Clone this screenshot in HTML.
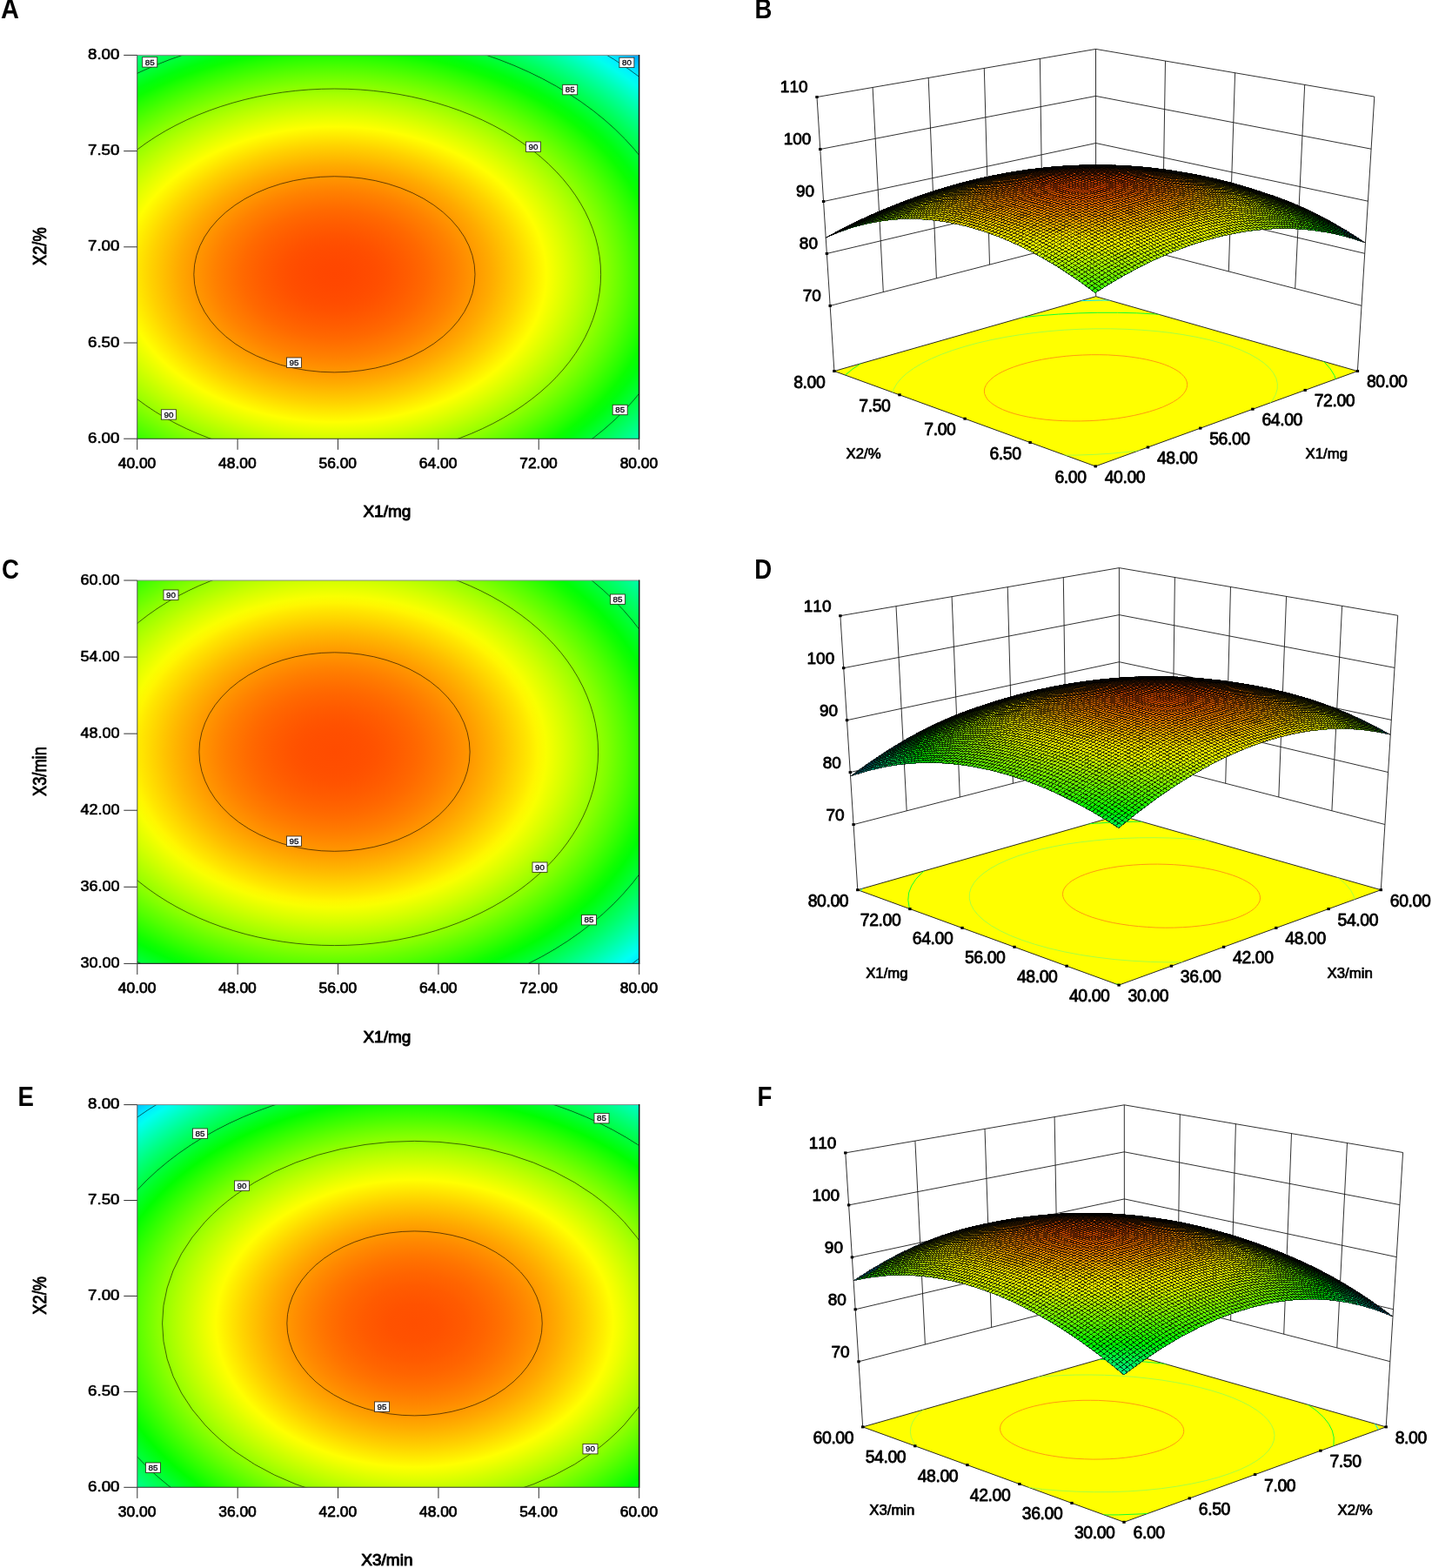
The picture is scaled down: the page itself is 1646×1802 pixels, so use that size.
<!DOCTYPE html>
<html><head><meta charset="utf-8"><title>Response surface and contour plots</title>
<style>html,body{margin:0;padding:0;background:#fff;overflow:hidden}svg{display:block}text{font-kerning:none}</style></head>
<body><svg width="1646" height="1802" viewBox="0 0 1646 1802">
<rect width="1646" height="1802" fill="#fff"/>
<defs><radialGradient id="gA" gradientUnits="userSpaceOnUse" cx="0" cy="0" r="1" fx="0" fy="0" gradientTransform="translate(384.42 315.32) scale(508.42 354.15)"><stop offset="0.0000" stop-color="#ff4600"/><stop offset="0.0208" stop-color="#ff4700"/><stop offset="0.0417" stop-color="#ff4800"/><stop offset="0.0625" stop-color="#ff4a00"/><stop offset="0.0833" stop-color="#ff4c00"/><stop offset="0.1042" stop-color="#ff4f00"/><stop offset="0.1250" stop-color="#ff5300"/><stop offset="0.1458" stop-color="#ff5800"/><stop offset="0.1667" stop-color="#ff5d00"/><stop offset="0.1875" stop-color="#ff6300"/><stop offset="0.2083" stop-color="#ff6900"/><stop offset="0.2292" stop-color="#ff7100"/><stop offset="0.2500" stop-color="#ff7900"/><stop offset="0.2708" stop-color="#ff8100"/><stop offset="0.2917" stop-color="#ff8b00"/><stop offset="0.3125" stop-color="#ff9500"/><stop offset="0.3333" stop-color="#ffa000"/><stop offset="0.3542" stop-color="#ffab00"/><stop offset="0.3750" stop-color="#ffb800"/><stop offset="0.3958" stop-color="#ffc500"/><stop offset="0.4167" stop-color="#ffd200"/><stop offset="0.4375" stop-color="#ffe100"/><stop offset="0.4583" stop-color="#fff000"/><stop offset="0.4792" stop-color="#ffff00"/><stop offset="0.5000" stop-color="#eeff00"/><stop offset="0.5208" stop-color="#ddff00"/><stop offset="0.5417" stop-color="#cbff00"/><stop offset="0.5625" stop-color="#b9ff00"/><stop offset="0.5833" stop-color="#a6ff00"/><stop offset="0.6042" stop-color="#92ff00"/><stop offset="0.6250" stop-color="#7dff00"/><stop offset="0.6458" stop-color="#68ff00"/><stop offset="0.6667" stop-color="#52ff00"/><stop offset="0.6875" stop-color="#3bff00"/><stop offset="0.7083" stop-color="#24ff00"/><stop offset="0.7292" stop-color="#0bff00"/><stop offset="0.7500" stop-color="#00ff0d"/><stop offset="0.7708" stop-color="#00ff27"/><stop offset="0.7917" stop-color="#00ff41"/><stop offset="0.8125" stop-color="#00ff5c"/><stop offset="0.8333" stop-color="#00ff78"/><stop offset="0.8542" stop-color="#00ff94"/><stop offset="0.8750" stop-color="#00ffb1"/><stop offset="0.8958" stop-color="#00ffcf"/><stop offset="0.9167" stop-color="#00ffed"/><stop offset="0.9375" stop-color="#00f2ff"/><stop offset="0.9583" stop-color="#00d2ff"/><stop offset="0.9792" stop-color="#00b2ff"/><stop offset="1.0000" stop-color="#0090ff"/></radialGradient>
<clipPath id="cA"><rect x="157.70" y="63.40" width="576.90" height="440.80"/></clipPath>
<radialGradient id="gC" gradientUnits="userSpaceOnUse" cx="0" cy="0" r="1" fx="0" fy="0" gradientTransform="translate(384.52 864.08) scale(486.96 357.49)"><stop offset="0.0000" stop-color="#ff4c00"/><stop offset="0.0208" stop-color="#ff4d00"/><stop offset="0.0417" stop-color="#ff4e00"/><stop offset="0.0625" stop-color="#ff4f00"/><stop offset="0.0833" stop-color="#ff5100"/><stop offset="0.1042" stop-color="#ff5400"/><stop offset="0.1250" stop-color="#ff5800"/><stop offset="0.1458" stop-color="#ff5c00"/><stop offset="0.1667" stop-color="#ff6100"/><stop offset="0.1875" stop-color="#ff6600"/><stop offset="0.2083" stop-color="#ff6c00"/><stop offset="0.2292" stop-color="#ff7300"/><stop offset="0.2500" stop-color="#ff7a00"/><stop offset="0.2708" stop-color="#ff8200"/><stop offset="0.2917" stop-color="#ff8b00"/><stop offset="0.3125" stop-color="#ff9400"/><stop offset="0.3333" stop-color="#ff9e00"/><stop offset="0.3542" stop-color="#ffa900"/><stop offset="0.3750" stop-color="#ffb400"/><stop offset="0.3958" stop-color="#ffc000"/><stop offset="0.4167" stop-color="#ffcd00"/><stop offset="0.4375" stop-color="#ffda00"/><stop offset="0.4583" stop-color="#ffe700"/><stop offset="0.4792" stop-color="#fff600"/><stop offset="0.5000" stop-color="#f9ff00"/><stop offset="0.5208" stop-color="#e9ff00"/><stop offset="0.5417" stop-color="#d9ff00"/><stop offset="0.5625" stop-color="#c8ff00"/><stop offset="0.5833" stop-color="#b6ff00"/><stop offset="0.6042" stop-color="#a4ff00"/><stop offset="0.6250" stop-color="#91ff00"/><stop offset="0.6458" stop-color="#7eff00"/><stop offset="0.6667" stop-color="#69ff00"/><stop offset="0.6875" stop-color="#55ff00"/><stop offset="0.7083" stop-color="#3fff00"/><stop offset="0.7292" stop-color="#29ff00"/><stop offset="0.7500" stop-color="#12ff00"/><stop offset="0.7708" stop-color="#00ff05"/><stop offset="0.7917" stop-color="#00ff1d"/><stop offset="0.8125" stop-color="#00ff36"/><stop offset="0.8333" stop-color="#00ff4f"/><stop offset="0.8542" stop-color="#00ff69"/><stop offset="0.8750" stop-color="#00ff84"/><stop offset="0.8958" stop-color="#00ff9f"/><stop offset="0.9167" stop-color="#00ffbb"/><stop offset="0.9375" stop-color="#00ffd8"/><stop offset="0.9583" stop-color="#00fff5"/><stop offset="0.9792" stop-color="#00ebff"/><stop offset="1.0000" stop-color="#00cdff"/></radialGradient>
<clipPath id="cC"><rect x="157.80" y="667.00" width="576.90" height="440.40"/></clipPath>
<radialGradient id="gE" gradientUnits="userSpaceOnUse" cx="0" cy="0" r="1" fx="0" fy="0" gradientTransform="translate(476.54 1520.89) scale(476.45 344.25)"><stop offset="0.0000" stop-color="#ff4f00"/><stop offset="0.0208" stop-color="#ff5000"/><stop offset="0.0417" stop-color="#ff5100"/><stop offset="0.0625" stop-color="#ff5200"/><stop offset="0.0833" stop-color="#ff5500"/><stop offset="0.1042" stop-color="#ff5800"/><stop offset="0.1250" stop-color="#ff5b00"/><stop offset="0.1458" stop-color="#ff6000"/><stop offset="0.1667" stop-color="#ff6400"/><stop offset="0.1875" stop-color="#ff6a00"/><stop offset="0.2083" stop-color="#ff7000"/><stop offset="0.2292" stop-color="#ff7700"/><stop offset="0.2500" stop-color="#ff7f00"/><stop offset="0.2708" stop-color="#ff8700"/><stop offset="0.2917" stop-color="#ff9000"/><stop offset="0.3125" stop-color="#ff9a00"/><stop offset="0.3333" stop-color="#ffa400"/><stop offset="0.3542" stop-color="#ffaf00"/><stop offset="0.3750" stop-color="#ffbb00"/><stop offset="0.3958" stop-color="#ffc700"/><stop offset="0.4167" stop-color="#ffd400"/><stop offset="0.4375" stop-color="#ffe200"/><stop offset="0.4583" stop-color="#fff000"/><stop offset="0.4792" stop-color="#ffff00"/><stop offset="0.5000" stop-color="#f0ff00"/><stop offset="0.5208" stop-color="#dfff00"/><stop offset="0.5417" stop-color="#ceff00"/><stop offset="0.5625" stop-color="#bdff00"/><stop offset="0.5833" stop-color="#abff00"/><stop offset="0.6042" stop-color="#98ff00"/><stop offset="0.6250" stop-color="#84ff00"/><stop offset="0.6458" stop-color="#70ff00"/><stop offset="0.6667" stop-color="#5bff00"/><stop offset="0.6875" stop-color="#45ff00"/><stop offset="0.7083" stop-color="#2fff00"/><stop offset="0.7292" stop-color="#18ff00"/><stop offset="0.7500" stop-color="#01ff00"/><stop offset="0.7708" stop-color="#00ff18"/><stop offset="0.7917" stop-color="#00ff31"/><stop offset="0.8125" stop-color="#00ff4a"/><stop offset="0.8333" stop-color="#00ff64"/><stop offset="0.8542" stop-color="#00ff7f"/><stop offset="0.8750" stop-color="#00ff9b"/><stop offset="0.8958" stop-color="#00ffb7"/><stop offset="0.9167" stop-color="#00ffd4"/><stop offset="0.9375" stop-color="#00fff1"/><stop offset="0.9583" stop-color="#00eeff"/><stop offset="0.9792" stop-color="#00d0ff"/><stop offset="1.0000" stop-color="#00b0ff"/></radialGradient>
<clipPath id="cE"><rect x="157.80" y="1269.60" width="576.90" height="439.70"/></clipPath>
<clipPath id="fB"><path d="M958.9 426.5L1259.2 535.9L1560.4 426.5L1259.7 340.7Z"/></clipPath>
<clipPath id="sB"><path d="M949.2 273.2L952.5 271.7L955.7 270.3L959 268.9L962.3 267.6L965.6 266.3L968.9 265.1L972.3 263.9L975.7 262.8L979 261.7L982.4 260.7L985.9 259.7L989.3 258.8L992.7 258L996.2 257.2L999.7 256.4L1003.2 255.7L1006.7 255L1010.2 254.5L1013.8 253.9L1017.3 253.4L1020.9 253L1024.5 252.6L1028.1 252.3L1031.8 252L1035.4 251.8L1039.1 251.7L1042.8 251.6L1046.5 251.6L1050.2 251.6L1053.9 251.7L1057.7 251.8L1060.7 252L1063.7 252.2L1066.7 252.4L1069.8 252.7L1072.8 253L1075.9 253.4L1078.9 253.8L1082 254.2L1085.1 254.7L1088.2 255.2L1091.3 255.7L1094.4 256.3L1097.6 256.9L1100.7 257.6L1103.9 258.3L1107 259L1110.2 259.8L1113.4 260.6L1116.6 261.5L1119.8 262.4L1123 263.4L1126.2 264.4L1129.4 265.4L1132.7 266.5L1135.9 267.6L1139.2 268.7L1142.4 269.9L1145.7 271.2L1149 272.5L1152.3 273.8L1155.6 275.2L1158.9 276.6L1162.3 278L1165.6 279.5L1168.9 281.1L1172.3 282.6L1175.7 284.3L1179 285.9L1182.4 287.6L1185.8 289.4L1189.2 291.2L1192.6 293L1196 294.9L1199.4 296.8L1202.9 298.8L1206.3 300.8L1208.9 302.4L1211.5 303.9L1214.1 305.5L1216.7 307.2L1219.3 308.8L1221.9 310.5L1224.5 312.2L1227.2 313.9L1229.8 315.6L1232.4 317.4L1235.1 319.2L1237.7 321L1240.3 322.9L1243 324.7L1245.6 326.6L1248.3 328.5L1251 330.5L1253.6 332.5L1256.3 334.5L1259 336.5L1261.7 334.8L1264.3 333.1L1267 331.4L1269.7 329.7L1272.3 328.1L1275 326.5L1277.6 324.9L1280.3 323.3L1282.9 321.7L1285.6 320.2L1288.2 318.7L1290.8 317.2L1293.4 315.7L1296.9 313.8L1300.4 311.9L1303.9 310.1L1307.4 308.3L1310.8 306.5L1314.3 304.8L1317.7 303.1L1321.1 301.4L1324.5 299.8L1327.9 298.2L1331.3 296.6L1334.7 295.1L1338.1 293.6L1341.5 292.2L1344.9 290.8L1348.2 289.4L1351.6 288.1L1354.9 286.8L1358.2 285.5L1361.5 284.3L1364.8 283.1L1368.1 281.9L1371.4 280.8L1374.7 279.7L1378 278.7L1381.2 277.7L1384.5 276.7L1387.7 275.7L1391 274.8L1394.2 273.9L1397.4 273.1L1400.6 272.3L1403.8 271.5L1407 270.8L1410.2 270L1413.3 269.4L1416.5 268.7L1419.6 268.1L1422.8 267.5L1425.9 267L1429 266.5L1432.1 266L1435.2 265.6L1438.3 265.2L1441.4 264.8L1444.4 264.4L1447.5 264.1L1450.6 263.8L1453.6 263.6L1456.6 263.4L1459.6 263.2L1462.6 263L1465.6 262.9L1469.4 262.8L1473.1 262.7L1476.8 262.7L1480.5 262.7L1484.1 262.8L1487.8 263L1491.4 263.1L1495.1 263.3L1498.7 263.6L1502.3 263.9L1505.8 264.3L1509.4 264.7L1512.9 265.2L1516.5 265.7L1520 266.2L1523.5 266.8L1527 267.4L1530.4 268.1L1533.9 268.8L1537.3 269.6L1540.7 270.4L1544.1 271.3L1547.5 272.1L1550.9 273.1L1554.2 274.1L1557.6 275.1L1560.9 276.2L1564.2 277.3L1567.5 278.4L1565.2 276.3L1562.7 274.6L1560.1 272.9L1557.6 271.3L1555 269.7L1551.7 267.5L1548.3 265.5L1544.9 263.4L1541.5 261.4L1538.2 259.4L1534.8 257.5L1531.5 255.6L1528.1 253.8L1524.8 252L1521.4 250.2L1518.1 248.5L1514.8 246.8L1511.5 245.1L1508.1 243.5L1504.8 241.9L1501.5 240.4L1498.2 238.9L1494.9 237.4L1491.6 236L1488.4 234.6L1485.1 233.2L1481.8 231.9L1478.5 230.6L1475.3 229.4L1470.9 227.7L1467.5 226.5L1464 225.3L1460.6 224.1L1457.1 222.9L1453.7 221.7L1450.2 220.6L1446.8 219.4L1443.3 218.3L1439.9 217.2L1436.4 216.2L1433 215.1L1429.5 214.1L1426 213.1L1422.6 212.1L1419.1 211.2L1415.6 210.2L1412.2 209.3L1408.7 208.4L1405.2 207.5L1401.7 206.7L1398.2 205.8L1394.8 205L1391.3 204.2L1387.8 203.4L1384.3 202.7L1380.8 202L1377.3 201.2L1373.8 200.6L1370.3 199.9L1366.8 199.2L1363.3 198.6L1359.8 198L1356.3 197.4L1352.8 196.9L1349.3 196.3L1345.8 195.8L1342.3 195.3L1338.8 194.8L1335.3 194.3L1331.7 193.9L1328.2 193.5L1324.7 193.1L1321.2 192.7L1317.7 192.4L1314.1 192L1310.6 191.7L1307.1 191.4L1303.6 191.2L1300 190.9L1296.5 190.7L1293 190.5L1289.4 190.3L1285.9 190.2L1282.4 190L1278.8 189.9L1275.3 189.8L1271.8 189.7L1268.2 189.7L1264.7 189.6L1261.1 189.6L1257.6 189.6L1254.1 189.7L1250.5 189.7L1247 189.8L1243.4 189.9L1239.9 190L1236.3 190.1L1232.8 190.3L1229.2 190.5L1225.7 190.7L1222.1 190.9L1218.6 191.2L1215 191.4L1211.5 191.7L1207.9 192L1204.4 192.3L1200.8 192.7L1197.3 193.1L1193.7 193.5L1190.2 193.9L1186.6 194.3L1183.1 194.8L1179.5 195.3L1175.9 195.8L1172.4 196.3L1168.8 196.8L1165.3 197.4L1161.7 198L1158.2 198.6L1154.6 199.2L1151 199.9L1147.5 200.6L1143.9 201.3L1140.4 202L1136.8 202.7L1133.2 203.5L1129.7 204.3L1126.1 205.1L1122.6 205.9L1119 206.8L1115.5 207.6L1111.9 208.5L1108.3 209.4L1104.8 210.4L1101.2 211.3L1097.7 212.3L1094.1 213.3L1090.6 214.3L1087 215.4L1083.4 216.4L1079.9 217.5L1076.3 218.6L1072.8 219.8L1069.2 220.9L1065.7 222.1L1062.1 223.3L1058.6 224.5L1055 225.7L1051.5 227L1047.9 228.2L1044.4 229.5L1040.8 230.9L1037.3 232.2L1033.7 233.6L1030.2 235L1026.6 236.4L1023.1 237.8L1019.5 239.2L1016 240.7L1012.5 242.2L1008.9 243.7L1005.4 245.3L1001.8 246.8L998.3 248.4L994.8 250L991.2 251.6L988.2 253L984.9 254.6L981.5 256.2L978.1 257.8L974.8 259.5L971.4 261.3L968 263L964.6 264.8L961.2 266.6L957.8 268.5L954.3 270.3L950.9 272.3Z"/></clipPath>
<path id="bB" d="M1470.9 227.7L1467.5 226.5L1464 225.3L1460.6 224.1L1457.1 222.9L1453.7 221.7L1450.2 220.6L1446.8 219.4L1443.3 218.3L1439.9 217.2L1436.4 216.2L1433 215.1L1429.5 214.1L1426 213.1L1422.6 212.1L1419.1 211.2L1415.6 210.2L1412.2 209.3L1408.7 208.4L1405.2 207.5L1401.7 206.7L1398.2 205.8L1394.8 205L1391.3 204.2L1387.8 203.4L1384.3 202.7L1380.8 202L1377.3 201.2L1373.8 200.6L1370.3 199.9L1366.8 199.2L1363.3 198.6L1359.8 198L1356.3 197.4L1352.8 196.9L1349.3 196.3L1345.8 195.8L1342.3 195.3L1338.8 194.8L1335.3 194.3L1331.7 193.9L1328.2 193.5L1324.7 193.1L1321.2 192.7L1317.7 192.4L1314.1 192L1310.6 191.7L1307.1 191.4L1303.6 191.2L1300 190.9L1296.5 190.7L1293 190.5L1289.4 190.3L1285.9 190.2L1282.4 190L1278.8 189.9L1275.3 189.8L1271.8 189.7L1268.2 189.7L1264.7 189.6L1261.1 189.6L1257.6 189.6L1254.1 189.7L1250.5 189.7L1247 189.8L1243.4 189.9L1239.9 190L1236.3 190.1L1232.8 190.3L1229.2 190.5L1225.7 190.7L1222.1 190.9L1218.6 191.2L1215 191.4L1211.5 191.7L1207.9 192L1204.4 192.3L1200.8 192.7L1197.3 193.1L1193.7 193.5L1190.2 193.9L1186.6 194.3L1183.1 194.8L1179.5 195.3L1175.9 195.8L1172.4 196.3L1168.8 196.8L1165.3 197.4L1161.7 198L1158.2 198.6L1154.6 199.2L1151 199.9L1147.5 200.6L1143.9 201.3L1140.4 202L1136.8 202.7L1133.2 203.5L1129.7 204.3L1126.1 205.1L1122.6 205.9L1119 206.8L1115.5 207.6L1111.9 208.5L1108.3 209.4L1104.8 210.4L1101.2 211.3L1097.7 212.3L1094.1 213.3L1090.6 214.3L1087 215.4L1083.4 216.4L1079.9 217.5L1076.3 218.6L1072.8 219.8L1069.2 220.9L1065.7 222.1L1062.1 223.3L1058.6 224.5L1055 225.7L1051.5 227L1047.9 228.2L1044.4 229.5L1040.8 230.9L1037.3 232.2L1033.7 233.6L1030.2 235L1026.6 236.4L1023.1 237.8L1019.5 239.2L1016 240.7L1012.5 242.2L1008.9 243.7L1005.4 245.3L1001.8 246.8L998.3 248.4L994.8 250L991.2 251.6"/>
<clipPath id="fD"><path d="M985.8 1022.7L1286.1 1132.1L1587.3 1022.7L1286.6 936.9Z"/></clipPath>
<clipPath id="sD"><path d="M977.6 892.1L980.8 890.9L984.1 889.8L987.4 888.8L990.7 887.8L994 886.8L997.3 885.9L1000.7 885L1004 884.2L1007.4 883.4L1010.8 882.6L1014.2 881.9L1017.6 881.2L1021.1 880.6L1024.5 880L1028 879.5L1031.5 879L1035 878.5L1038.5 878.1L1042.1 877.8L1045.6 877.5L1049.2 877.2L1052.8 877L1056.4 876.8L1060 876.7L1063.6 876.6L1067.3 876.6L1070.9 876.6L1074.6 876.6L1078.3 876.7L1082 876.9L1085.8 877.1L1089.5 877.4L1092.5 877.6L1095.5 877.9L1098.5 878.2L1101.6 878.5L1104.6 878.9L1107.7 879.3L1110.7 879.7L1113.8 880.2L1116.9 880.7L1120 881.2L1123.1 881.8L1126.2 882.4L1129.3 883L1132.5 883.7L1135.6 884.4L1138.8 885.1L1141.9 885.9L1145.1 886.7L1148.3 887.5L1151.5 888.4L1154.7 889.3L1157.9 890.2L1161.1 891.2L1164.4 892.2L1167.6 893.2L1170.8 894.3L1174.1 895.4L1177.4 896.5L1180.6 897.7L1183.9 898.9L1187.2 900.2L1190.5 901.4L1193.9 902.7L1197.2 904.1L1200.5 905.5L1203.9 906.9L1207.2 908.4L1210.6 909.9L1213.9 911.4L1217.3 913L1220.7 914.6L1224.1 916.2L1227.5 917.9L1230.9 919.6L1234.4 921.4L1237.8 923.1L1241.2 925L1244.7 926.8L1248.2 928.7L1251.6 930.7L1255.1 932.6L1257.7 934.2L1260.3 935.7L1263 937.2L1265.6 938.8L1268.2 940.4L1270.9 942L1273.5 943.6L1276.2 945.3L1278.8 947L1281.5 948.7L1284.1 950.4L1287.7 950L1290.4 947.8L1293 945.6L1295.7 943.5L1298.3 941.3L1301 939.2L1303.6 937.1L1306.3 935L1308.9 932.9L1311.5 930.9L1314.2 928.9L1316.8 926.9L1319.4 924.9L1322 923L1324.6 921.1L1327.2 919.2L1329.8 917.3L1332.4 915.5L1335 913.6L1337.6 911.8L1340.2 910.1L1342.8 908.3L1345.4 906.6L1347.9 904.9L1350.5 903.2L1353.1 901.5L1355.6 899.9L1358.2 898.2L1360.7 896.6L1364.1 894.5L1367.5 892.5L1370.9 890.5L1374.2 888.5L1377.6 886.5L1380.9 884.6L1384.3 882.8L1387.6 881L1390.9 879.2L1394.2 877.4L1397.5 875.7L1400.8 874.1L1404.1 872.4L1407.4 870.9L1410.7 869.3L1413.9 867.8L1417.2 866.3L1420.4 864.9L1423.7 863.5L1426.9 862.1L1430.1 860.8L1433.3 859.5L1436.5 858.3L1439.7 857.1L1442.9 855.9L1446 854.8L1449.2 853.7L1452.4 852.6L1455.5 851.6L1458.6 850.6L1461.8 849.7L1464.9 848.8L1468 847.9L1471.1 847.1L1474.2 846.3L1477.2 845.5L1480.3 844.8L1483.4 844.1L1486.4 843.4L1489.4 842.8L1492.5 842.2L1495.5 841.7L1498.5 841.1L1501.5 840.7L1504.5 840.2L1507.5 839.8L1511.2 839.3L1514.9 838.9L1518.6 838.6L1522.2 838.3L1525.9 838L1529.5 837.8L1533.1 837.7L1536.7 837.6L1540.3 837.5L1543.9 837.5L1547.5 837.6L1551 837.7L1554.5 837.9L1558 838.1L1561.5 838.3L1565 838.6L1568.5 839L1571.9 839.4L1575.3 839.9L1578.8 840.4L1582.2 840.9L1585.6 841.5L1588.9 842.2L1592.3 842.9L1595.6 843.6L1593.1 841.4L1589.7 839.5L1586.2 837.7L1582.8 835.9L1579.4 834.2L1576 832.4L1572.6 830.7L1569.2 829.1L1565.8 827.4L1562.4 825.8L1559 824.2L1555.6 822.7L1552.2 821.2L1548.9 819.7L1545.5 818.3L1542.1 816.9L1538.8 815.5L1535.4 814.2L1532.1 812.9L1528.8 811.6L1525.4 810.3L1522.1 809.1L1518.8 807.9L1515.5 806.8L1512.2 805.7L1508.9 804.6L1505.6 803.5L1502.3 802.5L1499 801.5L1495.8 800.6L1492.5 799.6L1489.2 798.7L1486 797.9L1482.8 797L1476.4 795.4L1472.9 794.6L1469.3 793.7L1465.8 792.9L1462.2 792.1L1458.7 791.4L1455.1 790.6L1451.6 789.9L1448.1 789.2L1444.5 788.5L1441 787.8L1437.4 787.2L1433.9 786.6L1430.3 786L1426.8 785.4L1423.2 784.8L1419.7 784.3L1416.2 783.8L1412.6 783.3L1409.1 782.8L1405.5 782.3L1402 781.9L1398.4 781.5L1394.9 781.1L1391.3 780.7L1387.8 780.4L1384.2 780L1380.7 779.7L1377.2 779.4L1373.6 779.2L1370.1 778.9L1366.5 778.7L1363 778.5L1359.4 778.3L1355.9 778.1L1352.3 778L1348.8 777.8L1345.3 777.7L1341.7 777.7L1338.2 777.6L1334.6 777.5L1331.1 777.5L1327.5 777.5L1324 777.5L1320.5 777.6L1316.9 777.6L1313.4 777.7L1309.8 777.8L1306.3 778L1302.8 778.1L1299.2 778.3L1295.7 778.4L1292.2 778.7L1288.6 778.9L1285.1 779.1L1281.6 779.4L1278 779.7L1274.5 780L1271 780.3L1267.5 780.7L1263.9 781L1260.4 781.4L1256.9 781.8L1253.3 782.3L1249.8 782.7L1246.3 783.2L1242.8 783.7L1239.3 784.2L1235.7 784.7L1232.2 785.3L1228.7 785.9L1225.2 786.5L1221.7 787.1L1218.2 787.7L1214.7 788.4L1211.2 789.1L1207.6 789.7L1204.1 790.5L1200.6 791.2L1197.1 792L1193.6 792.7L1190.1 793.5L1186.6 794.4L1183.1 795.2L1179.6 796.1L1176.1 796.9L1172.6 797.8L1169.2 798.8L1165.7 799.7L1162.2 800.7L1158.7 801.6L1155.2 802.6L1151.7 803.7L1148.2 804.7L1144.8 805.8L1141.3 806.9L1137.8 808L1134.3 809.1L1130.9 810.2L1127.4 811.4L1123.9 812.6L1120.5 813.8L1117 815L1113.5 816.2L1110.1 817.5L1107 818.6L1103.9 819.8L1100.7 821L1097.5 822.3L1094.3 823.6L1091.1 825L1087.9 826.3L1084.7 827.7L1081.5 829.2L1078.2 830.6L1075 832.1L1071.8 833.7L1068.5 835.2L1065.3 836.9L1062 838.5L1058.8 840.2L1055.5 841.9L1052.3 843.6L1049 845.4L1045.7 847.2L1042.4 849.1L1039.2 850.9L1035.9 852.9L1032.6 854.8L1029.3 856.8L1026 858.8L1022.7 860.9L1019.3 863L1016 865.1L1012.7 867.2L1009.4 869.4L1006.9 871.1L1004.4 872.8L1001.9 874.5L999.4 876.2L996.9 878L994.4 879.8L991.8 881.6L989.3 883.4L986.8 885.2L984.3 887L981.8 888.9L979.2 890.8Z"/></clipPath>
<path id="bD" d="M1482.8 797L1476.4 795.4L1472.9 794.6L1469.3 793.7L1465.8 792.9L1462.2 792.1L1458.7 791.4L1455.1 790.6L1451.6 789.9L1448.1 789.2L1444.5 788.5L1441 787.8L1437.4 787.2L1433.9 786.6L1430.3 786L1426.8 785.4L1423.2 784.8L1419.7 784.3L1416.2 783.8L1412.6 783.3L1409.1 782.8L1405.5 782.3L1402 781.9L1398.4 781.5L1394.9 781.1L1391.3 780.7L1387.8 780.4L1384.2 780L1380.7 779.7L1377.2 779.4L1373.6 779.2L1370.1 778.9L1366.5 778.7L1363 778.5L1359.4 778.3L1355.9 778.1L1352.3 778L1348.8 777.8L1345.3 777.7L1341.7 777.7L1338.2 777.6L1334.6 777.5L1331.1 777.5L1327.5 777.5L1324 777.5L1320.5 777.6L1316.9 777.6L1313.4 777.7L1309.8 777.8L1306.3 778L1302.8 778.1L1299.2 778.3L1295.7 778.4L1292.2 778.7L1288.6 778.9L1285.1 779.1L1281.6 779.4L1278 779.7L1274.5 780L1271 780.3L1267.5 780.7L1263.9 781L1260.4 781.4L1256.9 781.8L1253.3 782.3L1249.8 782.7L1246.3 783.2L1242.8 783.7L1239.3 784.2L1235.7 784.7L1232.2 785.3L1228.7 785.9L1225.2 786.5L1221.7 787.1L1218.2 787.7L1214.7 788.4L1211.2 789.1L1207.6 789.7L1204.1 790.5L1200.6 791.2L1197.1 792L1193.6 792.7L1190.1 793.5L1186.6 794.4L1183.1 795.2L1179.6 796.1L1176.1 796.9L1172.6 797.8L1169.2 798.8L1165.7 799.7L1162.2 800.7L1158.7 801.6L1155.2 802.6L1151.7 803.7L1148.2 804.7L1144.8 805.8L1141.3 806.9L1137.8 808L1134.3 809.1L1130.9 810.2L1127.4 811.4L1123.9 812.6L1120.5 813.8L1117 815L1113.5 816.2L1110.1 817.5L1107 818.6"/>
<clipPath id="fF"><path d="M991.7 1639.9L1292.0 1749.3L1593.2 1639.9L1292.5 1554.1Z"/></clipPath>
<clipPath id="sF"><path d="M981.1 1471.8L984.4 1471.1L987.7 1470.4L991 1469.7L994.4 1469.1L997.7 1468.5L1001.1 1468L1004.5 1467.5L1007.9 1467.1L1011.4 1466.7L1014.8 1466.3L1018.3 1466.1L1021.7 1465.8L1025.2 1465.6L1028.7 1465.5L1032.3 1465.4L1035.8 1465.4L1039.3 1465.4L1042.9 1465.5L1046.5 1465.6L1050.1 1465.8L1053.7 1466L1057.3 1466.3L1061 1466.6L1064.6 1467L1068.3 1467.4L1072 1467.9L1075.7 1468.5L1078.7 1468.9L1081.7 1469.5L1084.7 1470L1087.7 1470.6L1090.7 1471.2L1093.7 1471.8L1096.8 1472.5L1099.8 1473.3L1102.9 1474L1105.9 1474.8L1109 1475.6L1112.1 1476.5L1115.2 1477.4L1118.3 1478.3L1121.4 1479.3L1124.5 1480.3L1127.6 1481.4L1130.8 1482.5L1133.9 1483.6L1137.1 1484.7L1140.2 1485.9L1143.4 1487.2L1146.6 1488.4L1149.8 1489.7L1153 1491.1L1156.2 1492.5L1159.4 1493.9L1162.7 1495.4L1165.9 1496.9L1169.2 1498.4L1172.4 1500L1175.7 1501.6L1179 1503.2L1182.3 1504.9L1185.5 1506.7L1188.9 1508.4L1192.2 1510.2L1195.5 1512.1L1198.8 1514L1202.1 1515.9L1205.5 1517.9L1208.9 1519.9L1212.2 1521.9L1215.6 1524L1219 1526.1L1221.5 1527.7L1224.1 1529.4L1226.6 1531L1229.2 1532.7L1231.7 1534.4L1234.3 1536.2L1236.8 1537.9L1239.4 1539.7L1242 1541.5L1244.6 1543.3L1247.2 1545.2L1249.8 1547L1252.4 1548.9L1255 1550.8L1257.6 1552.8L1260.2 1554.7L1262.8 1556.7L1265.4 1558.7L1268 1560.7L1270.7 1562.8L1273.3 1564.9L1275.9 1567L1278.6 1569.1L1281.2 1571.2L1283.8 1573.4L1286.5 1575.6L1289.2 1577.8L1291.8 1580L1294.5 1578L1297.1 1576L1299.8 1574L1302.4 1572L1305.1 1570.1L1307.7 1568.2L1310.4 1566.3L1313 1564.5L1315.6 1562.6L1318.3 1560.8L1320.9 1559L1323.5 1557.3L1326.1 1555.5L1328.7 1553.8L1331.3 1552.1L1333.9 1550.5L1336.5 1548.8L1339.1 1547.2L1341.7 1545.6L1344.2 1544.1L1347.7 1542L1351.1 1540L1354.5 1538.1L1357.9 1536.2L1361.3 1534.3L1364.7 1532.5L1368.1 1530.7L1371.4 1529L1374.8 1527.3L1378.1 1525.6L1381.5 1524L1384.8 1522.4L1388.1 1520.9L1391.5 1519.4L1394.8 1518L1398.1 1516.6L1401.3 1515.2L1404.6 1513.9L1407.9 1512.6L1411.1 1511.4L1414.4 1510.2L1417.6 1509.1L1420.9 1507.9L1424.1 1506.9L1427.3 1505.9L1430.5 1504.9L1433.7 1503.9L1436.9 1503L1440.1 1502.2L1443.2 1501.3L1446.4 1500.5L1449.5 1499.8L1452.7 1499.1L1455.8 1498.4L1458.9 1497.8L1462 1497.2L1465.1 1496.7L1468.2 1496.2L1471.3 1495.7L1474.3 1495.3L1477.4 1494.9L1480.4 1494.5L1483.5 1494.2L1486.5 1493.9L1489.5 1493.7L1492.5 1493.5L1495.5 1493.3L1499.2 1493.2L1503 1493.1L1506.7 1493L1510.3 1493.1L1514 1493.1L1517.7 1493.3L1521.3 1493.5L1524.9 1493.7L1528.5 1494L1532.1 1494.4L1535.7 1494.8L1539.2 1495.3L1542.8 1495.8L1546.3 1496.4L1549.8 1497L1553.3 1497.7L1556.7 1498.4L1560.2 1499.2L1563.6 1500.1L1567.1 1501L1570.5 1501.9L1573.8 1502.9L1577.2 1504L1580.6 1505.1L1583.9 1506.2L1587.2 1507.5L1590.5 1508.7L1593.8 1510L1597.1 1511.4L1600.4 1512.8L1597.6 1510.5L1595.1 1508.6L1592.6 1506.8L1590.1 1504.9L1587.5 1503.1L1585 1501.3L1582.5 1499.5L1580 1497.8L1577.5 1496L1575 1494.3L1572.5 1492.6L1570 1491L1566.7 1488.7L1563.3 1486.6L1560 1484.4L1556.7 1482.3L1553.4 1480.3L1550.1 1478.2L1546.8 1476.2L1543.5 1474.3L1540.2 1472.3L1536.9 1470.5L1533.6 1468.6L1530.3 1466.8L1527.1 1465L1523.8 1463.2L1520.6 1461.5L1517.3 1459.8L1514 1458.2L1510.8 1456.6L1507.6 1455L1504.3 1453.4L1501.1 1451.9L1497.9 1450.4L1493.6 1448.5L1490.1 1447L1486.6 1445.4L1483.1 1443.9L1479.6 1442.4L1476 1441L1472.5 1439.5L1469 1438.1L1465.5 1436.7L1462 1435.3L1458.5 1434L1455 1432.7L1451.5 1431.4L1447.9 1430.1L1444.4 1428.8L1440.9 1427.6L1437.4 1426.4L1433.9 1425.2L1430.3 1424L1426.8 1422.8L1423.3 1421.7L1419.8 1420.6L1416.2 1419.5L1412.7 1418.5L1409.2 1417.4L1405.7 1416.4L1402.1 1415.4L1398.6 1414.5L1395.1 1413.5L1391.5 1412.6L1388 1411.7L1384.5 1410.8L1380.9 1409.9L1377.4 1409.1L1373.9 1408.3L1370.3 1407.5L1366.8 1406.7L1363.3 1406L1359.7 1405.3L1356.2 1404.6L1352.7 1403.9L1349.1 1403.2L1345.6 1402.6L1342.1 1402L1338.5 1401.4L1335 1400.9L1331.5 1400.3L1327.9 1399.8L1324.4 1399.3L1320.8 1398.8L1317.3 1398.4L1313.8 1397.9L1310.2 1397.5L1306.7 1397.2L1303.2 1396.8L1299.6 1396.5L1296.1 1396.1L1292.5 1395.9L1289 1395.6L1285.5 1395.3L1281.9 1395.1L1278.4 1394.9L1274.9 1394.7L1271.3 1394.6L1267.8 1394.4L1264.3 1394.3L1260.7 1394.2L1257.2 1394.2L1253.7 1394.1L1250.1 1394.1L1246.6 1394.1L1243.1 1394.1L1239.6 1394.2L1236 1394.3L1232.5 1394.4L1229 1394.5L1225.5 1394.6L1221.9 1394.8L1218.4 1395L1214.9 1395.2L1211.4 1395.4L1207.8 1395.6L1204.3 1395.9L1200.8 1396.2L1197.3 1396.5L1193.8 1396.9L1190.2 1397.2L1186.7 1397.6L1183.2 1398L1179.7 1398.5L1176.2 1398.9L1172.7 1399.4L1169.2 1399.9L1165.7 1400.4L1162.2 1401L1158.7 1401.5L1155.2 1402.1L1151.6 1402.7L1148.1 1403.4L1144.6 1404L1141.2 1404.7L1137.7 1405.4L1134.2 1406.1L1130.7 1406.9L1127.2 1407.6L1123.7 1408.4L1120.2 1409.2L1116.7 1410.1L1113.2 1410.9L1109.6 1411.8L1106.4 1412.7L1103.2 1413.5L1100 1414.5L1096.7 1415.4L1093.5 1416.4L1090.3 1417.4L1087 1418.5L1083.8 1419.6L1080.5 1420.7L1077.2 1421.9L1074 1423.1L1070.7 1424.3L1067.4 1425.6L1064.1 1426.9L1060.8 1428.3L1057.5 1429.7L1054.2 1431.1L1050.9 1432.6L1047.6 1434.1L1044.3 1435.7L1040.9 1437.2L1037.6 1438.9L1034.3 1440.5L1030.9 1442.2L1027.6 1444L1024.2 1445.7L1020.9 1447.6L1017.5 1449.4L1014.1 1451.3L1010.8 1453.3L1007.4 1455.2L1004 1457.2L1000.6 1459.3L997.2 1461.4L994.7 1463L992.1 1464.6L989.6 1466.2L987 1467.9L984.5 1469.6L981.9 1471.3Z"/></clipPath>
<path id="bF" d="M1497.9 1450.4L1493.6 1448.5L1490.1 1447L1486.6 1445.4L1483.1 1443.9L1479.6 1442.4L1476 1441L1472.5 1439.5L1469 1438.1L1465.5 1436.7L1462 1435.3L1458.5 1434L1455 1432.7L1451.5 1431.4L1447.9 1430.1L1444.4 1428.8L1440.9 1427.6L1437.4 1426.4L1433.9 1425.2L1430.3 1424L1426.8 1422.8L1423.3 1421.7L1419.8 1420.6L1416.2 1419.5L1412.7 1418.5L1409.2 1417.4L1405.7 1416.4L1402.1 1415.4L1398.6 1414.5L1395.1 1413.5L1391.5 1412.6L1388 1411.7L1384.5 1410.8L1380.9 1409.9L1377.4 1409.1L1373.9 1408.3L1370.3 1407.5L1366.8 1406.7L1363.3 1406L1359.7 1405.3L1356.2 1404.6L1352.7 1403.9L1349.1 1403.2L1345.6 1402.6L1342.1 1402L1338.5 1401.4L1335 1400.9L1331.5 1400.3L1327.9 1399.8L1324.4 1399.3L1320.8 1398.8L1317.3 1398.4L1313.8 1397.9L1310.2 1397.5L1306.7 1397.2L1303.2 1396.8L1299.6 1396.5L1296.1 1396.1L1292.5 1395.9L1289 1395.6L1285.5 1395.3L1281.9 1395.1L1278.4 1394.9L1274.9 1394.7L1271.3 1394.6L1267.8 1394.4L1264.3 1394.3L1260.7 1394.2L1257.2 1394.2L1253.7 1394.1L1250.1 1394.1L1246.6 1394.1L1243.1 1394.1L1239.6 1394.2L1236 1394.3L1232.5 1394.4L1229 1394.5L1225.5 1394.6L1221.9 1394.8L1218.4 1395L1214.9 1395.2L1211.4 1395.4L1207.8 1395.6L1204.3 1395.9L1200.8 1396.2L1197.3 1396.5L1193.8 1396.9L1190.2 1397.2L1186.7 1397.6L1183.2 1398L1179.7 1398.5L1176.2 1398.9L1172.7 1399.4L1169.2 1399.9L1165.7 1400.4L1162.2 1401L1158.7 1401.5L1155.2 1402.1L1151.6 1402.7L1148.1 1403.4L1144.6 1404L1141.2 1404.7L1137.7 1405.4L1134.2 1406.1L1130.7 1406.9L1127.2 1407.6L1123.7 1408.4L1120.2 1409.2L1116.7 1410.1L1113.2 1410.9L1109.6 1411.8"/></defs>
<rect x="157.70" y="63.40" width="576.90" height="440.80" fill="url(#gA)"/>
<g clip-path="url(#cA)" fill="none" stroke="#000" stroke-width="0.75" stroke-opacity="0.8"><ellipse cx="384.42" cy="315.32" rx="478.59" ry="333.37"/><ellipse cx="384.42" cy="315.32" rx="401.75" ry="279.84"/><ellipse cx="384.42" cy="315.32" rx="306.20" ry="213.29"/><ellipse cx="384.42" cy="315.32" rx="161.59" ry="112.56"/></g>
<g fill="none"><path d="M157.70 63.40H734.60" stroke="#8a8a8a" stroke-width="1"/><path d="M157.70 63.40V504.20" stroke="#555" stroke-width="1"/><path d="M157.70 504.20H734.60" stroke="#333" stroke-width="1.1"/><path d="M734.60 62.90V504.70" stroke="#111" stroke-width="1.5"/></g>
<g stroke="#333" stroke-width="1" fill="none"><path d="M157.70 504.20V516.80"/><path d="M273.08 504.20V516.80"/><path d="M388.46 504.20V516.80"/><path d="M503.84 504.20V516.80"/><path d="M619.22 504.20V516.80"/><path d="M734.60 504.20V516.80"/><path d="M157.70 504.20H142.20"/><path d="M157.70 394.00H142.20"/><path d="M157.70 283.80H142.20"/><path d="M157.70 173.60H142.20"/><path d="M157.70 63.40H142.20"/></g>
<g font-family="'Liberation Sans',Arial,Helvetica,sans-serif" fill="#000"><text transform="translate(157.50 538.00)" font-size="17.4" text-anchor="middle" stroke="#000" stroke-width="0.75" stroke-linejoin="round">40.00</text><text transform="translate(272.88 538.00)" font-size="17.4" text-anchor="middle" stroke="#000" stroke-width="0.75" stroke-linejoin="round">48.00</text><text transform="translate(388.26 538.00)" font-size="17.4" text-anchor="middle" stroke="#000" stroke-width="0.75" stroke-linejoin="round">56.00</text><text transform="translate(503.64 538.00)" font-size="17.4" text-anchor="middle" stroke="#000" stroke-width="0.75" stroke-linejoin="round">64.00</text><text transform="translate(619.02 538.00)" font-size="17.4" text-anchor="middle" stroke="#000" stroke-width="0.75" stroke-linejoin="round">72.00</text><text transform="translate(734.40 538.00)" font-size="17.4" text-anchor="middle" stroke="#000" stroke-width="0.75" stroke-linejoin="round">80.00</text><text transform="translate(137.40 508.80) scale(1.100 1)" font-size="17" text-anchor="end" stroke="#000" stroke-width="0.62" stroke-linejoin="round">6.00</text><text transform="translate(137.40 398.60) scale(1.100 1)" font-size="17" text-anchor="end" stroke="#000" stroke-width="0.62" stroke-linejoin="round">6.50</text><text transform="translate(137.40 288.40) scale(1.100 1)" font-size="17" text-anchor="end" stroke="#000" stroke-width="0.62" stroke-linejoin="round">7.00</text><text transform="translate(137.40 178.20) scale(1.100 1)" font-size="17" text-anchor="end" stroke="#000" stroke-width="0.62" stroke-linejoin="round">7.50</text><text transform="translate(137.40 68.00) scale(1.100 1)" font-size="17" text-anchor="end" stroke="#000" stroke-width="0.62" stroke-linejoin="round">8.00</text><text transform="translate(444.90 594.00)" font-size="19" text-anchor="middle" stroke="#000" stroke-width="1" stroke-linejoin="round">X1/mg</text><text transform="translate(53.40 283.20) rotate(-90) scale(0.820 1)" font-size="22.3" text-anchor="middle" stroke="#000" stroke-width="0.9" stroke-linejoin="round">X2/%</text></g>
<g font-family="'Liberation Sans',Arial,Helvetica,sans-serif" fill="#15152a"><rect x="163.7" y="65.7" width="17" height="11.4" fill="#fff" stroke="#20160a" stroke-opacity="0.85" stroke-width="0.9"/><text transform="translate(172.20 75.00) scale(1.120 1)" font-size="8.8" text-anchor="middle" stroke="#000" stroke-width="0.3" stroke-linejoin="round">85</text><rect x="711.9" y="66.2" width="17" height="11.4" fill="#fff" stroke="#20160a" stroke-opacity="0.85" stroke-width="0.9"/><text transform="translate(720.40 75.00) scale(1.120 1)" font-size="8.8" text-anchor="middle" stroke="#000" stroke-width="0.3" stroke-linejoin="round">80</text><rect x="646.7" y="97.4" width="17" height="11.4" fill="#fff" stroke="#20160a" stroke-opacity="0.85" stroke-width="0.9"/><text transform="translate(655.20 106.00) scale(1.120 1)" font-size="8.8" text-anchor="middle" stroke="#000" stroke-width="0.3" stroke-linejoin="round">85</text><rect x="604.5" y="163.0" width="17" height="11.4" fill="#fff" stroke="#20160a" stroke-opacity="0.85" stroke-width="0.9"/><text transform="translate(613.00 172.00) scale(1.120 1)" font-size="8.8" text-anchor="middle" stroke="#000" stroke-width="0.3" stroke-linejoin="round">90</text><rect x="329.5" y="411.0" width="17" height="11.4" fill="#fff" stroke="#20160a" stroke-opacity="0.85" stroke-width="0.9"/><text transform="translate(338.00 420.00) scale(1.120 1)" font-size="8.8" text-anchor="middle" stroke="#000" stroke-width="0.3" stroke-linejoin="round">95</text><rect x="185.4" y="470.7" width="17" height="11.4" fill="#fff" stroke="#20160a" stroke-opacity="0.85" stroke-width="0.9"/><text transform="translate(193.90 480.00) scale(1.120 1)" font-size="8.8" text-anchor="middle" stroke="#000" stroke-width="0.3" stroke-linejoin="round">90</text><rect x="704.2" y="465.3" width="17" height="11.4" fill="#fff" stroke="#20160a" stroke-opacity="0.85" stroke-width="0.9"/><text transform="translate(712.70 474.00) scale(1.120 1)" font-size="8.8" text-anchor="middle" stroke="#000" stroke-width="0.3" stroke-linejoin="round">85</text></g>
<text transform="translate(1.10 21.00) scale(0.915 1)" font-family="'Liberation Sans',Arial,Helvetica,sans-serif" font-size="31.7" font-weight="bold" fill="#000">A</text>
<rect x="157.80" y="667.00" width="576.90" height="440.40" fill="url(#gC)"/>
<g clip-path="url(#cC)" fill="none" stroke="#000" stroke-width="0.75" stroke-opacity="0.8"><ellipse cx="384.52" cy="864.08" rx="476.60" ry="349.89"/><ellipse cx="384.52" cy="864.08" rx="399.38" ry="293.20"/><ellipse cx="384.52" cy="864.08" rx="303.09" ry="222.51"/><ellipse cx="384.52" cy="864.08" rx="155.62" ry="114.24"/></g>
<g fill="none"><path d="M157.80 667.00H734.70" stroke="#8a8a8a" stroke-width="1"/><path d="M157.80 667.00V1107.40" stroke="#555" stroke-width="1"/><path d="M157.80 1107.40H734.70" stroke="#333" stroke-width="1.1"/><path d="M734.70 666.50V1107.90" stroke="#111" stroke-width="1.5"/></g>
<g stroke="#333" stroke-width="1" fill="none"><path d="M157.80 1107.40V1120.00"/><path d="M273.18 1107.40V1120.00"/><path d="M388.56 1107.40V1120.00"/><path d="M503.94 1107.40V1120.00"/><path d="M619.32 1107.40V1120.00"/><path d="M734.70 1107.40V1120.00"/><path d="M157.80 1107.40H142.30"/><path d="M157.80 1019.32H142.30"/><path d="M157.80 931.24H142.30"/><path d="M157.80 843.16H142.30"/><path d="M157.80 755.08H142.30"/><path d="M157.80 667.00H142.30"/></g>
<g font-family="'Liberation Sans',Arial,Helvetica,sans-serif" fill="#000"><text transform="translate(157.60 1141.00)" font-size="17.4" text-anchor="middle" stroke="#000" stroke-width="0.75" stroke-linejoin="round">40.00</text><text transform="translate(272.98 1141.00)" font-size="17.4" text-anchor="middle" stroke="#000" stroke-width="0.75" stroke-linejoin="round">48.00</text><text transform="translate(388.36 1141.00)" font-size="17.4" text-anchor="middle" stroke="#000" stroke-width="0.75" stroke-linejoin="round">56.00</text><text transform="translate(503.74 1141.00)" font-size="17.4" text-anchor="middle" stroke="#000" stroke-width="0.75" stroke-linejoin="round">64.00</text><text transform="translate(619.12 1141.00)" font-size="17.4" text-anchor="middle" stroke="#000" stroke-width="0.75" stroke-linejoin="round">72.00</text><text transform="translate(734.50 1141.00)" font-size="17.4" text-anchor="middle" stroke="#000" stroke-width="0.75" stroke-linejoin="round">80.00</text><text transform="translate(137.50 1112.00) scale(1.060 1)" font-size="17" text-anchor="end" stroke="#000" stroke-width="0.62" stroke-linejoin="round">30.00</text><text transform="translate(137.50 1023.92) scale(1.060 1)" font-size="17" text-anchor="end" stroke="#000" stroke-width="0.62" stroke-linejoin="round">36.00</text><text transform="translate(137.50 935.84) scale(1.060 1)" font-size="17" text-anchor="end" stroke="#000" stroke-width="0.62" stroke-linejoin="round">42.00</text><text transform="translate(137.50 847.76) scale(1.060 1)" font-size="17" text-anchor="end" stroke="#000" stroke-width="0.62" stroke-linejoin="round">48.00</text><text transform="translate(137.50 759.68) scale(1.060 1)" font-size="17" text-anchor="end" stroke="#000" stroke-width="0.62" stroke-linejoin="round">54.00</text><text transform="translate(137.50 671.60) scale(1.060 1)" font-size="17" text-anchor="end" stroke="#000" stroke-width="0.62" stroke-linejoin="round">60.00</text><text transform="translate(444.90 1198.00)" font-size="19" text-anchor="middle" stroke="#000" stroke-width="1" stroke-linejoin="round">X1/mg</text><text transform="translate(53.40 886.60) rotate(-90) scale(0.820 1)" font-size="22.3" text-anchor="middle" stroke="#000" stroke-width="0.9" stroke-linejoin="round">X3/min</text></g>
<g font-family="'Liberation Sans',Arial,Helvetica,sans-serif" fill="#15152a"><rect x="188.0" y="678.0" width="17" height="11.4" fill="#fff" stroke="#20160a" stroke-opacity="0.85" stroke-width="0.9"/><text transform="translate(196.50 687.00) scale(1.120 1)" font-size="8.8" text-anchor="middle" stroke="#000" stroke-width="0.3" stroke-linejoin="round">90</text><rect x="701.5" y="683.0" width="17" height="11.4" fill="#fff" stroke="#20160a" stroke-opacity="0.85" stroke-width="0.9"/><text transform="translate(710.00 692.00) scale(1.120 1)" font-size="8.8" text-anchor="middle" stroke="#000" stroke-width="0.3" stroke-linejoin="round">85</text><rect x="329.5" y="961.0" width="17" height="11.4" fill="#fff" stroke="#20160a" stroke-opacity="0.85" stroke-width="0.9"/><text transform="translate(338.00 970.00) scale(1.120 1)" font-size="8.8" text-anchor="middle" stroke="#000" stroke-width="0.3" stroke-linejoin="round">95</text><rect x="612.0" y="991.0" width="17" height="11.4" fill="#fff" stroke="#20160a" stroke-opacity="0.85" stroke-width="0.9"/><text transform="translate(620.50 1000.00) scale(1.120 1)" font-size="8.8" text-anchor="middle" stroke="#000" stroke-width="0.3" stroke-linejoin="round">90</text><rect x="668.5" y="1051.5" width="17" height="11.4" fill="#fff" stroke="#20160a" stroke-opacity="0.85" stroke-width="0.9"/><text transform="translate(677.00 1060.00) scale(1.120 1)" font-size="8.8" text-anchor="middle" stroke="#000" stroke-width="0.3" stroke-linejoin="round">85</text></g>
<text transform="translate(1.95 664.80) scale(0.870 1)" font-family="'Liberation Sans',Arial,Helvetica,sans-serif" font-size="31.7" font-weight="bold" fill="#000">C</text>
<rect x="157.80" y="1269.60" width="576.90" height="439.70" fill="url(#gE)"/>
<g clip-path="url(#cE)" fill="none" stroke="#000" stroke-width="0.75" stroke-opacity="0.8"><ellipse cx="476.54" cy="1520.89" rx="457.38" ry="330.47"/><ellipse cx="476.54" cy="1520.89" rx="382.93" ry="276.68"/><ellipse cx="476.54" cy="1520.89" rx="289.96" ry="209.51"/><ellipse cx="476.54" cy="1520.89" rx="146.70" ry="105.99"/></g>
<g fill="none"><path d="M157.80 1269.60H734.70" stroke="#8a8a8a" stroke-width="1"/><path d="M157.80 1269.60V1709.30" stroke="#555" stroke-width="1"/><path d="M157.80 1709.30H734.70" stroke="#333" stroke-width="1.1"/><path d="M734.70 1269.10V1709.80" stroke="#111" stroke-width="1.5"/></g>
<g stroke="#333" stroke-width="1" fill="none"><path d="M157.80 1709.30V1721.90"/><path d="M273.18 1709.30V1721.90"/><path d="M388.56 1709.30V1721.90"/><path d="M503.94 1709.30V1721.90"/><path d="M619.32 1709.30V1721.90"/><path d="M734.70 1709.30V1721.90"/><path d="M157.80 1709.30H142.30"/><path d="M157.80 1599.38H142.30"/><path d="M157.80 1489.45H142.30"/><path d="M157.80 1379.52H142.30"/><path d="M157.80 1269.60H142.30"/></g>
<g font-family="'Liberation Sans',Arial,Helvetica,sans-serif" fill="#000"><text transform="translate(157.60 1743.00)" font-size="17.4" text-anchor="middle" stroke="#000" stroke-width="0.75" stroke-linejoin="round">30.00</text><text transform="translate(272.98 1743.00)" font-size="17.4" text-anchor="middle" stroke="#000" stroke-width="0.75" stroke-linejoin="round">36.00</text><text transform="translate(388.36 1743.00)" font-size="17.4" text-anchor="middle" stroke="#000" stroke-width="0.75" stroke-linejoin="round">42.00</text><text transform="translate(503.74 1743.00)" font-size="17.4" text-anchor="middle" stroke="#000" stroke-width="0.75" stroke-linejoin="round">48.00</text><text transform="translate(619.12 1743.00)" font-size="17.4" text-anchor="middle" stroke="#000" stroke-width="0.75" stroke-linejoin="round">54.00</text><text transform="translate(734.50 1743.00)" font-size="17.4" text-anchor="middle" stroke="#000" stroke-width="0.75" stroke-linejoin="round">60.00</text><text transform="translate(137.50 1713.90) scale(1.100 1)" font-size="17" text-anchor="end" stroke="#000" stroke-width="0.62" stroke-linejoin="round">6.00</text><text transform="translate(137.50 1603.97) scale(1.100 1)" font-size="17" text-anchor="end" stroke="#000" stroke-width="0.62" stroke-linejoin="round">6.50</text><text transform="translate(137.50 1494.05) scale(1.100 1)" font-size="17" text-anchor="end" stroke="#000" stroke-width="0.62" stroke-linejoin="round">7.00</text><text transform="translate(137.50 1384.12) scale(1.100 1)" font-size="17" text-anchor="end" stroke="#000" stroke-width="0.62" stroke-linejoin="round">7.50</text><text transform="translate(137.50 1274.20) scale(1.100 1)" font-size="17" text-anchor="end" stroke="#000" stroke-width="0.62" stroke-linejoin="round">8.00</text><text transform="translate(444.90 1799.00)" font-size="19" text-anchor="middle" stroke="#000" stroke-width="1" stroke-linejoin="round">X3/min</text><text transform="translate(53.40 1488.85) rotate(-90) scale(0.820 1)" font-size="22.3" text-anchor="middle" stroke="#000" stroke-width="0.9" stroke-linejoin="round">X2/%</text></g>
<g font-family="'Liberation Sans',Arial,Helvetica,sans-serif" fill="#15152a"><rect x="221.5" y="1297.0" width="17" height="11.4" fill="#fff" stroke="#20160a" stroke-opacity="0.85" stroke-width="0.9"/><text transform="translate(230.00 1306.00) scale(1.120 1)" font-size="8.8" text-anchor="middle" stroke="#000" stroke-width="0.3" stroke-linejoin="round">85</text><rect x="683.0" y="1279.5" width="17" height="11.4" fill="#fff" stroke="#20160a" stroke-opacity="0.85" stroke-width="0.9"/><text transform="translate(691.50 1288.00) scale(1.120 1)" font-size="8.8" text-anchor="middle" stroke="#000" stroke-width="0.3" stroke-linejoin="round">85</text><rect x="269.5" y="1357.0" width="17" height="11.4" fill="#fff" stroke="#20160a" stroke-opacity="0.85" stroke-width="0.9"/><text transform="translate(278.00 1366.00) scale(1.120 1)" font-size="8.8" text-anchor="middle" stroke="#000" stroke-width="0.3" stroke-linejoin="round">90</text><rect x="430.5" y="1611.0" width="17" height="11.4" fill="#fff" stroke="#20160a" stroke-opacity="0.85" stroke-width="0.9"/><text transform="translate(439.00 1620.00) scale(1.120 1)" font-size="8.8" text-anchor="middle" stroke="#000" stroke-width="0.3" stroke-linejoin="round">95</text><rect x="670.0" y="1659.5" width="17" height="11.4" fill="#fff" stroke="#20160a" stroke-opacity="0.85" stroke-width="0.9"/><text transform="translate(678.50 1668.00) scale(1.120 1)" font-size="8.8" text-anchor="middle" stroke="#000" stroke-width="0.3" stroke-linejoin="round">90</text><rect x="167.5" y="1681.0" width="17" height="11.4" fill="#fff" stroke="#20160a" stroke-opacity="0.85" stroke-width="0.9"/><text transform="translate(176.00 1690.00) scale(1.120 1)" font-size="8.8" text-anchor="middle" stroke="#000" stroke-width="0.3" stroke-linejoin="round">85</text></g>
<text transform="translate(20.40 1270.50) scale(0.870 1)" font-family="'Liberation Sans',Arial,Helvetica,sans-serif" font-size="31.7" font-weight="bold" fill="#000">E</text>
<g stroke="#1a1a1a" stroke-width="0.9" fill="none"><path d="M958.9 426.5L939.0 111.5"/><path d="M1259.7 340.7L1259.5 56.4"/><path d="M1560.4 426.5L1579.8 111.1"/><path d="M954.2 351.4L1259.7 272.6"/><path d="M1259.7 272.6L1565.0 351.3"/><path d="M950.4 291.4L1259.6 218.5"/><path d="M1259.6 218.5L1568.7 291.3"/><path d="M946.6 231.5L1259.6 164.5"/><path d="M1259.6 164.5L1572.4 231.2"/><path d="M942.8 171.5L1259.5 110.4"/><path d="M1259.5 110.4L1576.1 171.2"/><path d="M939.0 111.5L1259.5 56.4"/><path d="M1259.5 56.4L1579.8 111.1"/><path d="M1015.3 335.7L1003.1 100.5"/><path d="M1076.4 319.9L1067.2 89.5"/><path d="M1137.5 304.1L1131.3 78.4"/><path d="M1198.6 288.3L1195.4 67.4"/><path d="M1488.7 331.6L1499.7 97.4"/><path d="M1412.3 311.9L1419.6 83.7"/><path d="M1336.0 292.2L1339.5 70.1"/></g>
<path d="M958.9 426.5L1259.2 535.9L1560.4 426.5L1259.7 340.7Z" fill="#ffff00" stroke="#111" stroke-width="0.9"/>
<g clip-path="url(#fB)" fill="none" stroke-width="1"><path stroke="#00e8ff" d="M1481.2 368.4L1460.5 363.2L1438.7 358.7L1415.8 354.8L1392 351.6L1367.4 348.9L1342.3 347L1316.6 345.7L1290.5 345L1264.1 345.1L1237.7 345.8L1211.2 347.1L1184.9 349.1L1158.8 351.8L1133.1 355.1L1108 359L1083.5 363.6L1059.8 368.8L1037.1 374.6L1015.6 380.9L995.2 387.9L976.3 395.3L959 403.3L943.5 411.7L929.8 420.6L918.2 429.9L908.8 439.4L901.8 449.3L897.4 459.3L895.5 469.5L896.4 479.7L900.2 489.9L906.9 499.9L916.5 509.7L929.2 519.2L944.7 528.3L963.2 536.8L984.4 544.7L1008.3 551.9L1034.6 558.2L1063.1 563.6L1093.5 568L1125.6 571.4L1158.9 573.7L1193.2 574.8L1228 574.8L1262.9 573.6L1297.6 571.3L1331.6 567.9L1364.6 563.4L1396.3 557.9L1426.3 551.6L1454.4 544.4L1480.2 536.4L1503.7 527.9L1524.5 518.8L1542.7 509.3L1558.1 499.4L1570.6 489.3L1580.3 479.2L1587.2 468.9L1591.2 458.7L1592.6 448.7L1591.3 438.9L1587.5 429.3L1581.3 420.1L1572.7 411.2L1562 402.8L1549.3 394.8L1534.8 387.4L1518.4 380.5L1500.5 374.2L1481.2 368.4 Z"/><path stroke="#10ff30" d="M1446.8 379.6L1429.3 375.1L1410.9 371.2L1391.4 367.8L1371.2 365L1350.3 362.7L1328.7 361L1306.8 359.8L1284.4 359.3L1261.9 359.3L1239.2 359.9L1216.6 361.1L1194.1 362.8L1171.8 365.1L1149.9 368L1128.5 371.4L1107.8 375.4L1087.7 379.9L1068.6 384.9L1050.5 390.4L1033.5 396.4L1017.8 402.8L1003.5 409.6L990.8 416.8L979.7 424.3L970.4 432.1L963.1 440.2L957.8 448.4L954.6 456.8L953.6 465.3L955 473.8L958.7 482.2L964.8 490.4L973.4 498.5L984.3 506.2L997.7 513.6L1013.3 520.5L1031.1 526.9L1051.1 532.7L1072.9 537.8L1096.4 542.1L1121.5 545.6L1147.9 548.3L1175.2 550.1L1203.2 551L1231.7 551L1260.3 550.1L1288.7 548.2L1316.6 545.5L1343.7 541.9L1369.9 537.5L1394.7 532.4L1418 526.6L1439.5 520.2L1459.2 513.3L1476.8 505.9L1492.3 498.1L1505.6 490L1516.5 481.7L1525.1 473.3L1531.4 464.8L1535.4 456.3L1537.1 448L1536.5 439.7L1533.9 431.6L1529.1 423.8L1522.4 416.3L1513.8 409.1L1503.5 402.3L1491.5 396L1478 390L1463 384.6L1446.8 379.6 Z"/><path stroke="#a8ff40" d="M1402.5 394L1389.2 390.4L1374.9 387.3L1359.9 384.6L1344.2 382.3L1328 380.5L1311.2 379.2L1294 378.3L1276.6 377.8L1259 377.8L1241.3 378.3L1223.6 379.2L1206 380.6L1188.7 382.5L1171.7 384.8L1155.1 387.5L1139 390.7L1123.6 394.2L1109 398.2L1095.2 402.5L1082.3 407.2L1070.5 412.2L1059.9 417.5L1050.5 423.1L1042.4 428.9L1035.8 434.9L1030.7 441.1L1027.2 447.4L1025.3 453.7L1025.1 460.1L1026.7 466.5L1030.1 472.8L1035.2 478.9L1042.1 484.9L1050.7 490.6L1061.1 496L1073.1 501.1L1086.7 505.7L1101.8 509.9L1118.2 513.6L1135.8 516.7L1154.5 519.2L1174.1 521.2L1194.3 522.5L1215.1 523.1L1236.1 523.1L1257.2 522.4L1278.2 521.1L1298.9 519.1L1319.1 516.6L1338.5 513.4L1357.1 509.7L1374.6 505.5L1390.9 500.8L1405.9 495.7L1419.4 490.3L1431.4 484.6L1441.8 478.6L1450.5 472.4L1457.5 466.2L1462.8 459.8L1466.3 453.4L1468.2 447L1468.3 440.7L1466.8 434.5L1463.6 428.5L1459 422.7L1452.8 417.2L1445.2 411.9L1436.3 406.9L1426.2 402.2L1414.9 397.9L1402.5 394 Z"/><path stroke="#ff9a10" d="M1332.2 416.8L1325.1 414.9L1317.5 413.1L1309.4 411.6L1300.9 410.3L1292 409.2L1282.9 408.5L1273.5 407.9L1263.9 407.7L1254.3 407.7L1244.6 408L1234.9 408.5L1225.2 409.3L1215.8 410.4L1206.5 411.7L1197.6 413.2L1188.9 415L1180.7 417L1172.9 419.2L1165.6 421.6L1158.9 424.2L1152.8 426.9L1147.4 429.8L1142.7 432.8L1138.8 436L1135.7 439.2L1133.4 442.5L1131.9 445.8L1131.4 449.1L1131.7 452.5L1133 455.7L1135.1 459L1138.2 462.1L1142.1 465.1L1146.9 468L1152.5 470.7L1158.9 473.2L1166.1 475.5L1173.9 477.5L1182.4 479.3L1191.5 480.8L1201 482.1L1210.9 483L1221.2 483.6L1231.6 483.9L1242.3 483.9L1252.9 483.6L1263.5 483L1274 482L1284.3 480.8L1294.2 479.2L1303.7 477.4L1312.8 475.3L1321.3 473L1329.2 470.5L1336.4 467.8L1342.8 464.9L1348.5 461.9L1353.4 458.8L1357.4 455.6L1360.6 452.3L1362.8 448.9L1364.2 445.6L1364.7 442.3L1364.3 439L1363.1 435.8L1361 432.7L1358 429.6L1354.3 426.7L1349.8 424L1344.6 421.4L1338.7 419L1332.2 416.8 Z"/></g>
<g clip-path="url(#sB)"><path d="M949.2 273.2L952.5 271.7L955.7 270.3L959 268.9L962.3 267.6L965.6 266.3L968.9 265.1L972.3 263.9L975.7 262.8L979 261.7L982.4 260.7L985.9 259.7L989.3 258.8L992.7 258L996.2 257.2L999.7 256.4L1003.2 255.7L1006.7 255L1010.2 254.5L1013.8 253.9L1017.3 253.4L1020.9 253L1024.5 252.6L1028.1 252.3L1031.8 252L1035.4 251.8L1039.1 251.7L1042.8 251.6L1046.5 251.6L1050.2 251.6L1053.9 251.7L1057.7 251.8L1060.7 252L1063.7 252.2L1066.7 252.4L1069.8 252.7L1072.8 253L1075.9 253.4L1078.9 253.8L1082 254.2L1085.1 254.7L1088.2 255.2L1091.3 255.7L1094.4 256.3L1097.6 256.9L1100.7 257.6L1103.9 258.3L1107 259L1110.2 259.8L1113.4 260.6L1116.6 261.5L1119.8 262.4L1123 263.4L1126.2 264.4L1129.4 265.4L1132.7 266.5L1135.9 267.6L1139.2 268.7L1142.4 269.9L1145.7 271.2L1149 272.5L1152.3 273.8L1155.6 275.2L1158.9 276.6L1162.3 278L1165.6 279.5L1168.9 281.1L1172.3 282.6L1175.7 284.3L1179 285.9L1182.4 287.6L1185.8 289.4L1189.2 291.2L1192.6 293L1196 294.9L1199.4 296.8L1202.9 298.8L1206.3 300.8L1208.9 302.4L1211.5 303.9L1214.1 305.5L1216.7 307.2L1219.3 308.8L1221.9 310.5L1224.5 312.2L1227.2 313.9L1229.8 315.6L1232.4 317.4L1235.1 319.2L1237.7 321L1240.3 322.9L1243 324.7L1245.6 326.6L1248.3 328.5L1251 330.5L1253.6 332.5L1256.3 334.5L1259 336.5L1261.7 334.8L1264.3 333.1L1267 331.4L1269.7 329.7L1272.3 328.1L1275 326.5L1277.6 324.9L1280.3 323.3L1282.9 321.7L1285.6 320.2L1288.2 318.7L1290.8 317.2L1293.4 315.7L1296.9 313.8L1300.4 311.9L1303.9 310.1L1307.4 308.3L1310.8 306.5L1314.3 304.8L1317.7 303.1L1321.1 301.4L1324.5 299.8L1327.9 298.2L1331.3 296.6L1334.7 295.1L1338.1 293.6L1341.5 292.2L1344.9 290.8L1348.2 289.4L1351.6 288.1L1354.9 286.8L1358.2 285.5L1361.5 284.3L1364.8 283.1L1368.1 281.9L1371.4 280.8L1374.7 279.7L1378 278.7L1381.2 277.7L1384.5 276.7L1387.7 275.7L1391 274.8L1394.2 273.9L1397.4 273.1L1400.6 272.3L1403.8 271.5L1407 270.8L1410.2 270L1413.3 269.4L1416.5 268.7L1419.6 268.1L1422.8 267.5L1425.9 267L1429 266.5L1432.1 266L1435.2 265.6L1438.3 265.2L1441.4 264.8L1444.4 264.4L1447.5 264.1L1450.6 263.8L1453.6 263.6L1456.6 263.4L1459.6 263.2L1462.6 263L1465.6 262.9L1469.4 262.8L1473.1 262.7L1476.8 262.7L1480.5 262.7L1484.1 262.8L1487.8 263L1491.4 263.1L1495.1 263.3L1498.7 263.6L1502.3 263.9L1505.8 264.3L1509.4 264.7L1512.9 265.2L1516.5 265.7L1520 266.2L1523.5 266.8L1527 267.4L1530.4 268.1L1533.9 268.8L1537.3 269.6L1540.7 270.4L1544.1 271.3L1547.5 272.1L1550.9 273.1L1554.2 274.1L1557.6 275.1L1560.9 276.2L1564.2 277.3L1567.5 278.4L1565.2 276.3L1562.7 274.6L1560.1 272.9L1557.6 271.3L1555 269.7L1551.7 267.5L1548.3 265.5L1544.9 263.4L1541.5 261.4L1538.2 259.4L1534.8 257.5L1531.5 255.6L1528.1 253.8L1524.8 252L1521.4 250.2L1518.1 248.5L1514.8 246.8L1511.5 245.1L1508.1 243.5L1504.8 241.9L1501.5 240.4L1498.2 238.9L1494.9 237.4L1491.6 236L1488.4 234.6L1485.1 233.2L1481.8 231.9L1478.5 230.6L1475.3 229.4L1470.9 227.7L1467.5 226.5L1464 225.3L1460.6 224.1L1457.1 222.9L1453.7 221.7L1450.2 220.6L1446.8 219.4L1443.3 218.3L1439.9 217.2L1436.4 216.2L1433 215.1L1429.5 214.1L1426 213.1L1422.6 212.1L1419.1 211.2L1415.6 210.2L1412.2 209.3L1408.7 208.4L1405.2 207.5L1401.7 206.7L1398.2 205.8L1394.8 205L1391.3 204.2L1387.8 203.4L1384.3 202.7L1380.8 202L1377.3 201.2L1373.8 200.6L1370.3 199.9L1366.8 199.2L1363.3 198.6L1359.8 198L1356.3 197.4L1352.8 196.9L1349.3 196.3L1345.8 195.8L1342.3 195.3L1338.8 194.8L1335.3 194.3L1331.7 193.9L1328.2 193.5L1324.7 193.1L1321.2 192.7L1317.7 192.4L1314.1 192L1310.6 191.7L1307.1 191.4L1303.6 191.2L1300 190.9L1296.5 190.7L1293 190.5L1289.4 190.3L1285.9 190.2L1282.4 190L1278.8 189.9L1275.3 189.8L1271.8 189.7L1268.2 189.7L1264.7 189.6L1261.1 189.6L1257.6 189.6L1254.1 189.7L1250.5 189.7L1247 189.8L1243.4 189.9L1239.9 190L1236.3 190.1L1232.8 190.3L1229.2 190.5L1225.7 190.7L1222.1 190.9L1218.6 191.2L1215 191.4L1211.5 191.7L1207.9 192L1204.4 192.3L1200.8 192.7L1197.3 193.1L1193.7 193.5L1190.2 193.9L1186.6 194.3L1183.1 194.8L1179.5 195.3L1175.9 195.8L1172.4 196.3L1168.8 196.8L1165.3 197.4L1161.7 198L1158.2 198.6L1154.6 199.2L1151 199.9L1147.5 200.6L1143.9 201.3L1140.4 202L1136.8 202.7L1133.2 203.5L1129.7 204.3L1126.1 205.1L1122.6 205.9L1119 206.8L1115.5 207.6L1111.9 208.5L1108.3 209.4L1104.8 210.4L1101.2 211.3L1097.7 212.3L1094.1 213.3L1090.6 214.3L1087 215.4L1083.4 216.4L1079.9 217.5L1076.3 218.6L1072.8 219.8L1069.2 220.9L1065.7 222.1L1062.1 223.3L1058.6 224.5L1055 225.7L1051.5 227L1047.9 228.2L1044.4 229.5L1040.8 230.9L1037.3 232.2L1033.7 233.6L1030.2 235L1026.6 236.4L1023.1 237.8L1019.5 239.2L1016 240.7L1012.5 242.2L1008.9 243.7L1005.4 245.3L1001.8 246.8L998.3 248.4L994.8 250L991.2 251.6L988.2 253L984.9 254.6L981.5 256.2L978.1 257.8L974.8 259.5L971.4 261.3L968 263L964.6 264.8L961.2 266.6L957.8 268.5L954.3 270.3L950.9 272.3Z" fill="#00a0ff"/><path d="M1427 267.6L1395.3 260L1364.9 252.7L1336.1 245.8L1309.5 239.5L1285.3 233.7L1263.9 228.5L1236.9 232.9L1210.4 239.3L1181.2 246.3L1149.6 253.9L1116 262L1080.9 270.4L1045 279L1008.6 287.8L972.6 296.4L951 301.6L955.2 302.9L976.3 309.4L1000.2 316.8L1026.5 324.9L1055 333.7L1085.3 343L1117 352.7L1149.5 362.8L1182.4 372.9L1215 382.9L1246.7 392.7L1259.1 396.5L1281 389.7L1317.5 378.5L1354.1 367.3L1390.3 356.1L1425.4 345.3L1459 335L1490.4 325.3L1519.4 316.4L1545.7 308.3L1568.1 301.5L1555.9 298.5L1524.5 291L1492.2 283.3L1459.5 275.4" fill="#00bbff"/><path d="M1427.1 265.2L1395.7 257.8L1365.6 250.6L1337.2 243.8L1310.9 237.5L1286.9 231.8L1264.5 227L1235.2 231.1L1208.9 237.4L1180 244.3L1148.7 251.8L1115.5 259.7L1080.9 268L1045.3 276.5L1009.4 285.1L973.8 293.6L950.9 299.1L956.8 301L977.7 307.4L1001.4 314.6L1027.4 322.6L1055.6 331.3L1085.6 340.5L1116.9 350.1L1149.1 360L1181.5 369.9L1213.8 379.8L1245.1 389.4L1259 393.7L1282.4 386.6L1318.4 375.5L1354.6 364.4L1390.4 353.5L1425.1 342.8L1458.3 332.7L1489.4 323.1L1518.1 314.3L1544.1 306.4L1567.1 299.3L1568.2 299L1554.5 295.7L1523.5 288.3L1491.5 280.6L1459.2 272.9" fill="#00cdff"/><path d="M1427.1 262.9L1396.1 255.5L1366.4 248.4L1338.3 241.7L1312.2 235.5L1288.5 229.9L1264.3 225.6L1233.4 229.2L1207.4 235.4L1178.8 242.3L1147.9 249.6L1115 257.5L1080.8 265.6L1045.6 274L1010.1 282.5L975 290.8L950.7 296.6L958.4 299L979.2 305.3L1002.5 312.5L1028.3 320.4L1056.2 328.9L1085.9 338L1116.8 347.4L1148.6 357.2L1180.7 367L1212.5 376.7L1243.5 386.2L1259 390.9L1283.7 383.4L1319.3 372.5L1355.1 361.6L1390.5 350.8L1424.8 340.3L1457.6 330.3L1488.4 320.9L1516.8 312.2L1542.5 304.4L1565.3 297.4L1568.4 296.5L1553 292.8L1522.4 285.5L1490.8 278L1458.9 270.4" fill="#00dfff"/><path d="M1427.2 260.5L1396.6 253.2L1367.2 246.2L1339.4 239.6L1313.6 233.5L1290.1 228L1264.2 224.3L1231.7 227.4L1205.9 233.5L1177.6 240.2L1147 247.5L1114.5 255.2L1080.7 263.2L1045.9 271.5L1010.9 279.8L976.2 288.1L950.5 294.2L960.1 297.1L980.6 303.3L1003.7 310.4L1029.3 318.1L1056.8 326.5L1086.1 335.5L1116.7 344.8L1148.1 354.4L1179.8 364L1211.3 373.6L1241.8 382.9L1259 388.1L1285.1 380.2L1320.2 369.5L1355.6 358.8L1390.5 348.1L1424.5 337.8L1456.9 328L1487.4 318.7L1515.5 310.1L1540.9 302.4L1563.5 295.5L1568.6 294L1551.5 290L1521.3 282.8L1490.2 275.4L1458.6 267.9" fill="#00f1ff"/><path d="M1427.3 258.1L1397 250.9L1367.9 244.1L1340.5 237.6L1315 231.6L1291.8 226.1L1264 222.9L1229.8 225.5L1204.4 231.6L1176.4 238.2L1146.1 245.3L1114.1 252.9L1080.6 260.9L1046.3 269L1011.7 277.2L977.4 285.3L950.4 291.7L961.8 295.1L982.1 301.3L1005 308.2L1030.2 315.9L1057.5 324.2L1086.4 333L1116.6 342.1L1147.7 351.5L1179 361L1210 370.5L1240.1 379.6L1259 385.3L1286.5 377L1321.2 366.5L1356.1 355.9L1390.6 345.5L1424.1 335.3L1456.2 325.6L1486.3 316.5L1514.1 308L1539.3 300.4L1561.6 293.6L1568.7 291.5L1550 287.1L1520.2 280L1489.5 272.8L1458.3 265.4" fill="#00fffb"/><path d="M1427.4 255.7L1397.5 248.7L1368.7 241.9L1341.6 235.5L1316.4 229.6L1293.5 224.2L1263.8 221.6L1228 223.7L1202.9 229.6L1175.2 236.1L1145.3 243.2L1113.6 250.7L1080.5 258.5L1046.6 266.4L1012.5 274.5L978.7 282.5L950.2 289.2L963.5 293.2L983.6 299.2L1006.2 306.1L1031.2 313.6L1058.1 321.8L1086.7 330.4L1116.6 339.5L1147.2 348.7L1178.1 358.1L1208.7 367.3L1238.4 376.3L1259 382.6L1287.9 373.8L1322.1 363.5L1356.6 353.1L1390.7 342.8L1423.8 332.8L1455.5 323.2L1485.2 314.2L1512.7 305.9L1537.6 298.4L1559.7 291.8L1568.9 289L1548.5 284.2L1519.1 277.3L1488.7 270.1L1458 262.9" fill="#00ffe9"/><path d="M1427.5 253.3L1397.9 246.4L1369.5 239.7L1342.7 233.5L1317.8 227.6L1295.2 222.3L1263.6 220.3L1226.1 221.8L1201.3 227.7L1173.9 234.1L1144.4 241L1113.1 248.4L1080.4 256.1L1047 263.9L1013.3 271.8L979.9 279.7L950.1 286.7L965.2 291.2L985.1 297.2L1007.5 304L1032.1 311.4L1058.8 319.4L1087 327.9L1116.5 336.8L1146.7 345.9L1177.2 355.1L1207.4 364.2L1236.7 373L1259 379.8L1289.4 370.6L1323.1 360.5L1357.1 350.2L1390.7 340.1L1423.4 330.3L1454.7 320.9L1484.1 312L1511.3 303.8L1536 296.4L1557.8 289.9L1569 286.5L1547 281.3L1518 274.5L1488 267.5L1457.7 260.4" fill="#00ffd7"/><path d="M1427.5 250.9L1398.4 244.1L1370.4 237.6L1343.9 231.4L1319.3 225.7L1296.9 220.4L1263.4 219L1224.4 220L1199.7 225.7L1172.6 232.1L1143.5 238.9L1112.5 246.1L1080.3 253.7L1047.3 261.4L1014.1 269.2L981.2 276.8L949.9 284.2L950.1 284.2L967 289.3L986.6 295.2L1008.7 301.8L1033.1 309.1L1059.4 317L1087.3 325.4L1116.4 334.1L1146.2 343.1L1176.3 352.1L1206.1 361.1L1235 369.7L1259 376.9L1290.8 367.4L1324.1 357.4L1357.6 347.4L1390.8 337.4L1423.1 327.8L1454 318.5L1483 309.8L1509.9 301.8L1534.2 294.5L1555.8 288L1569.2 284L1545.4 278.4L1516.8 271.8L1487.3 264.9L1457.3 257.9" fill="#00ffc5"/><path d="M1427.6 248.5L1398.9 241.8L1371.2 235.4L1345 229.3L1320.8 223.7L1298.6 218.5L1263.2 217.7L1224.7 218.7L1198 223.8L1171.3 230L1142.5 236.7L1112 243.9L1080.2 251.3L1047.7 258.8L1014.9 266.5L982.5 274L951.1 281.3L952.1 282.4L968.8 287.4L988.2 293.2L1010.1 299.7L1034.1 306.9L1060.1 314.7L1087.6 322.9L1116.3 331.5L1145.8 340.3L1175.4 349.1L1204.8 357.9L1233.2 366.4L1259 374.1L1260.4 373.7L1292.3 364.2L1325.1 354.4L1358.1 344.5L1390.9 334.8L1422.7 325.3L1453.2 316.2L1481.9 307.6L1508.4 299.7L1532.5 292.5L1553.8 286.1L1569.3 281.5L1543.9 275.6L1515.7 269L1486.5 262.2L1457 255.4" fill="#00ffb3"/><path d="M1427.7 246.1L1399.3 239.6L1372 233.2L1346.2 227.3L1322.3 221.7L1300.4 216.7L1263.1 216.4L1225 217.4L1196.4 221.9L1170 228L1141.6 234.6L1111.5 241.6L1080.1 248.9L1048.1 256.3L1015.7 263.8L983.8 271.2L952.9 278.4L954.1 280.5L970.7 285.4L989.8 291.1L1011.4 297.6L1035.1 304.6L1060.8 312.3L1087.9 320.4L1116.2 328.8L1145.3 337.4L1174.5 346.2L1203.4 354.8L1231.5 363.1L1258 371L1259 371.3L1262.4 370.3L1293.8 361L1326.1 351.4L1358.7 341.7L1390.9 332.1L1422.4 322.7L1452.4 313.8L1480.8 305.4L1507 297.6L1530.7 290.5L1551.8 284.2L1568.5 278.7L1542.3 272.7L1514.5 266.2L1485.8 259.6L1456.7 252.8" fill="#00ffa1"/><path d="M1427.8 243.7L1399.8 237.3L1372.9 231.1L1347.4 225.2L1323.8 219.7L1300.2 215.3L1262.9 215.1L1225.3 216.1L1194.7 219.9L1168.7 226L1140.7 232.4L1111 239.3L1080.1 246.4L1048.4 253.8L1016.6 261.1L985.2 268.4L954.7 275.4L956.2 278.7L972.5 283.5L991.4 289.1L1012.7 295.4L1036.2 302.4L1061.5 309.9L1088.3 317.8L1116.2 326.1L1144.8 334.6L1173.6 343.2L1202 351.6L1229.6 359.8L1255.8 367.6L1259 368.5L1264.4 366.9L1295.3 357.8L1327.1 348.3L1359.2 338.8L1391 329.4L1422 320.2L1451.7 311.4L1479.6 303.1L1505.4 295.5L1528.9 288.5L1549.7 282.4L1564.4 276.3L1540.6 269.8L1513.3 263.5L1485 256.9L1456.3 250.3" fill="#00ff90"/><path d="M1427.8 241.3L1400.3 235L1373.8 228.9L1348.7 223.1L1325.3 217.8L1299.5 214L1262.7 213.8L1225.6 214.8L1193 218L1167.3 223.9L1139.7 230.3L1110.4 237L1080 244L1048.8 251.2L1017.5 258.4L986.5 265.6L956.6 272.5L958.3 276.8L974.4 281.6L993.1 287.1L1014.1 293.3L1037.2 300.1L1062.2 307.5L1088.6 315.3L1116.1 323.5L1144.3 331.8L1172.6 340.2L1200.6 348.4L1227.8 356.5L1253.5 364.1L1259 365.7L1266.4 363.5L1296.8 354.5L1328.1 345.3L1359.8 336L1391.1 326.7L1421.6 317.7L1450.9 309.1L1478.4 300.9L1503.9 293.4L1527 286.6L1547.6 280.5L1559.8 274L1539 266.9L1512.1 260.7L1484.2 254.3L1456 247.8" fill="#00ff7e"/><path d="M1427.9 238.9L1400.8 232.7L1374.7 226.7L1349.9 221.1L1326.9 215.8L1298.8 212.7L1262.4 212.6L1225.8 213.5L1191.3 216.1L1166 221.9L1138.7 228.1L1109.9 234.7L1079.9 241.6L1049.2 248.7L1018.4 255.7L987.9 262.7L958.4 269.5L960.5 275L976.4 279.7L994.8 285.1L1015.5 291.2L1038.3 297.9L1062.9 305.1L1088.9 312.8L1116 320.8L1143.7 328.9L1171.6 337.2L1199.2 345.3L1225.9 353.1L1251.2 360.6L1259 362.9L1268.5 360.1L1298.4 351.3L1329.2 342.2L1360.3 333.1L1391.2 324L1421.2 315.2L1450 306.7L1477.2 298.7L1502.3 291.3L1525.2 284.6L1545.4 278.6L1555.2 271.7L1537.3 264L1510.8 257.9L1483.4 251.6L1455.6 245.3" fill="#00ff6c"/><path d="M1428 236.5L1401.3 230.4L1375.6 224.6L1351.2 219L1328.5 213.8L1298.1 211.5L1262.2 211.3L1226.2 212.3L1190.2 214.3L1164.6 219.8L1137.7 226L1109.3 232.5L1079.8 239.2L1049.6 246.1L1019.3 253L989.3 259.9L961.1 266.7L962.7 273.1L978.4 277.7L996.5 283.1L1017 289.1L1039.4 295.6L1063.6 302.7L1089.3 310.3L1115.9 318.1L1143.2 326.1L1170.7 334.1L1197.8 342.1L1224 349.8L1248.9 357.1L1259 360.1L1270.6 356.7L1300 348.1L1330.3 339.2L1360.9 330.2L1391.2 321.3L1420.8 312.7L1449.2 304.3L1476 296.5L1500.7 289.2L1523.2 282.6L1543.2 276.8L1550.4 269.5L1535.6 261L1509.5 255.1L1482.6 249L1455.3 242.7" fill="#00ff5a"/><path d="M1428.1 234.1L1401.8 228.1L1376.5 222.4L1352.5 217L1330.2 211.9L1297.3 210.2L1262 210.1L1226.5 211L1191.1 213L1163.1 217.8L1136.7 223.8L1108.8 230.2L1079.7 236.8L1050 243.6L1020.2 250.3L990.7 257L965.6 264.5L965 271.3L980.4 275.8L998.3 281.1L1018.4 286.9L1040.5 293.4L1064.4 300.4L1089.6 307.7L1115.8 315.4L1142.7 323.2L1169.7 331.1L1196.3 338.9L1222.1 346.5L1246.5 353.6L1259 357.2L1272.7 353.2L1301.6 344.8L1331.4 336.1L1361.4 327.3L1391.3 318.6L1420.4 310.1L1448.3 302L1474.7 294.3L1499.1 287.2L1521.3 280.7L1540.9 274.9L1545.6 267.2L1533.8 258.1L1508.3 252.3L1481.8 246.3L1454.9 240.2" fill="#00ff48"/><path d="M1428.2 231.7L1402.3 225.9L1377.4 220.2L1353.8 214.9L1330.7 210.2L1296.6 209L1261.8 208.9L1226.8 209.8L1191.9 211.8L1161.7 215.8L1135.7 221.7L1108.2 227.9L1079.6 234.4L1050.4 241L1021.1 247.6L992.2 254.2L970.2 262.2L967.3 269.5L982.5 273.9L1000.1 279.1L1019.9 284.8L1041.7 291.2L1065.1 298L1090 305.2L1115.8 312.7L1142.1 320.4L1168.7 328.1L1194.8 335.7L1220.2 343.1L1244.1 350.1L1259 354.4L1274.9 349.8L1303.2 341.5L1332.5 333L1362 324.5L1391.4 315.9L1420 307.6L1447.5 299.6L1473.4 292.1L1497.4 285.1L1519.3 278.7L1538.6 273.1L1540.7 264.9L1530.9 255.5L1506.9 249.5L1480.9 243.6L1454.5 237.7" fill="#00ff36"/><path d="M1428.2 229.3L1402.9 223.6L1378.4 218.1L1355.2 212.8L1329.4 209L1295.8 207.8L1261.6 207.6L1227.1 208.5L1192.8 210.5L1160.2 213.7L1134.6 219.5L1107.6 225.6L1079.5 232L1050.9 238.4L1022.1 244.9L993.7 251.3L975 260L969.6 267.7L984.6 272L1002 277.1L1021.5 282.7L1042.9 288.9L1065.9 295.6L1090.3 302.7L1115.7 310L1141.6 317.5L1167.6 325.1L1193.3 332.5L1218.2 339.7L1241.7 346.6L1259 351.6L1277.1 346.3L1304.9 338.3L1333.6 330L1362.6 321.6L1391.4 313.2L1419.6 305.1L1446.6 297.2L1472.1 289.9L1495.7 283L1517.2 276.8L1536.3 271.3L1535.6 262.6L1526.1 253.4L1505.6 246.7L1480.1 241L1454.1 235.1" fill="#00ff24"/><path d="M1428.3 226.9L1403.4 221.3L1379.3 215.9L1356.5 210.8L1328 207.7L1295 206.6L1261.4 206.4L1227.4 207.3L1193.7 209.2L1160.5 212.2L1133.6 217.4L1107 223.3L1079.4 229.5L1051.3 235.9L1023 242.2L997 249L979.8 257.8L972 265.9L986.8 270.1L1003.8 275.1L1023 280.6L1044.1 286.7L1066.7 293.2L1090.7 300.1L1115.6 307.3L1141 314.7L1166.6 322.1L1191.8 329.3L1216.1 336.4L1239.2 343L1259 348.7L1279.3 342.9L1306.6 335L1334.7 326.9L1363.2 318.7L1391.5 310.5L1419.1 302.5L1445.7 294.9L1470.7 287.7L1494 280.9L1515.1 274.9L1533.9 269.4L1530.5 260.3L1521.2 251.3L1504.2 243.9L1479.2 238.3L1453.7 232.6" fill="#00ff12"/><path d="M1428.4 224.5L1403.9 219L1380.3 213.7L1357.9 208.7L1326.7 206.5L1294.2 205.4L1261.1 205.3L1227.8 206.1L1194.6 208L1162 210.9L1132.5 215.2L1106.4 221.1L1079.3 227.1L1051.7 233.3L1024 239.5L1001.6 246.9L984.7 255.6L974.5 264.1L989 268.2L1005.8 273.1L1024.6 278.5L1045.3 284.4L1067.6 290.8L1091.1 297.6L1115.5 304.6L1140.5 311.8L1165.5 319L1190.2 326.1L1214.1 333L1236.6 339.5L1257.4 345.4L1259 345.9L1281.6 339.4L1308.3 331.7L1335.9 323.8L1363.8 315.8L1391.6 307.8L1418.7 300L1444.7 292.5L1469.4 285.4L1492.2 278.9L1513 272.9L1529.8 267.3L1525.3 258L1516.2 249.2L1502.8 241.1L1478.3 235.6L1453.3 230" fill="#00ff00"/><path d="M1428.5 222L1404.5 216.7L1381.3 211.5L1356.1 207.4L1325.3 205.3L1293.4 204.2L1260.9 204.1L1228.1 205L1195.5 206.8L1163.5 209.6L1132.4 213.3L1105.8 218.8L1079.3 224.7L1052.2 230.7L1026.2 237.1L1006.2 244.9L989.8 253.3L977.3 262.2L991.3 266.4L1007.8 271.1L1026.3 276.4L1046.6 282.2L1068.4 288.5L1091.5 295.1L1115.4 301.9L1139.9 308.9L1164.4 316L1188.6 322.9L1212 329.6L1234.1 335.9L1254.4 341.7L1259.2 343L1284 335.9L1310.1 328.4L1337.1 320.7L1364.4 312.9L1391.6 305.1L1418.2 297.5L1443.8 290.2L1467.9 283.2L1490.4 276.8L1510.8 271L1524.3 264.7L1519.9 255.7L1511.1 247.1L1498.2 239.1L1477.4 232.9L1452.9 227.5" fill="#12ff00"/><path d="M1428.6 219.6L1405.1 214.4L1382.4 209.4L1354.1 206.2L1323.8 204.2L1292.5 203.1L1260.6 202.9L1228.5 203.8L1196.5 205.6L1165.1 208.3L1134.6 212L1105.5 216.6L1079.2 222.3L1053 228.2L1030.5 235.2L1011 242.9L995 251.1L982.8 259.8L993.6 264.5L1009.8 269.1L1027.9 274.3L1047.9 280L1069.3 286.1L1091.9 292.5L1115.4 299.2L1139.3 306.1L1163.3 312.9L1187 319.7L1209.8 326.2L1231.4 332.3L1251.3 338L1262.2 339.3L1286.3 332.4L1311.9 325.1L1338.3 317.6L1365.1 310L1391.7 302.4L1417.8 294.9L1442.8 287.8L1466.5 281.1L1488.5 274.8L1508.5 269.1L1518.6 262.2L1514.4 253.4L1505.8 245L1493.3 237.2L1476.4 230.2L1452.5 224.9" fill="#24ff00"/><path d="M1428.6 217.2L1405.6 212.1L1380.4 208L1352 205L1322.3 203L1291.7 202L1260.4 201.8L1228.9 202.6L1197.5 204.4L1166.7 207.1L1136.8 210.7L1108.3 215.2L1081.6 220.5L1057 226.6L1034.9 233.4L1015.9 240.8L1000.3 248.9L988.4 257.3L996 262.6L1011.9 267.1L1029.7 272.2L1049.2 277.7L1070.2 283.7L1092.3 290L1115.3 296.5L1138.7 303.2L1162.2 309.9L1185.3 316.4L1207.6 322.8L1228.7 328.8L1248.1 334.3L1265.2 335.6L1288.8 328.9L1313.7 321.8L1339.6 314.5L1365.7 307.1L1391.8 299.7L1417.3 292.4L1441.8 285.5L1465 278.9L1486.6 272.7L1506.2 267.2L1512.9 259.7L1508.8 251.1L1500.5 243L1488.2 235.3L1472.4 228.3L1452 222.4" fill="#36ff00"/><path d="M1427.6 215.1L1403.6 210.5L1377.6 206.7L1349.9 203.9L1320.8 201.9L1290.8 200.8L1260.1 200.7L1229.2 201.5L1198.5 203.2L1168.4 205.9L1139.1 209.4L1111.2 213.7L1085 218.9L1061 224.9L1039.5 231.5L1020.9 238.8L1005.7 246.6L994.2 254.9L998.5 260.8L1014 265.2L1031.4 270.1L1050.5 275.5L1071.1 281.3L1092.7 287.5L1115.2 293.8L1138.1 300.3L1161 306.8L1183.6 313.2L1205.4 319.3L1226 325.2L1244.8 330.5L1268.2 331.9L1291.3 325.4L1315.6 318.5L1340.8 311.4L1366.4 304.1L1391.8 296.9L1416.8 289.9L1440.8 283.1L1463.5 276.7L1484.6 270.7L1503.8 265.3L1506.9 257.2L1503 248.9L1495 240.9L1483.1 233.4L1467.6 226.6L1449 220.4" fill="#48ff00"/><path d="M1423.6 213.6L1400.2 209.2L1374.8 205.5L1347.7 202.7L1319.2 200.8L1289.8 199.8L1259.8 199.6L1229.6 200.4L1199.6 202.1L1170.1 204.7L1141.5 208.1L1114.2 212.4L1088.6 217.4L1065.2 223.2L1044.2 229.7L1026.1 236.8L1011.3 244.4L1000.1 252.5L1001 258.9L1016.2 263.2L1033.3 268L1052 273.3L1072 279L1093.2 284.9L1115.1 291.1L1137.5 297.4L1159.8 303.7L1181.9 309.9L1203.1 315.9L1223.1 321.6L1241.5 326.7L1270.3 327.9L1293.8 321.9L1317.5 315.2L1342.1 308.2L1367.1 301.2L1391.9 294.2L1416.3 287.4L1439.7 280.7L1461.9 274.5L1482.6 268.7L1500.3 263.1L1500.8 254.7L1497.1 246.6L1489.3 238.8L1477.7 231.6L1462.7 224.9L1444.6 218.9" fill="#5aff00"/><path d="M1419.5 212.2L1396.7 207.9L1371.9 204.3L1345.4 201.6L1317.6 199.7L1288.9 198.7L1259.6 198.6L1230 199.4L1200.7 201L1171.8 203.5L1143.9 206.8L1117.3 211L1092.3 215.9L1069.4 221.6L1049 227.9L1031.4 234.8L1017 242.2L1006.2 250L1003.6 257.1L1018.5 261.3L1035.1 266L1053.4 271.1L1073 276.6L1093.6 282.4L1115 288.4L1136.8 294.5L1158.6 300.6L1180.1 306.7L1200.8 312.5L1220.3 317.9L1238.2 323L1269.7 323.1L1296.4 318.3L1319.5 311.8L1343.4 305.1L1367.8 298.3L1392 291.5L1415.7 284.8L1438.6 278.4L1460.3 272.3L1480.5 266.7L1494 260.4L1494.6 252.2L1491 244.3L1483.5 236.7L1472.2 229.7L1457.6 223.2L1440 217.4" fill="#6cff00"/><path d="M1415.3 210.9L1393.1 206.6L1368.9 203.1L1343.1 200.5L1316 198.7L1287.9 197.7L1259.3 197.6L1230.5 198.3L1201.8 199.9L1173.7 202.4L1146.4 205.6L1120.4 209.7L1096.1 214.4L1073.9 219.9L1054 226.1L1036.9 232.8L1022.9 240L1012.5 247.6L1006.3 255.3L1020.8 259.4L1037.1 263.9L1054.9 268.9L1074 274.2L1094.1 279.8L1114.9 285.7L1136.2 291.6L1157.4 297.5L1178.3 303.4L1198.4 309L1217.3 314.3L1234.7 319.1L1269 318.2L1299.1 314.7L1321.5 308.5L1344.8 302L1368.5 295.3L1392.1 288.8L1415.2 282.3L1437.5 276.1L1458.6 270.2L1478.3 264.7L1487.5 257.6L1488.1 249.7L1484.7 242L1477.5 234.7L1466.6 227.8L1452.4 221.5L1435.2 215.8" fill="#7eff00"/><path d="M1411 209.5L1389.4 205.4L1365.8 202L1340.7 199.4L1314.2 197.6L1286.9 196.7L1259 196.6L1230.9 197.3L1203 198.9L1175.5 201.2L1149 204.4L1123.7 208.3L1100.1 213L1078.4 218.3L1059.1 224.3L1042.5 230.8L1029 237.8L1018.9 245.1L1012.5 252.7L1023.3 257.4L1039.1 261.9L1056.4 266.7L1075 271.9L1094.6 277.3L1114.9 282.9L1135.5 288.7L1156.1 294.4L1176.4 300.1L1195.9 305.5L1214.3 310.6L1234.5 314.4L1268.4 313.4L1301.7 311.1L1323.6 305.1L1346.2 298.8L1369.2 292.4L1392.1 286L1414.6 279.8L1436.3 273.7L1456.9 268L1476 262.6L1480.8 254.9L1481.5 247.2L1478.3 239.7L1471.3 232.6L1460.8 226L1447 219.9L1430.3 214.4" fill="#90ff00"/><path d="M1406.5 208.2L1385.5 204.2L1362.6 200.9L1338.1 198.4L1312.4 196.7L1285.8 195.7L1258.7 195.6L1231.3 196.3L1204.2 197.9L1177.5 200.2L1151.7 203.2L1127.1 207L1104.2 211.6L1083.1 216.7L1064.4 222.5L1048.4 228.8L1035.3 235.6L1025.6 242.7L1019.4 250.1L1025.8 255.5L1041.2 259.8L1058 264.5L1076.1 269.5L1095.1 274.8L1114.8 280.2L1134.8 285.8L1154.8 291.3L1174.4 296.8L1193.3 302L1211.1 306.9L1234.9 309.5L1267.7 308.4L1300 306.3L1325.7 301.7L1347.7 295.6L1369.9 289.4L1392.2 283.3L1414 277.2L1435.1 271.4L1455.1 265.8L1469.1 259.6L1473.9 252.1L1474.7 244.7L1471.6 237.5L1464.9 230.6L1454.7 224.2L1441.4 218.2L1425.3 212.9" fill="#a1ff00"/><path d="M1401.8 206.9L1381.5 203L1359.3 199.8L1335.5 197.4L1310.6 195.7L1284.7 194.8L1258.4 194.7L1231.8 195.4L1205.4 196.9L1179.5 199.1L1154.5 202.1L1130.7 205.8L1108.4 210.2L1088 215.2L1069.9 220.8L1054.4 226.9L1041.8 233.4L1032.4 240.2L1026.6 247.4L1028.4 253.7L1043.3 257.8L1059.7 262.3L1077.2 267.1L1095.6 272.2L1114.7 277.5L1134.1 282.8L1153.4 288.2L1172.4 293.4L1190.7 298.5L1207.9 303.2L1235.4 304.5L1267 303.5L1298.2 301.4L1328 298.3L1349.1 292.4L1370.7 286.5L1392.3 280.5L1413.4 274.7L1433.9 269.1L1453.3 263.7L1462.1 256.6L1466.7 249.3L1467.6 242.2L1464.7 235.2L1458.3 228.6L1448.5 222.3L1435.7 216.6L1420 211.4" fill="#b3ff00"/><path d="M1397 205.6L1377.3 201.9L1355.8 198.8L1332.8 196.4L1308.6 194.8L1283.6 194L1258 193.9L1232.3 194.5L1206.7 195.9L1181.6 198.1L1157.4 201L1134.3 204.6L1112.8 208.8L1093.1 213.6L1075.6 219L1060.7 224.9L1048.6 231.2L1039.6 237.8L1034 244.6L1031.9 251.6L1045.5 255.8L1061.4 260.1L1078.3 264.8L1096.2 269.7L1114.6 274.8L1133.3 279.9L1152 285.1L1170.4 290.1L1188 295L1205.5 299.3L1235.8 299.4L1266.3 298.5L1296.3 296.5L1325.3 293.6L1350.7 289.2L1371.5 283.5L1392.3 277.8L1412.8 272.2L1432.6 266.7L1446.4 260.4L1454.8 253.5L1459.4 246.5L1460.3 239.6L1457.6 232.9L1451.4 226.6L1442 220.5L1429.7 215L1414.5 210" fill="#c5ff00"/><path d="M1391.9 204.4L1373 200.8L1352.2 197.8L1330 195.5L1306.6 194L1282.4 193.1L1257.7 193L1232.8 193.7L1208.1 195.1L1183.8 197.1L1160.4 199.9L1138.1 203.4L1117.4 207.4L1098.4 212.1L1081.6 217.3L1067.2 223L1055.6 229L1047 235.4L1041.7 241.9L1039.8 248.6L1047.9 253.8L1063.2 258L1079.5 262.5L1096.8 267.2L1114.5 272L1132.6 277L1150.6 281.9L1168.3 286.7L1185.2 291.4L1207.2 294.2L1236.3 294.3L1265.6 293.5L1294.4 291.6L1322.2 288.8L1348.4 285.1L1372.3 280.5L1392.4 275.1L1412.2 269.7L1427.4 263.5L1439.1 257L1447.2 250.4L1451.7 243.7L1452.7 237.1L1450.1 230.7L1444.3 224.5L1435.3 218.8L1423.4 213.4L1408.9 208.6" fill="#d7ff00"/><path d="M1386.7 203.2L1368.4 199.7L1348.4 196.9L1327 194.7L1304.5 193.2L1281.1 192.4L1257.3 192.3L1233.3 192.9L1209.5 194.2L1186.1 196.2L1163.6 198.9L1142.1 202.2L1122.1 206.1L1103.9 210.6L1087.8 215.6L1074 221L1062.9 226.8L1054.7 232.9L1049.7 239.2L1048 245.6L1050.3 251.8L1065 255.8L1080.8 260.1L1097.4 264.6L1114.4 269.3L1131.8 274L1149.1 278.7L1166.1 283.4L1182.3 287.8L1208.9 289.1L1236.8 289.2L1264.8 288.4L1292.5 286.6L1319.1 283.9L1344.2 280.4L1367.3 276.1L1387.8 271.2L1405.5 265.7L1420.2 259.8L1431.5 253.7L1439.3 247.3L1443.8 240.9L1444.7 234.6L1442.4 228.5L1436.8 222.6L1428.3 217L1416.9 211.9L1402.9 207.3" fill="#e9ff00"/><path d="M1381.1 202.1L1363.6 198.7L1344.4 196L1323.9 193.9L1302.2 192.5L1279.8 191.7L1256.9 191.6L1233.9 192.2L1211 193.5L1188.6 195.4L1166.9 197.9L1146.3 201.1L1127.2 204.9L1109.7 209.2L1094.3 213.9L1081.1 219.1L1070.5 224.7L1062.8 230.5L1058 236.5L1056.5 242.6L1058.2 248.6L1067 253.7L1082.1 257.8L1098 262.1L1114.4 266.6L1131 271.1L1147.5 275.6L1163.8 280L1184.7 282.8L1210.6 283.9L1237.2 284L1264 283.2L1290.5 281.5L1315.9 279L1339.9 275.6L1361.9 271.6L1381.6 266.9L1398.6 261.7L1412.6 256.1L1423.5 250.3L1431.1 244.2L1435.5 238.1L1436.5 232.1L1434.3 226.2L1429.1 220.6L1420.9 215.3L1410 210.4L1396.7 206" fill="#fbff00"/><path d="M1375.3 201L1358.6 197.8L1340.3 195.2L1320.6 193.2L1299.9 191.8L1278.5 191.1L1256.5 191L1234.5 191.6L1212.6 192.8L1191.1 194.6L1170.4 197.1L1150.8 200.1L1132.5 203.7L1115.8 207.8L1101.1 212.3L1088.6 217.3L1078.6 222.5L1071.2 228.1L1066.8 233.8L1065.4 239.5L1067.1 245.3L1072.1 250.9L1083.5 255.5L1098.7 259.6L1114.3 263.8L1130.1 268.1L1145.9 272.4L1164.5 275.8L1187.9 277.6L1212.5 278.6L1237.8 278.7L1263.2 277.9L1288.3 276.3L1312.5 273.9L1335.4 270.8L1356.4 267L1375.1 262.6L1391.3 257.6L1404.8 252.4L1415.2 246.8L1422.6 241.1L1426.7 235.3L1427.8 229.6L1425.8 224L1420.9 218.6L1413.2 213.6L1402.8 208.9L1390.1 204.7" fill="#fff100"/><path d="M1369.1 200L1353.2 196.9L1335.8 194.5L1317.1 192.6L1297.4 191.3L1277 190.6L1256.1 190.5L1235.1 191L1214.2 192.2L1193.8 193.9L1174.1 196.2L1155.4 199.1L1138.1 202.5L1122.3 206.4L1108.3 210.7L1096.5 215.4L1087 220.4L1080.1 225.6L1076 231L1074.8 236.5L1076.5 241.9L1081.3 247.2L1089.2 252.2L1100 256.9L1114.2 261.1L1129.8 265L1148.4 268.1L1169 270.6L1191.1 272.3L1214.4 273.2L1238.3 273.3L1262.4 272.6L1286.1 271.1L1309 268.9L1330.6 265.9L1350.5 262.3L1368.3 258.2L1383.7 253.5L1396.5 248.6L1406.5 243.3L1413.5 237.9L1417.6 232.5L1418.7 227.1L1416.9 221.8L1412.3 216.7L1405 211.9L1395.2 207.5L1383.2 203.5" fill="#ffdf00"/><path d="M1362.5 199L1347.6 196.2L1331.1 193.8L1313.4 192L1294.8 190.8L1275.4 190.1L1255.7 190.1L1235.8 190.6L1216 191.7L1196.7 193.3L1178.1 195.5L1160.4 198.2L1144 201.4L1129.1 205.1L1116 209.2L1104.9 213.6L1096 218.3L1089.6 223.2L1085.8 228.3L1084.7 233.4L1086.4 238.5L1091 243.4L1098.5 248.1L1108.7 252.5L1121.6 256.5L1136.9 260L1154.4 263L1173.7 265.3L1194.5 266.9L1216.4 267.7L1238.9 267.8L1261.5 267.2L1283.8 265.8L1305.3 263.7L1325.7 260.9L1344.4 257.6L1361.2 253.7L1375.7 249.4L1387.8 244.7L1397.3 239.8L1404 234.8L1407.9 229.7L1409 224.6L1407.4 219.6L1403.1 214.8L1396.3 210.3L1387.1 206.2L1375.8 202.4" fill="#ffcd00"/><path d="M1355.5 198.2L1341.5 195.5L1326 193.3L1309.4 191.6L1291.9 190.5L1273.7 189.8L1255.2 189.8L1236.5 190.3L1218 191.3L1199.8 192.8L1182.3 194.9L1165.8 197.4L1150.4 200.5L1136.5 203.9L1124.2 207.7L1113.8 211.8L1105.6 216.2L1099.7 220.8L1096.2 225.5L1095.2 230.3L1096.9 235L1101.3 239.6L1108.4 244L1118 248.1L1130 251.8L1144.4 255L1160.7 257.7L1178.8 259.8L1198.2 261.3L1218.5 262.1L1239.5 262.2L1260.6 261.6L1281.3 260.3L1301.4 258.4L1320.4 255.8L1337.9 252.7L1353.6 249.1L1367.2 245.1L1378.6 240.8L1387.5 236.3L1393.8 231.6L1397.6 226.8L1398.7 222.1L1397.3 217.4L1393.3 213L1387 208.8L1378.5 204.9L1367.9 201.3" fill="#ffbb00"/><path d="M1347.9 197.5L1334.9 195L1320.5 193L1305.1 191.4L1288.8 190.3L1271.9 189.7L1254.7 189.7L1237.3 190.1L1220 191.1L1203.2 192.5L1186.9 194.4L1171.5 196.8L1157.3 199.6L1144.4 202.8L1133.1 206.3L1123.5 210.1L1116 214.2L1110.5 218.4L1107.4 222.8L1106.6 227.1L1108.2 231.5L1112.4 235.7L1118.9 239.7L1127.9 243.5L1139.1 246.9L1152.4 249.8L1167.5 252.3L1184.1 254.3L1202 255.6L1220.8 256.3L1240.1 256.4L1259.6 255.9L1278.7 254.7L1297.2 252.9L1314.8 250.6L1330.9 247.7L1345.5 244.4L1358.1 240.8L1368.7 236.8L1377 232.6L1382.9 228.3L1386.5 223.9L1387.6 219.6L1386.3 215.3L1382.8 211.2L1377 207.3L1369.1 203.7L1359.4 200.4" fill="#ffa900"/><path d="M1339.5 196.9L1327.6 194.6L1314.5 192.8L1300.4 191.3L1285.4 190.3L1269.9 189.8L1254.1 189.7L1238.1 190.2L1222.3 191L1206.8 192.3L1192 194.1L1177.9 196.3L1164.9 198.8L1153.1 201.8L1142.8 205L1134.1 208.5L1127.2 212.2L1122.3 216L1119.5 220L1118.9 224L1120.5 227.9L1124.4 231.7L1130.4 235.4L1138.6 238.8L1148.9 241.8L1161 244.5L1174.7 246.7L1189.9 248.5L1206.2 249.7L1223.3 250.3L1240.8 250.4L1258.5 249.9L1275.9 248.9L1292.7 247.3L1308.7 245.1L1323.4 242.6L1336.7 239.6L1348.3 236.3L1357.9 232.7L1365.6 228.9L1371.1 225L1374.4 221L1375.5 217.1L1374.4 213.2L1371.2 209.4L1366 205.9L1358.9 202.6L1350 199.6" fill="#ff9700"/><path d="M1330.2 196.6L1319.5 194.5L1307.7 192.8L1295.1 191.5L1281.6 190.7L1267.7 190.2L1253.5 190.1L1239.1 190.5L1224.9 191.3L1211 192.5L1197.6 194L1185 196L1173.3 198.3L1162.8 200.9L1153.6 203.8L1145.9 206.9L1139.8 210.2L1135.5 213.7L1133 217.2L1132.6 220.7L1134.1 224.2L1137.6 227.6L1143.1 230.8L1150.4 233.8L1159.6 236.6L1170.5 238.9L1182.7 240.9L1196.3 242.4L1210.8 243.5L1226 244.1L1241.6 244.1L1257.3 243.7L1272.8 242.8L1287.8 241.3L1302 239.5L1315.2 237.2L1327 234.6L1337.4 231.7L1346.1 228.5L1353 225.1L1358 221.7L1361 218.1L1362.1 214.6L1361.2 211.1L1358.4 207.8L1353.8 204.6L1347.5 201.6L1339.6 199" fill="#ff8500"/><path d="M1319.5 196.5L1310.2 194.7L1300 193.3L1289 192.1L1277.3 191.4L1265.1 190.9L1252.7 190.9L1240.2 191.2L1227.8 191.9L1215.7 192.9L1204.1 194.3L1193.1 196L1183 198L1173.9 200.3L1165.9 202.8L1159.3 205.5L1154.1 208.3L1150.4 211.3L1148.4 214.4L1148 217.4L1149.4 220.4L1152.5 223.3L1157.3 226.1L1163.8 228.7L1171.7 231L1181.1 233L1191.7 234.7L1203.4 236L1215.9 236.9L1229 237.4L1242.4 237.5L1256 237.1L1269.3 236.3L1282.2 235.1L1294.5 233.5L1305.9 231.6L1316.2 229.3L1325.2 226.8L1332.7 224.1L1338.7 221.2L1343.1 218.2L1345.8 215.2L1346.8 212.1L1346.2 209.1L1343.8 206.2L1339.9 203.5L1334.4 200.9L1327.6 198.6" fill="#ff7300"/><path d="M1306.6 196.9L1299.1 195.5L1290.7 194.2L1281.6 193.3L1272 192.7L1262 192.3L1251.8 192.3L1241.5 192.6L1231.3 193.1L1221.4 194L1211.9 195.1L1202.9 196.5L1194.6 198.2L1187.1 200L1180.7 202.1L1175.3 204.3L1171.1 206.6L1168.2 209L1166.6 211.5L1166.4 214L1167.6 216.4L1170.2 218.8L1174.2 221L1179.5 223.1L1186 225L1193.6 226.6L1202.3 227.9L1211.8 229L1221.9 229.7L1232.5 230.1L1243.4 230.1L1254.4 229.8L1265.2 229.2L1275.7 228.2L1285.7 227L1295 225.4L1303.3 223.6L1310.7 221.6L1316.9 219.4L1321.9 217.1L1325.5 214.6L1327.8 212.2L1328.7 209.7L1328.2 207.3L1326.4 204.9L1323.2 202.6L1318.8 200.5L1313.3 198.6" fill="#ff6100"/><path d="M1289.7 198.3L1284.3 197.2L1278.4 196.3L1271.9 195.7L1265.1 195.2L1258 195L1250.7 194.9L1243.3 195.1L1236 195.5L1228.9 196.1L1222.1 197L1215.8 198L1209.9 199.1L1204.6 200.5L1200.1 201.9L1196.3 203.5L1193.4 205.1L1191.4 206.9L1190.3 208.6L1190.3 210.3L1191.2 212L1193.1 213.7L1196 215.3L1199.7 216.7L1204.4 218L1209.8 219.1L1215.9 220.1L1222.5 220.8L1229.6 221.3L1237.1 221.6L1244.7 221.6L1252.4 221.4L1260 220.9L1267.4 220.3L1274.4 219.4L1280.9 218.3L1286.8 217.1L1292 215.7L1296.5 214.1L1300 212.5L1302.7 210.8L1304.4 209.1L1305.1 207.3L1304.8 205.6L1303.5 203.9L1301.4 202.3L1298.3 200.8L1294.4 199.5" fill="#ff4f00"/></g>
<g fill="none" stroke="#000" stroke-width="1" stroke-opacity="0.66" shape-rendering="crispEdges"><path d="M1259 336.5Q1215 303.1 1172.5 282.7Q1131.3 263 1091.7 255.8Q1053.5 248.8 1017.2 253.4Q982.2 257.9 949.2 273.2"/><path d="M1259 336.5Q1302.9 308.1 1345.5 290.5Q1386.7 273.6 1426.3 266.9Q1464.5 260.5 1501 263.8Q1536.2 267 1569.5 279.1"/><path d="M1262.9 334Q1218.9 300.7 1176.4 280.4Q1135.1 260.7 1095.5 253.5Q1057.3 246.6 1020.9 251.3Q985.9 255.8 952.9 271.1"/><path d="M1255.1 333.6Q1299.1 305.2 1341.6 287.8Q1382.8 270.8 1422.5 264.3Q1460.7 257.9 1497.3 261.3Q1532.4 264.5 1565.8 276.6"/><path d="M1266.7 331.6Q1222.8 298.3 1180.2 278.1Q1139 258.5 1099.4 251.3Q1061.1 244.4 1024.7 249.2Q989.7 253.7 956.6 269.1"/><path d="M1251.3 330.7Q1295.2 302.4 1337.8 285Q1379 268.2 1418.7 261.7Q1456.9 255.4 1493.5 258.7Q1528.7 262 1562.1 274.2"/><path d="M1270.6 329.2Q1226.6 296 1184.1 275.8Q1142.8 256.3 1103.2 249.2Q1064.9 242.3 1028.5 247.1Q993.4 251.7 960.3 267.1"/><path d="M1247.4 327.9Q1291.4 299.7 1334 282.4Q1375.2 265.6 1414.9 259.1Q1453.2 252.9 1489.8 256.3Q1525 259.6 1558.4 271.8"/><path d="M1274.4 326.8Q1230.5 293.7 1187.9 273.6Q1146.6 254.1 1107 247.1Q1068.7 240.3 1032.3 245.1Q997.2 249.7 964 265.1"/><path d="M1243.6 325.1Q1287.5 297 1330.1 279.7Q1371.4 263 1411.1 256.6Q1449.4 250.4 1486 253.9Q1521.3 257.2 1554.8 269.5"/><path d="M1278.2 324.5Q1234.3 291.5 1191.7 271.4Q1150.5 252 1110.8 245Q1072.5 238.2 1036 243.1Q1000.9 247.7 967.7 263.1"/><path d="M1239.7 322.4Q1283.7 294.4 1326.3 277.2Q1367.6 260.5 1407.3 254.1Q1445.6 248 1482.3 251.5Q1517.6 254.9 1551.1 267.2"/><path d="M1282.1 322.2Q1238.2 289.3 1195.6 269.3Q1154.3 249.9 1114.6 243Q1076.3 236.2 1039.8 241.1Q1004.6 245.8 971.4 261.2"/><path d="M1235.9 319.8Q1279.9 291.8 1322.5 274.6Q1363.8 258 1403.5 251.7Q1441.9 245.6 1478.6 249.2Q1513.9 252.6 1547.4 264.9"/><path d="M1285.9 320Q1242 287.1 1199.4 267.2Q1158.1 247.9 1118.4 241Q1080 234.3 1043.5 239.2Q1008.3 243.9 975.1 259.4"/><path d="M1232.1 317.2Q1276.1 289.3 1318.7 272.2Q1360 255.6 1399.7 249.4Q1438.1 243.3 1474.8 246.9Q1510.2 250.4 1543.8 262.7"/><path d="M1289.7 317.9Q1245.8 285 1203.2 265.2Q1161.9 245.9 1122.2 239Q1083.8 232.4 1047.2 237.3Q1012 242.1 978.7 257.6"/><path d="M1228.3 314.6Q1272.3 286.8 1314.9 269.8Q1356.2 253.3 1396 247.1Q1434.4 241.1 1471.1 244.7Q1506.5 248.2 1540.1 260.6"/><path d="M1293.5 315.7Q1249.6 283 1207 263.2Q1165.7 244 1125.9 237.1Q1087.6 230.5 1051 235.5Q1015.7 240.3 982.4 255.8"/><path d="M1224.5 312.1Q1268.5 284.4 1311.1 267.4Q1352.4 251 1392.2 244.8Q1430.6 238.8 1467.4 242.5Q1502.8 246 1536.5 258.5"/><path d="M1297.3 313.7Q1253.4 281 1210.8 261.2Q1169.5 242.1 1129.7 235.3Q1091.3 228.7 1054.7 233.7Q1019.4 238.5 986 254"/><path d="M1220.7 309.7Q1264.7 282 1307.3 265.1Q1348.7 248.7 1388.5 242.6Q1426.9 236.7 1463.7 240.4Q1499.2 243.9 1532.8 256.4"/><path d="M1301 311.6Q1257.2 279 1214.6 259.4Q1173.4 240.3 1133.7 233.5Q1095.3 226.9 1058.7 231.9Q1023.4 236.7 990 252.2"/><path d="M1217 307.3Q1260.9 279.7 1303.6 262.8Q1344.9 246.5 1384.7 240.4Q1423.2 234.6 1460 238.3Q1495.5 241.9 1529.2 254.4"/><path d="M1304.8 309.6Q1261.3 277.3 1219 257.8Q1178.1 238.8 1138.6 231.9Q1100.4 225.3 1064 230Q1028.9 234.5 995.6 249.6"/><path d="M1213.2 305Q1257.2 277.4 1299.8 260.6Q1341.2 244.4 1381 238.3Q1419.5 232.5 1456.3 236.3Q1491.8 239.9 1525.6 252.4"/><path d="M1308.5 307.7Q1265.3 275.7 1223.3 256.2Q1182.6 237.3 1143.3 230.4Q1105.3 223.6 1069 228.2Q1034.1 232.5 1000.9 247.2"/><path d="M1209.4 302.7Q1253.4 275.2 1296.1 258.5Q1337.4 242.2 1377.3 236.3Q1415.8 230.5 1452.6 234.3Q1488.2 237.9 1522 250.5"/><path d="M1312.3 305.8Q1269.4 274.1 1227.7 254.7Q1187.2 235.9 1148.2 228.9Q1110.5 222.1 1074.4 226.3Q1039.6 230.4 1006.5 244.8"/><path d="M1205.7 300.5Q1249.7 273 1292.3 256.4Q1333.7 240.2 1373.6 234.2Q1412.1 228.5 1449 232.3Q1484.5 236 1518.3 248.6"/><path d="M1316 303.9Q1273.5 272.5 1232.1 253.2Q1191.9 234.5 1153.1 227.4Q1115.6 220.5 1079.7 224.5Q1045 228.4 1012.1 242.3"/><path d="M1202 298.3Q1245.9 270.9 1288.6 254.3Q1330 238.2 1369.9 232.3Q1408.4 226.6 1445.3 230.4Q1480.9 234.2 1514.7 246.7"/><path d="M1319.7 302.1Q1277.5 271 1236.4 251.8Q1196.5 233.2 1158 226Q1120.7 219 1085 222.8Q1050.5 226.4 1017.8 240"/><path d="M1198.3 296.2Q1242.2 268.9 1284.9 252.3Q1326.3 236.2 1366.2 230.4Q1404.7 224.7 1441.6 228.6Q1477.2 232.3 1511.1 244.9"/><path d="M1323.4 300.3Q1281.5 269.5 1240.7 250.4Q1201 231.9 1162.7 224.6Q1125.6 217.6 1090 221.1Q1055.7 224.6 1023.1 237.8"/><path d="M1194.5 294.1Q1238.5 266.9 1281.2 250.3Q1322.5 234.3 1362.5 228.5Q1401 222.9 1438 226.8Q1473.6 230.6 1507.5 243.2"/><path d="M1327.1 298.6Q1285.5 268 1245 249.1Q1205.6 230.7 1167.6 223.3Q1130.7 216.2 1095.3 219.5Q1061.2 222.7 1028.7 235.6"/><path d="M1190.8 292.1Q1234.8 264.9 1277.5 248.4Q1318.8 232.5 1358.8 226.7Q1397.4 221.1 1434.4 225Q1470 228.8 1504 241.5"/><path d="M1330.8 296.9Q1289.6 266.6 1249.3 247.8Q1210.3 229.5 1172.4 222Q1135.8 214.8 1100.6 217.9Q1066.7 220.8 1034.3 233.3"/><path d="M1187.2 290.1Q1231.1 263 1273.8 246.6Q1315.2 230.7 1355.1 224.9Q1393.7 219.4 1430.7 223.3Q1466.4 227.2 1500.4 239.8"/><path d="M1334.5 295.2Q1293.6 265.3 1253.7 246.6Q1214.9 228.3 1177.3 220.8Q1140.9 213.5 1106 216.4Q1072.2 219.1 1039.9 231.2"/><path d="M1183.5 288.2Q1227.4 261.1 1270.1 244.8Q1311.5 228.9 1351.4 223.2Q1390.1 217.7 1427.1 221.7Q1462.8 225.5 1496.8 238.2"/><path d="M1338.2 293.6Q1297.6 264 1258 245.4Q1219.5 227.2 1182.2 219.6Q1146 212.3 1111.3 214.9Q1077.7 217.3 1045.6 229.1"/><path d="M1179.8 286.3Q1223.7 259.3 1266.4 243Q1307.8 227.2 1347.8 221.5Q1386.4 216 1423.5 220.1Q1459.2 223.9 1493.2 236.6"/><path d="M1341.8 292.1Q1301.6 262.7 1262.3 244.2Q1224.1 226.2 1187 218.5Q1151.1 211.1 1116.6 213.4Q1083.1 215.7 1051.2 227.1"/><path d="M1176.1 284.5Q1220.1 257.6 1262.8 241.3Q1304.2 225.5 1344.1 219.9Q1382.8 214.5 1419.8 218.5Q1455.6 222.4 1489.7 235.1"/><path d="M1345.5 290.5Q1305.6 261.5 1266.6 243.1Q1228.6 225.2 1191.9 217.4Q1156.2 209.9 1121.8 212Q1088.6 214 1056.8 225.1"/><path d="M1172.5 282.7Q1216.4 255.9 1259.1 239.6Q1300.5 223.9 1340.5 218.3Q1379.1 212.9 1416.2 217Q1452 220.9 1486.1 233.6"/><path d="M1349.1 289.1Q1309.5 260.3 1270.9 242Q1233.2 224.2 1196.7 216.4Q1161.3 208.8 1127.1 210.7Q1094.1 212.5 1062.5 223.1"/><path d="M1168.9 281Q1212.8 254.2 1255.5 238Q1296.9 222.4 1336.9 216.8Q1375.5 211.4 1412.6 215.5Q1448.4 219.5 1482.6 232.2"/><path d="M1352.7 287.6Q1313.5 259.2 1275.1 241Q1237.8 223.2 1201.5 215.4Q1166.4 207.7 1132.4 209.3Q1099.6 210.9 1068.1 221.3"/><path d="M1165.2 279.4Q1209.1 252.6 1251.8 236.5Q1293.2 220.8 1333.2 215.3Q1371.9 210 1409 214.1Q1444.8 218 1479 230.8"/><path d="M1356.4 286.2Q1317.4 258.1 1279.4 240Q1242.3 222.4 1206.4 214.4Q1171.4 206.7 1137.7 208.1Q1105.1 209.5 1073.8 219.4"/><path d="M1161.6 277.7Q1205.5 251 1248.2 235Q1289.6 219.4 1329.6 213.9Q1368.3 208.6 1405.5 212.7Q1441.3 216.7 1475.5 229.4"/><path d="M1360 284.9Q1321.4 257 1283.6 239Q1246.9 221.5 1211.2 213.5Q1176.5 205.7 1143 206.9Q1110.5 208.1 1079.4 217.7"/><path d="M1158 276.2Q1201.5 249.8 1243.8 233.8Q1284.9 218.3 1324.6 212.7Q1363 207.3 1400 211.2Q1435.6 214.9 1469.6 227.3"/><path d="M1363.6 283.6Q1325.3 256 1287.9 238.1Q1251.4 220.7 1216 212.6Q1181.5 204.7 1148.3 205.7Q1116 206.7 1085 215.9"/><path d="M1154.4 274.7Q1197.5 248.6 1239.4 232.7Q1280.1 217.3 1319.5 211.6Q1357.6 206 1394.2 209.6Q1429.6 213.1 1463.4 225"/><path d="M1367.1 282.3Q1329.2 255 1292.1 237.2Q1256 219.9 1220.8 211.8Q1186.6 203.8 1153.5 204.6Q1121.5 205.4 1090.7 214.3"/><path d="M1150.8 273.2Q1193.4 247.5 1234.9 231.7Q1275.1 216.4 1314.1 210.5Q1351.8 204.9 1388.2 208.2Q1423.2 211.3 1456.8 222.8"/><path d="M1370.7 281.1Q1333.2 254.1 1296.5 236.5Q1260.6 219.3 1225.8 211Q1191.9 203 1159.1 203.5Q1127.3 204.1 1096.7 212.6"/><path d="M1147.3 271.8Q1189.3 246.4 1230.3 230.7Q1270.1 215.5 1308.7 209.6Q1346.1 203.8 1382.1 206.7Q1416.9 209.6 1450.2 220.5"/><path d="M1374.3 279.9Q1337.1 253.2 1300.7 235.7Q1265.2 218.6 1230.6 210.3Q1196.9 202.2 1164.3 202.5Q1132.7 202.8 1102.3 211"/><path d="M1143.7 270.4Q1185.3 245.4 1225.8 229.8Q1265.2 214.7 1303.4 208.6Q1340.4 202.7 1376.1 205.4Q1410.6 207.9 1443.6 218.4"/><path d="M1377.8 278.7Q1341 252.3 1304.9 234.9Q1269.7 217.9 1235.3 209.6Q1201.9 201.5 1169.6 201.6Q1138.2 201.7 1108 209.5"/><path d="M1140.2 269.1Q1181.2 244.4 1221.3 229Q1260.2 214 1298 207.8Q1334.7 201.8 1370 204.1Q1404.2 206.3 1437 216.4"/><path d="M1381.3 277.6Q1344.9 251.5 1309.2 234.3Q1274.3 217.4 1240.3 209Q1207.2 200.8 1175.1 200.6Q1144 200.5 1114 208"/><path d="M1136.6 267.8Q1177.2 243.5 1216.8 228.2Q1255.3 213.2 1292.7 206.9Q1329 200.8 1364 202.9Q1397.9 204.8 1430.4 214.4"/><path d="M1384.9 276.6Q1348.8 250.8 1313.4 233.6Q1278.8 216.8 1245.1 208.3Q1212.2 200.1 1180.4 199.8Q1149.5 199.5 1119.6 206.6"/><path d="M1133.1 266.6Q1173.2 242.6 1212.3 227.4Q1250.4 212.6 1287.4 206.2Q1323.2 200 1357.9 201.7Q1391.5 203.4 1423.8 212.5"/><path d="M1388.4 275.5Q1352.6 250 1317.5 233Q1283.3 216.3 1249.8 207.8Q1217.2 199.5 1185.6 199Q1154.9 198.5 1125.3 205.3"/><path d="M1129.6 265.5Q1169.1 241.8 1207.8 226.7Q1245.4 212 1282 205.5Q1317.5 199.2 1351.9 200.6Q1385.2 202 1417.2 210.6"/><path d="M1391.9 274.6Q1356.5 249.4 1321.8 232.4Q1287.9 215.9 1254.8 207.3Q1222.5 198.9 1191.2 198.2Q1160.7 197.5 1131.3 203.9"/><path d="M1126.1 264.3Q1165.1 241 1203.3 226Q1240.5 211.4 1276.7 204.8Q1311.8 198.4 1345.8 199.6Q1378.8 200.7 1410.6 208.9"/><path d="M1395.4 273.6Q1360.3 248.7 1325.9 231.9Q1292.3 215.4 1259.5 206.8Q1227.5 198.4 1196.4 197.5Q1166.2 196.6 1136.9 202.7"/><path d="M1122.6 263.3Q1161.1 240.3 1198.9 225.4Q1235.6 210.9 1271.4 204.2Q1306.1 197.7 1339.8 198.6Q1372.4 199.4 1403.9 207.2"/><path d="M1398.9 272.7Q1364.2 248.1 1330.2 231.4Q1296.9 215.1 1264.4 206.4Q1232.7 198 1201.9 196.8Q1171.9 195.7 1142.9 201.5"/><path d="M1119.1 262.2Q1157.2 239.6 1194.4 224.8Q1230.7 210.5 1266.1 203.7Q1300.4 197.1 1333.8 197.7Q1366.1 198.3 1397.3 205.6"/><path d="M1402.3 271.9Q1368 247.5 1334.3 230.9Q1301.4 214.7 1269.1 206Q1237.7 197.5 1207.1 196.2Q1177.4 194.9 1148.6 200.4"/><path d="M1115.7 261.3Q1153.1 239 1189.9 224.4Q1225.7 210.1 1260.6 203.2Q1294.5 196.5 1327.4 196.8Q1359.4 197.1 1390.3 204"/><path d="M1405.8 271Q1371.9 247 1338.5 230.6Q1305.9 214.5 1274.1 205.7Q1242.9 197.2 1212.6 195.6Q1183.1 194.1 1154.6 199.3"/><path d="M1112.2 260.3Q1149.2 238.4 1185.4 223.9Q1220.8 209.8 1255.3 202.8Q1288.8 196 1321.4 196Q1353 196.1 1383.6 202.5"/><path d="M1409.2 270.3Q1375.7 246.5 1342.6 230.2Q1310.4 214.2 1278.7 205.4Q1247.9 196.8 1217.9 195.1Q1188.6 193.4 1160.2 198.3"/><path d="M1108.8 259.5Q1145.2 237.8 1181 223.5Q1215.9 209.4 1250 202.4Q1283.1 195.6 1315.4 195.3Q1346.7 195.1 1377 201.2"/><path d="M1412.7 269.5Q1379.5 246.1 1346.9 229.9Q1314.9 214 1283.6 205.2Q1253.1 196.5 1223.3 194.6Q1194.3 192.7 1166.2 197.3"/><path d="M1105.3 258.6Q1141.2 237.4 1176.5 223.1Q1210.9 209.2 1244.5 202.1Q1277.2 195.2 1309 194.7Q1340 194.2 1369.9 199.8"/><path d="M1416.1 268.8Q1383.3 245.6 1350.9 229.6Q1319.3 213.8 1288.3 204.9Q1258.1 196.3 1228.5 194.2Q1199.8 192.1 1171.8 196.4"/><path d="M1101.9 257.8Q1137.3 236.9 1172.1 222.8Q1206 209 1239.2 201.8Q1271.5 194.8 1303 194.1Q1333.6 193.4 1363.2 198.6"/><path d="M1419.5 268.1Q1376.4 237.8 1334.2 219.6Q1293.2 202 1253.4 196Q1214.9 190.3 1177.8 195.5"/><path d="M1098.5 257.1Q1133.4 236.5 1167.6 222.6Q1201 208.9 1233.8 201.7Q1265.6 194.6 1296.7 193.6Q1326.9 192.6 1356.2 197.4"/><path d="M1422.9 267.5Q1380.3 237.5 1338.6 219.5Q1298.1 201.9 1258.7 195.8Q1220.6 189.9 1183.9 194.7"/><path d="M1095.1 256.4Q1129.4 236.2 1163.1 222.4Q1196.1 208.9 1228.3 201.5Q1259.7 194.4 1290.4 193.1Q1320.2 191.9 1349.1 196.3"/><path d="M1426.3 266.9Q1384.2 237.4 1343 219.4Q1302.9 202 1264 195.7Q1226.3 189.5 1189.9 193.9"/><path d="M1091.7 255.8Q1125.5 235.9 1158.8 222.2Q1191.2 208.8 1223 201.4Q1254.1 194.2 1284.3 192.7Q1313.8 191.3 1342.5 195.3"/><path d="M1429.7 266.4Q1388 237.2 1347.3 219.3Q1307.6 202 1269 195.5Q1231.6 189.3 1195.5 193.3"/><path d="M1088.3 255.2Q1121.6 235.6 1154.3 222.1Q1186.3 208.9 1217.6 201.4Q1248.2 194.1 1278 192.4Q1307.1 190.8 1335.4 194.4"/><path d="M1433 265.9Q1391.9 237 1351.6 219.3Q1312.4 202.1 1274.3 195.4Q1237.3 189 1201.5 192.6"/><path d="M1085 254.6Q1128.4 229.1 1170.9 213.9Q1212.1 199.1 1252.2 194.1Q1290.9 189.2 1328.3 193.5"/><path d="M1436.4 265.4Q1395.8 237 1356 219.4Q1317.3 202.2 1279.5 195.4Q1242.9 188.8 1207.5 192.1"/><path d="M1081.6 254.1Q1124.3 229.1 1166.1 214Q1206.7 199.3 1246.1 194Q1284.3 188.9 1321.2 192.7"/><path d="M1439.7 265Q1399.7 236.9 1360.4 219.4Q1322.1 202.4 1284.8 195.5Q1248.5 188.7 1213.5 191.5"/><path d="M1078.3 253.7Q1120.3 229.1 1161.4 214.1Q1201.3 199.5 1240.1 194Q1277.8 188.7 1314.2 192"/><path d="M1443.1 264.6Q1403.5 236.9 1364.7 219.6Q1326.9 202.6 1290 195.5Q1254.2 188.7 1219.5 191.1"/><path d="M1075 253.3Q1116.2 229.1 1156.6 214.3Q1195.9 199.8 1234.1 194.1Q1271.2 188.6 1307.1 191.4"/><path d="M1446.4 264.2Q1407.4 237 1369 219.7Q1331.7 202.9 1295.2 195.7Q1259.8 188.6 1225.5 190.7"/><path d="M1071.6 252.9Q1112.1 229.2 1151.8 214.5Q1190.5 200.1 1228.1 194.3Q1264.6 188.6 1300 190.9"/><path d="M1449.7 263.9Q1411.2 237.1 1373.4 219.9Q1336.5 203.2 1300.5 195.8Q1265.4 188.7 1231.5 190.4"/><path d="M1068.3 252.6Q1108.1 229.4 1147.1 214.7Q1185.1 200.5 1222.1 194.5Q1258 188.6 1292.9 190.5"/><path d="M1453 263.6Q1415 237.2 1377.7 220.2Q1341.3 203.6 1305.7 196.1Q1271.1 188.8 1237.5 190.1"/><path d="M1065 252.3Q1104.1 229.6 1142.4 215.1Q1179.7 200.9 1216.1 194.7Q1251.4 188.7 1285.8 190.1"/><path d="M1456.3 263.4Q1418.8 237.3 1382 220.4Q1346 204 1310.9 196.3Q1276.7 188.9 1243.4 189.9"/><path d="M1061.8 252.1Q1100.1 229.8 1137.7 215.4Q1174.3 201.4 1210.1 195.1Q1244.8 188.9 1278.7 189.9"/><path d="M1459.5 263.2Q1422.6 237.5 1386.3 220.8Q1350.8 204.4 1316.1 196.6Q1282.3 189.1 1249.4 189.7"/><path d="M1058.5 251.9Q1096 230.1 1132.8 215.9Q1168.7 202.1 1203.8 195.5Q1237.9 189.1 1271.2 189.7"/><path d="M1462.8 263Q1426.4 237.7 1390.5 221.1Q1355.5 204.9 1321.3 197Q1287.9 189.3 1255.4 189.6"/><path d="M1055.2 251.7Q1092 230.4 1128.1 216.4Q1163.3 202.7 1197.8 196Q1231.4 189.5 1264 189.6"/><path d="M1466 262.9Q1430.2 238 1395 221.6Q1360.5 205.5 1326.7 197.5Q1293.8 189.7 1261.8 189.6"/><path d="M1052 251.6Q1087.9 230.8 1123.3 216.9Q1157.8 203.4 1191.6 196.5Q1224.5 189.9 1256.5 189.6"/><path d="M1469.3 262.8Q1434 238.3 1399.2 222Q1365.2 206 1331.9 197.9Q1299.4 190 1267.7 189.7"/><path d="M1048.8 251.6Q1084 231.2 1118.6 217.5Q1152.4 204.1 1185.6 197.1Q1217.9 190.4 1249.4 189.7"/><path d="M1472.5 262.7Q1437.7 238.6 1403.5 222.5Q1369.9 206.6 1337.1 198.4Q1305 190.5 1273.7 189.8"/><path d="M1045.6 251.6Q1080 231.7 1113.8 218.1Q1146.9 204.9 1179.4 197.8Q1211 190.9 1241.9 189.9"/><path d="M1475.7 262.7Q1441.5 239 1407.7 223Q1374.7 207.3 1342.2 199Q1310.6 190.9 1279.7 189.9"/><path d="M1042.4 251.6Q1075.9 232.2 1109 218.8Q1141.4 205.8 1173.1 198.6Q1204.1 191.6 1234.4 190.2"/><path d="M1478.9 262.7Q1445.3 239.4 1412.1 223.6Q1379.6 208 1347.6 199.7Q1316.5 191.5 1286 190.2"/><path d="M1039.2 251.7Q1072 232.7 1104.4 219.5Q1136.1 206.7 1167.2 199.4Q1197.5 192.3 1227.3 190.6"/><path d="M1482.1 262.8Q1449 239.9 1416.3 224.2Q1384.2 208.8 1352.8 200.3Q1322.1 192 1292 190.4"/><path d="M1036 251.8Q1068 233.3 1099.6 220.3Q1130.6 207.6 1160.9 200.3Q1190.7 193.1 1219.7 191.1"/><path d="M1485.3 262.9Q1452.7 240.4 1420.6 224.8Q1389.1 209.6 1358.2 201.1Q1327.9 192.7 1298.3 190.8"/><path d="M1032.8 252Q1064.1 234 1094.9 221.2Q1125.1 208.7 1154.7 201.3Q1183.8 194 1212.2 191.6"/><path d="M1488.5 263Q1456.4 240.9 1424.8 225.5Q1393.8 210.4 1363.3 201.8Q1333.5 193.4 1304.3 191.2"/><path d="M1029.7 252.2Q1060.1 234.7 1090.1 222.1Q1119.6 209.8 1148.5 202.3Q1176.9 195 1204.7 192.3"/><path d="M1491.6 263.1Q1460.2 241.5 1429.1 226.3Q1398.7 211.3 1368.7 202.7Q1339.4 194.2 1310.6 191.7"/><path d="M1026.5 252.4Q1056.1 235.4 1085.4 223Q1114.1 210.9 1142.3 203.4Q1170 196 1197.2 193.1"/><path d="M1494.8 263.3Q1463.8 242 1433.3 227Q1403.3 212.2 1373.8 203.5Q1344.9 195 1316.6 192.3"/><path d="M1023.4 252.7Q1066.4 228 1108.7 213.2Q1149.7 198.8 1189.6 194"/><path d="M1497.9 263.6Q1467.6 242.7 1437.6 227.8Q1408.1 213.2 1379.1 204.5Q1350.8 195.9 1322.9 192.9"/><path d="M1020.3 253.1Q1062.1 229 1103.2 214.4Q1143.1 200.1 1182.1 194.9"/><path d="M1501 263.8Q1471.2 243.3 1441.7 228.6Q1412.8 214.2 1384.2 205.4Q1356.3 196.8 1328.8 193.6"/><path d="M1017.2 253.4Q1057.7 230.2 1097.5 215.7Q1136.3 201.6 1174.2 196"/><path d="M1504.1 264.1Q1474.9 244 1446 229.5Q1417.6 215.3 1389.6 206.4Q1362.1 197.8 1335.2 194.3"/><path d="M1014.1 253.9Q1053.4 231.3 1092.1 217Q1129.8 203.1 1166.6 197.2"/><path d="M1507.2 264.4Q1478.6 244.8 1450.2 230.5Q1422.4 216.4 1394.9 207.5Q1368 198.8 1341.5 195.2"/><path d="M1011 254.3Q1049.1 232.4 1086.7 218.4Q1123.3 204.7 1159.1 198.5"/><path d="M1510.3 264.8Q1468.4 236.1 1427.1 218.8Q1387 202 1347.8 196.1"/><path d="M1007.9 254.8Q1044.8 233.7 1081 219.9Q1116.5 206.4 1151.2 199.9"/><path d="M1513.4 265.2Q1472.3 237.1 1431.9 219.9Q1392.6 203.2 1354.1 197.1"/><path d="M1004.9 255.4Q1040.4 235 1075.4 221.4Q1109.6 208.2 1143.2 201.4"/><path d="M1516.4 265.7Q1476.2 238.1 1436.5 221.1Q1397.8 204.5 1360 198"/><path d="M1001.8 256Q1036.2 236.3 1070 223Q1103.2 209.9 1135.7 203"/><path d="M1519.5 266.1Q1480.1 239.2 1441.2 222.3Q1403.4 205.9 1366.3 199.1"/><path d="M998.8 256.6Q1031.8 237.7 1064.5 224.6Q1096.4 211.8 1127.7 204.7"/><path d="M1522.5 266.6Q1484 240.3 1446 223.6Q1408.9 207.3 1372.6 200.3"/><path d="M995.8 257.3Q1027.5 239.1 1058.9 226.3Q1089.6 213.8 1119.8 206.6"/><path d="M1525.5 267.2Q1487.9 241.4 1450.7 224.9Q1414.5 208.8 1378.9 201.6"/><path d="M992.8 258Q1023.2 240.5 1053.3 228.1Q1082.8 215.9 1111.9 208.5"/><path d="M1528.5 267.7Q1491.8 242.6 1455.5 226.3Q1420 210.3 1385.1 202.9"/><path d="M989.8 258.7Q1018.9 242 1047.8 229.9Q1076 218.1 1103.9 210.6"/><path d="M1531.5 268.3Q1495.7 243.8 1460.2 227.7Q1425.5 211.9 1391.4 204.2"/><path d="M986.8 259.5Q1014.6 243.6 1042.2 231.8Q1069.3 220.3 1096 212.8"/><path d="M1534.5 269Q1499.6 245.1 1465.1 229.2Q1431.3 213.7 1398.1 205.8"/><path d="M983.8 260.3Q1010.4 245.2 1036.7 233.8Q1062.5 222.6 1088.1 215.1"/><path d="M1537.5 269.6Q1503.5 246.4 1469.8 230.7Q1436.8 215.4 1404.3 207.3"/><path d="M980.9 261.2Q1006.1 246.8 1031.2 235.8Q1055.8 224.9 1080.1 217.4"/><path d="M1540.5 270.3Q1507.3 247.7 1474.4 232.3Q1442.3 217.1 1410.6 208.9"/><path d="M977.9 262.1Q1001.8 248.5 1025.4 237.9Q1048.7 227.5 1071.8 220.1"/><path d="M1543.4 271.1Q1511.1 249.1 1479.1 233.8Q1447.8 218.9 1416.8 210.5"/><path d="M975 263Q997.6 250.2 1019.9 240Q1042 230 1063.9 222.7"/><path d="M1546.4 271.8Q1515 250.5 1484 235.5Q1453.5 220.9 1423.5 212.4"/><path d="M972.1 264Q1014.1 240 1055.5 225.5"/><path d="M1549.3 272.6Q1518.8 251.9 1488.6 237.2Q1459 222.7 1429.7 214.2"/><path d="M969.2 265Q1008.7 242.5 1047.6 228.4"/><path d="M1552.2 273.5Q1522.6 253.3 1493.2 238.9Q1464.4 224.7 1435.9 216"/><path d="M966.3 266.1Q1003 245.2 1039.3 231.4"/><path d="M1555.1 274.3Q1526.5 254.9 1498.1 240.7Q1470.1 226.8 1442.5 218.1"/><path d="M963.4 267.2Q997.4 247.8 1031 234.7"/><path d="M1558 275.2Q1530.2 256.3 1502.7 242.5Q1475.6 228.8 1448.7 220.1"/><path d="M960.6 268.3Q991.8 250.5 1022.6 238"/><path d="M1560.9 276.2Q1534.1 257.9 1507.5 244.4Q1481.3 231 1455.3 222.3"/><path d="M957.7 269.5Q986.1 253.3 1014.3 241.4"/><path d="M1563.8 277.1Q1537.9 259.6 1512.2 246.3Q1487 233.3 1461.9 224.5"/><path d="M954.9 270.7Q980.5 256.1 1006 245"/><path d="M1566.6 278.1Q1541.6 261.1 1516.8 248.2Q1492.4 235.5 1468.1 226.7"/><path d="M952 271.9Q975 258.9 997.7 248.7"/><path d="M1569.5 279.1Q1545.4 262.8 1521.6 250.3Q1498 237.9 1474.7 229.1"/><path d="M949.2 273.2Q969.2 261.9 989 252.6"/></g>
<g clip-path="url(#sB)" fill="none" stroke="#000" stroke-linejoin="round" stroke-linecap="butt"><use href="#bB" stroke-width="8" stroke-opacity="0.25"/><use href="#bB" stroke-width="3.6" stroke-opacity="0.55"/></g>
<g fill="#000"><rect x="952.5" y="349.9" width="3.4" height="3"/><rect x="948.7" y="289.9" width="3.4" height="3"/><rect x="944.9" y="230.0" width="3.4" height="3"/><rect x="941.1" y="170.0" width="3.4" height="3"/><rect x="937.3" y="110.0" width="3.4" height="3"/><rect x="1257.5" y="534.4" width="3.4" height="3"/><rect x="1182.4" y="507.0" width="3.4" height="3"/><rect x="1107.4" y="479.7" width="3.4" height="3"/><rect x="1032.3" y="452.3" width="3.4" height="3"/><rect x="957.2" y="425.0" width="3.4" height="3"/><rect x="1317.8" y="512.5" width="3.4" height="3"/><rect x="1378.0" y="490.6" width="3.4" height="3"/><rect x="1438.2" y="468.7" width="3.4" height="3"/><rect x="1498.5" y="446.9" width="3.4" height="3"/><rect x="1558.7" y="425.0" width="3.4" height="3"/></g>
<g font-family="'Liberation Sans',Arial,Helvetica,sans-serif" fill="#000"><text transform="translate(943.78 346.33)" font-size="19" text-anchor="end" stroke="#000" stroke-width="0.85" stroke-linejoin="round">70</text><text transform="translate(939.97 286.35)" font-size="19" text-anchor="end" stroke="#000" stroke-width="0.85" stroke-linejoin="round">80</text><text transform="translate(936.17 226.36)" font-size="19" text-anchor="end" stroke="#000" stroke-width="0.85" stroke-linejoin="round">90</text><text transform="translate(932.36 166.38)" font-size="19" text-anchor="end" stroke="#000" stroke-width="0.85" stroke-linejoin="round">100</text><text transform="translate(928.55 106.40)" font-size="19" text-anchor="end" stroke="#000" stroke-width="0.85" stroke-linejoin="round">110</text><text transform="translate(1248.61 554.87)" font-size="19.4" text-anchor="end" stroke="#000" stroke-width="0.8" stroke-linejoin="round" letter-spacing="-0.4">6.00</text><text transform="translate(1173.55 527.53)" font-size="19.4" text-anchor="end" stroke="#000" stroke-width="0.8" stroke-linejoin="round" letter-spacing="-0.4">6.50</text><text transform="translate(1098.48 500.18)" font-size="19.4" text-anchor="end" stroke="#000" stroke-width="0.8" stroke-linejoin="round" letter-spacing="-0.4">7.00</text><text transform="translate(1023.41 472.84)" font-size="19.4" text-anchor="end" stroke="#000" stroke-width="0.8" stroke-linejoin="round" letter-spacing="-0.4">7.50</text><text transform="translate(948.35 445.50)" font-size="19.4" text-anchor="end" stroke="#000" stroke-width="0.8" stroke-linejoin="round" letter-spacing="-0.4">8.00</text><text transform="translate(1269.71 554.87)" font-size="19.4" stroke="#000" stroke-width="0.8" stroke-linejoin="round" letter-spacing="-0.4">40.00</text><text transform="translate(1329.95 532.99)" font-size="19.4" stroke="#000" stroke-width="0.8" stroke-linejoin="round" letter-spacing="-0.4">48.00</text><text transform="translate(1390.19 511.12)" font-size="19.4" stroke="#000" stroke-width="0.8" stroke-linejoin="round" letter-spacing="-0.4">56.00</text><text transform="translate(1450.43 489.24)" font-size="19.4" stroke="#000" stroke-width="0.8" stroke-linejoin="round" letter-spacing="-0.4">64.00</text><text transform="translate(1510.67 467.36)" font-size="19.4" stroke="#000" stroke-width="0.8" stroke-linejoin="round" letter-spacing="-0.4">72.00</text><text transform="translate(1570.91 445.49)" font-size="19.4" stroke="#000" stroke-width="0.8" stroke-linejoin="round" letter-spacing="-0.4">80.00</text><text transform="translate(992.50 527.00) scale(1.050 1)" font-size="16" text-anchor="middle" stroke="#000" stroke-width="0.7" stroke-linejoin="round">X2/%</text><text transform="translate(1524.80 527.00) scale(1.050 1)" font-size="16" text-anchor="middle" stroke="#000" stroke-width="0.7" stroke-linejoin="round">X1/mg</text></g>
<text transform="translate(867.40 21.10) scale(0.870 1)" font-family="'Liberation Sans',Arial,Helvetica,sans-serif" font-size="31.7" font-weight="bold" fill="#000">B</text>
<g stroke="#1a1a1a" stroke-width="0.9" fill="none"><path d="M985.8 1022.7L965.9 707.7"/><path d="M1286.6 936.9L1286.4 652.6"/><path d="M1587.3 1022.7L1606.7 707.3"/><path d="M981.1 947.6L1286.6 868.8"/><path d="M1286.6 868.8L1591.9 947.5"/><path d="M977.3 887.6L1286.5 814.7"/><path d="M1286.5 814.7L1595.6 887.5"/><path d="M973.5 827.7L1286.5 760.7"/><path d="M1286.5 760.7L1599.3 827.4"/><path d="M969.7 767.7L1286.4 706.6"/><path d="M1286.4 706.6L1603.0 767.4"/><path d="M965.9 707.7L1286.4 652.6"/><path d="M1286.4 652.6L1606.7 707.3"/><path d="M1042.2 931.9L1030.0 696.7"/><path d="M1103.3 916.1L1094.1 685.7"/><path d="M1164.4 900.3L1158.2 674.6"/><path d="M1225.5 884.5L1222.3 663.6"/><path d="M1530.9 931.8L1542.6 696.4"/><path d="M1469.8 916.0L1478.6 685.4"/><path d="M1408.7 900.3L1414.5 674.5"/><path d="M1347.6 884.5L1350.4 663.5"/></g>
<path d="M985.8 1022.7L1286.1 1132.1L1587.3 1022.7L1286.6 936.9Z" fill="#ffff00" stroke="#111" stroke-width="0.9"/>
<g clip-path="url(#fD)" fill="none" stroke-width="1"><path stroke="#00e8ff" d="M1550.1 957.3L1527.5 951.8L1504 946.8L1479.6 942.5L1454.5 938.8L1428.8 935.7L1402.7 933.3L1376.3 931.5L1349.7 930.4L1323.1 929.9L1296.6 930.1L1270.3 930.9L1244.3 932.4L1218.8 934.6L1194 937.4L1169.8 940.8L1146.6 944.9L1124.3 949.5L1103.2 954.8L1083.4 960.7L1065.1 967.1L1048.3 974.1L1033.2 981.7L1020 989.7L1008.8 998.1L999.8 1007L993.1 1016.2L988.8 1025.8L987 1035.6L987.9 1045.6L991.6 1055.7L998.1 1065.8L1007.4 1075.9L1019.7 1085.8L1034.8 1095.4L1052.8 1104.8L1073.5 1113.6L1096.8 1121.9L1122.6 1129.6L1150.7 1136.5L1180.8 1142.6L1212.5 1147.7L1245.7 1151.8L1279.9 1154.9L1314.8 1156.9L1350 1157.7L1385.1 1157.4L1419.6 1156L1453.3 1153.4L1485.7 1149.7L1516.5 1145.1L1545.4 1139.4L1572.1 1132.9L1596.4 1125.5L1618 1117.5L1636.9 1108.9L1652.9 1099.7L1665.9 1090.2L1676 1080.4L1683.1 1070.4L1687.2 1060.3L1688.5 1050.1L1687.1 1040.1L1683 1030.2L1676.3 1020.5L1667.3 1011.1L1656 1002L1642.7 993.4L1627.4 985.1L1610.3 977.4L1591.6 970.1L1571.5 963.4L1550.1 957.3 Z"/><path stroke="#10ff30" d="M1517.8 967.9L1498.8 963.1L1478.9 958.8L1458.2 955.1L1436.9 951.9L1415 949.2L1392.8 947.1L1370.2 945.5L1347.5 944.6L1324.8 944.1L1302.1 944.3L1279.6 945L1257.5 946.3L1235.7 948.2L1214.6 950.6L1194.1 953.6L1174.4 957.1L1155.6 961.2L1137.8 965.7L1121.2 970.8L1105.9 976.4L1092 982.4L1079.6 988.8L1068.9 995.6L1059.9 1002.8L1052.8 1010.3L1047.7 1018.1L1044.6 1026.1L1043.8 1034.4L1045.1 1042.7L1048.7 1051.1L1054.7 1059.4L1063.1 1067.7L1073.7 1075.9L1086.8 1083.8L1102 1091.3L1119.5 1098.5L1139.1 1105.3L1160.6 1111.4L1183.8 1117L1208.6 1121.8L1234.7 1125.9L1261.9 1129.2L1289.9 1131.7L1318.5 1133.3L1347.2 1133.9L1375.8 1133.7L1404.1 1132.5L1431.6 1130.5L1458.2 1127.6L1483.5 1123.8L1507.4 1119.3L1529.5 1114.1L1549.7 1108.2L1567.9 1101.7L1583.8 1094.7L1597.5 1087.3L1608.8 1079.5L1617.6 1071.4L1624.1 1063.2L1628.2 1054.8L1629.8 1046.4L1629.2 1038.1L1626.4 1029.8L1621.4 1021.7L1614.3 1013.8L1605.3 1006.1L1594.5 998.8L1582.1 991.8L1568 985.1L1552.5 978.9L1535.7 973.2L1517.8 967.9 Z"/><path stroke="#a8ff40" d="M1476.2 981.6L1461.7 977.8L1446.4 974.4L1430.5 971.4L1414.1 968.9L1397.1 966.7L1379.9 965.1L1362.3 963.8L1344.7 963L1327 962.7L1309.3 962.8L1291.8 963.4L1274.6 964.5L1257.8 966L1241.4 967.9L1225.5 970.2L1210.4 973L1196 976.2L1182.4 979.8L1169.8 983.8L1158.3 988.2L1147.9 992.9L1138.8 997.9L1131 1003.2L1124.6 1008.7L1119.6 1014.5L1116.2 1020.5L1114.4 1026.6L1114.3 1032.8L1115.9 1039.1L1119.2 1045.4L1124.2 1051.6L1131 1057.8L1139.4 1063.8L1149.6 1069.6L1161.4 1075.2L1174.8 1080.4L1189.6 1085.3L1205.8 1089.8L1223.2 1093.8L1241.6 1097.3L1261 1100.2L1281.1 1102.6L1301.8 1104.3L1322.8 1105.4L1343.9 1105.9L1365 1105.7L1385.7 1104.9L1406.1 1103.4L1425.7 1101.3L1444.5 1098.7L1462.2 1095.4L1478.8 1091.6L1494 1087.4L1507.8 1082.7L1520 1077.6L1530.6 1072.2L1539.5 1066.5L1546.6 1060.5L1552 1054.4L1555.6 1048.2L1557.4 1041.9L1557.5 1035.6L1555.9 1029.4L1552.6 1023.2L1547.8 1017.1L1541.4 1011.3L1533.6 1005.6L1524.5 1000.2L1514 995L1502.5 990.2L1489.8 985.7L1476.2 981.6 Z"/><path stroke="#ff9a10" d="M1409.4 1003.5L1401.9 1001.4L1394 999.5L1385.6 997.9L1376.9 996.5L1368 995.3L1358.8 994.4L1349.5 993.7L1340 993.3L1330.6 993.1L1321.1 993.2L1311.8 993.5L1302.6 994.1L1293.6 994.9L1284.9 995.9L1276.6 997.3L1268.6 998.8L1261.1 1000.5L1254.1 1002.5L1247.7 1004.7L1241.9 1007L1236.7 1009.6L1232.2 1012.2L1228.5 1015L1225.5 1018L1223.3 1021L1222 1024.1L1221.5 1027.3L1221.8 1030.4L1223.1 1033.6L1225.2 1036.8L1228.1 1039.9L1231.9 1043L1236.6 1046L1242 1048.8L1248.2 1051.5L1255.1 1054.1L1262.7 1056.4L1270.9 1058.6L1279.6 1060.5L1288.8 1062.1L1298.4 1063.5L1308.4 1064.6L1318.5 1065.4L1328.8 1066L1339.2 1066.2L1349.5 1066.1L1359.7 1065.7L1369.7 1065L1379.4 1064L1388.7 1062.8L1397.6 1061.2L1405.9 1059.4L1413.6 1057.4L1420.7 1055.2L1427 1052.7L1432.6 1050.1L1437.4 1047.3L1441.4 1044.4L1444.5 1041.3L1446.7 1038.2L1448.1 1035.1L1448.5 1031.9L1448.1 1028.7L1446.9 1025.5L1444.8 1022.4L1441.9 1019.3L1438.2 1016.3L1433.8 1013.5L1428.6 1010.7L1422.8 1008.1L1416.4 1005.7L1409.4 1003.5 Z"/></g>
<g clip-path="url(#sD)"><path d="M977.6 892.1L980.8 890.9L984.1 889.8L987.4 888.8L990.7 887.8L994 886.8L997.3 885.9L1000.7 885L1004 884.2L1007.4 883.4L1010.8 882.6L1014.2 881.9L1017.6 881.2L1021.1 880.6L1024.5 880L1028 879.5L1031.5 879L1035 878.5L1038.5 878.1L1042.1 877.8L1045.6 877.5L1049.2 877.2L1052.8 877L1056.4 876.8L1060 876.7L1063.6 876.6L1067.3 876.6L1070.9 876.6L1074.6 876.6L1078.3 876.7L1082 876.9L1085.8 877.1L1089.5 877.4L1092.5 877.6L1095.5 877.9L1098.5 878.2L1101.6 878.5L1104.6 878.9L1107.7 879.3L1110.7 879.7L1113.8 880.2L1116.9 880.7L1120 881.2L1123.1 881.8L1126.2 882.4L1129.3 883L1132.5 883.7L1135.6 884.4L1138.8 885.1L1141.9 885.9L1145.1 886.7L1148.3 887.5L1151.5 888.4L1154.7 889.3L1157.9 890.2L1161.1 891.2L1164.4 892.2L1167.6 893.2L1170.8 894.3L1174.1 895.4L1177.4 896.5L1180.6 897.7L1183.9 898.9L1187.2 900.2L1190.5 901.4L1193.9 902.7L1197.2 904.1L1200.5 905.5L1203.9 906.9L1207.2 908.4L1210.6 909.9L1213.9 911.4L1217.3 913L1220.7 914.6L1224.1 916.2L1227.5 917.9L1230.9 919.6L1234.4 921.4L1237.8 923.1L1241.2 925L1244.7 926.8L1248.2 928.7L1251.6 930.7L1255.1 932.6L1257.7 934.2L1260.3 935.7L1263 937.2L1265.6 938.8L1268.2 940.4L1270.9 942L1273.5 943.6L1276.2 945.3L1278.8 947L1281.5 948.7L1284.1 950.4L1287.7 950L1290.4 947.8L1293 945.6L1295.7 943.5L1298.3 941.3L1301 939.2L1303.6 937.1L1306.3 935L1308.9 932.9L1311.5 930.9L1314.2 928.9L1316.8 926.9L1319.4 924.9L1322 923L1324.6 921.1L1327.2 919.2L1329.8 917.3L1332.4 915.5L1335 913.6L1337.6 911.8L1340.2 910.1L1342.8 908.3L1345.4 906.6L1347.9 904.9L1350.5 903.2L1353.1 901.5L1355.6 899.9L1358.2 898.2L1360.7 896.6L1364.1 894.5L1367.5 892.5L1370.9 890.5L1374.2 888.5L1377.6 886.5L1380.9 884.6L1384.3 882.8L1387.6 881L1390.9 879.2L1394.2 877.4L1397.5 875.7L1400.8 874.1L1404.1 872.4L1407.4 870.9L1410.7 869.3L1413.9 867.8L1417.2 866.3L1420.4 864.9L1423.7 863.5L1426.9 862.1L1430.1 860.8L1433.3 859.5L1436.5 858.3L1439.7 857.1L1442.9 855.9L1446 854.8L1449.2 853.7L1452.4 852.6L1455.5 851.6L1458.6 850.6L1461.8 849.7L1464.9 848.8L1468 847.9L1471.1 847.1L1474.2 846.3L1477.2 845.5L1480.3 844.8L1483.4 844.1L1486.4 843.4L1489.4 842.8L1492.5 842.2L1495.5 841.7L1498.5 841.1L1501.5 840.7L1504.5 840.2L1507.5 839.8L1511.2 839.3L1514.9 838.9L1518.6 838.6L1522.2 838.3L1525.9 838L1529.5 837.8L1533.1 837.7L1536.7 837.6L1540.3 837.5L1543.9 837.5L1547.5 837.6L1551 837.7L1554.5 837.9L1558 838.1L1561.5 838.3L1565 838.6L1568.5 839L1571.9 839.4L1575.3 839.9L1578.8 840.4L1582.2 840.9L1585.6 841.5L1588.9 842.2L1592.3 842.9L1595.6 843.6L1593.1 841.4L1589.7 839.5L1586.2 837.7L1582.8 835.9L1579.4 834.2L1576 832.4L1572.6 830.7L1569.2 829.1L1565.8 827.4L1562.4 825.8L1559 824.2L1555.6 822.7L1552.2 821.2L1548.9 819.7L1545.5 818.3L1542.1 816.9L1538.8 815.5L1535.4 814.2L1532.1 812.9L1528.8 811.6L1525.4 810.3L1522.1 809.1L1518.8 807.9L1515.5 806.8L1512.2 805.7L1508.9 804.6L1505.6 803.5L1502.3 802.5L1499 801.5L1495.8 800.6L1492.5 799.6L1489.2 798.7L1486 797.9L1482.8 797L1476.4 795.4L1472.9 794.6L1469.3 793.7L1465.8 792.9L1462.2 792.1L1458.7 791.4L1455.1 790.6L1451.6 789.9L1448.1 789.2L1444.5 788.5L1441 787.8L1437.4 787.2L1433.9 786.6L1430.3 786L1426.8 785.4L1423.2 784.8L1419.7 784.3L1416.2 783.8L1412.6 783.3L1409.1 782.8L1405.5 782.3L1402 781.9L1398.4 781.5L1394.9 781.1L1391.3 780.7L1387.8 780.4L1384.2 780L1380.7 779.7L1377.2 779.4L1373.6 779.2L1370.1 778.9L1366.5 778.7L1363 778.5L1359.4 778.3L1355.9 778.1L1352.3 778L1348.8 777.8L1345.3 777.7L1341.7 777.7L1338.2 777.6L1334.6 777.5L1331.1 777.5L1327.5 777.5L1324 777.5L1320.5 777.6L1316.9 777.6L1313.4 777.7L1309.8 777.8L1306.3 778L1302.8 778.1L1299.2 778.3L1295.7 778.4L1292.2 778.7L1288.6 778.9L1285.1 779.1L1281.6 779.4L1278 779.7L1274.5 780L1271 780.3L1267.5 780.7L1263.9 781L1260.4 781.4L1256.9 781.8L1253.3 782.3L1249.8 782.7L1246.3 783.2L1242.8 783.7L1239.3 784.2L1235.7 784.7L1232.2 785.3L1228.7 785.9L1225.2 786.5L1221.7 787.1L1218.2 787.7L1214.7 788.4L1211.2 789.1L1207.6 789.7L1204.1 790.5L1200.6 791.2L1197.1 792L1193.6 792.7L1190.1 793.5L1186.6 794.4L1183.1 795.2L1179.6 796.1L1176.1 796.9L1172.6 797.8L1169.2 798.8L1165.7 799.7L1162.2 800.7L1158.7 801.6L1155.2 802.6L1151.7 803.7L1148.2 804.7L1144.8 805.8L1141.3 806.9L1137.8 808L1134.3 809.1L1130.9 810.2L1127.4 811.4L1123.9 812.6L1120.5 813.8L1117 815L1113.5 816.2L1110.1 817.5L1107 818.6L1103.9 819.8L1100.7 821L1097.5 822.3L1094.3 823.6L1091.1 825L1087.9 826.3L1084.7 827.7L1081.5 829.2L1078.2 830.6L1075 832.1L1071.8 833.7L1068.5 835.2L1065.3 836.9L1062 838.5L1058.8 840.2L1055.5 841.9L1052.3 843.6L1049 845.4L1045.7 847.2L1042.4 849.1L1039.2 850.9L1035.9 852.9L1032.6 854.8L1029.3 856.8L1026 858.8L1022.7 860.9L1019.3 863L1016 865.1L1012.7 867.2L1009.4 869.4L1006.9 871.1L1004.4 872.8L1001.9 874.5L999.4 876.2L996.9 878L994.4 879.8L991.8 881.6L989.3 883.4L986.8 885.2L984.3 887L981.8 888.9L979.2 890.8Z" fill="#00dbff"/><path d="M1465.3 858.8L1431.7 850.8L1399.4 843.2L1369.1 836L1341 829.3L1315.4 823.3L1292.8 817.9L1286.5 816.4L1272.6 819.7L1246.4 826L1218.1 832.7L1188.2 839.8L1157 847.2L1125.1 854.8L1092.9 862.4L1061.1 869.9L1030.3 877.2L1001.1 884.2L983.6 891.7L1005.9 898.5L1031.1 906.1L1058.9 914.6L1089.1 923.8L1121.2 933.6L1154.8 943.8L1189.4 954.3L1224.4 965L1259.2 975.6L1285.9 983.7L1310 976.4L1339.6 967.4L1370.7 957.9L1402.7 948.2L1435 938.4L1467 928.7L1498.1 919.2L1527.8 910.2L1555.9 901.7L1581.8 893.8L1595.5 889.6L1569 883.4L1534.6 875.2L1499.8 867" fill="#00f4ff"/><path d="M1465.4 856.6L1432.1 848.7L1400.2 841.2L1370.2 834.1L1342.4 827.6L1317.1 821.6L1294.7 816.3L1286.5 814.4L1271.3 818L1245.4 824.1L1217.4 830.7L1187.8 837.7L1157 845L1125.4 852.5L1093.6 860L1062.2 867.4L1031.7 874.6L1002.9 881.4L985.3 889.9L1007.4 896.6L1032.3 904.2L1059.9 912.6L1089.7 921.6L1121.5 931.3L1154.7 941.3L1188.9 951.7L1223.5 962.2L1257.9 972.6L1285.9 981.2L1312 973.3L1341.2 964.4L1371.9 955.1L1403.6 945.5L1435.5 935.9L1467.1 926.3L1497.8 917L1527.3 908L1555 899.6L1580.6 891.9L1595.6 887.3L1567.9 880.8L1533.9 872.8L1499.5 864.6" fill="#00fff9"/><path d="M1465.5 854.4L1432.6 846.7L1401.1 839.2L1371.3 832.3L1343.8 825.8L1318.8 819.9L1296.6 814.7L1286.5 812.3L1270 816.2L1244.3 822.2L1216.7 828.8L1187.4 835.7L1156.9 842.8L1125.7 850.2L1094.3 857.6L1063.2 864.9L1033.2 872L1004.7 878.7L988.4 887.9L1008.9 894.8L1033.6 902.3L1060.9 910.5L1090.4 919.5L1121.8 929L1154.6 938.9L1188.4 949.1L1222.6 959.4L1256.6 969.7L1285.9 978.6L1287.3 978.2L1314 970.1L1342.8 961.4L1373.1 952.3L1404.4 942.8L1435.9 933.3L1467.1 923.9L1497.5 914.7L1526.7 905.9L1554.1 897.6L1579.5 890L1595.8 885L1566.8 878.2L1533.1 870.3L1499.2 862.3" fill="#00ffe9"/><path d="M1465.5 852.2L1433 844.6L1401.9 837.3L1372.5 830.4L1345.2 824L1320.5 818.2L1298.5 813.1L1286.5 810.2L1268.7 814.4L1243.3 820.4L1215.9 826.8L1187 833.6L1156.8 840.7L1126 847.9L1095 855.2L1064.3 862.4L1034.7 869.4L1006.6 876L992.5 885.6L1010.4 893L1034.9 900.4L1061.9 908.5L1091.1 917.3L1122.1 926.7L1154.6 936.4L1188 946.5L1221.7 956.7L1255.2 966.8L1285.9 976L1289.7 974.9L1316 967L1344.4 958.4L1374.4 949.4L1405.2 940.1L1436.4 930.8L1467.2 921.5L1497.3 912.4L1526.1 903.8L1553.2 895.6L1578.3 888L1595.9 882.7L1565.6 875.6L1532.4 867.9L1498.8 860" fill="#00ffd8"/><path d="M1465.6 850L1433.5 842.5L1402.7 835.3L1373.6 828.5L1346.7 822.2L1322.2 816.5L1300.5 811.4L1286.5 808.2L1267.3 812.7L1242.2 818.5L1215.2 824.9L1186.6 831.6L1156.8 838.5L1126.3 845.6L1095.7 852.8L1065.4 859.9L1036.1 866.8L1008.4 873.2L996.7 883.3L1012 891.2L1036.2 898.5L1062.9 906.5L1091.7 915.1L1122.4 924.3L1154.5 934L1187.5 943.9L1220.8 953.9L1253.9 963.8L1285.9 973.4L1292.1 971.6L1318 963.8L1346.1 955.4L1375.6 946.5L1406.1 937.4L1436.8 928.2L1467.3 919.1L1497 910.2L1525.5 901.6L1552.3 893.6L1577.1 886.1L1596.1 880.5L1564.4 873.1L1531.6 865.4L1498.5 857.7" fill="#00ffc8"/><path d="M1465.7 847.8L1434 840.4L1403.5 833.3L1374.8 826.6L1348.2 820.4L1324 814.8L1302.5 809.8L1286.5 806.1L1265.9 810.9L1241.1 816.7L1214.4 822.9L1186.1 829.5L1156.7 836.4L1126.6 843.4L1096.4 850.4L1066.5 857.4L1037.7 864.1L1010.3 870.5L1000.9 881.1L1013.6 889.4L1037.5 896.5L1063.9 904.4L1092.4 913L1122.7 922L1154.4 931.5L1187 941.3L1219.9 951.1L1252.5 960.9L1284.3 970.4L1285.9 970.9L1294.5 968.3L1320.1 960.7L1347.8 952.4L1376.9 943.7L1407 934.7L1437.3 925.6L1467.4 916.6L1496.7 907.9L1524.8 899.5L1551.3 891.6L1575.9 884.2L1596.2 878.2L1594.6 877.8L1563.2 870.5L1530.9 863L1498.2 855.3" fill="#00ffb8"/><path d="M1465.8 845.6L1434.5 838.3L1404.4 831.3L1376 824.8L1349.7 818.7L1325.8 813.1L1304.6 808.2L1286.5 804L1264.5 809.1L1240 814.8L1213.6 821L1185.7 827.4L1156.7 834.2L1127 841.1L1097.1 848L1067.7 854.9L1039.2 861.5L1012.2 867.7L1005.2 878.8L1015.2 887.6L1038.9 894.6L1064.9 902.4L1093.1 910.8L1123.1 919.7L1154.4 929.1L1186.5 938.7L1219 948.3L1251.2 957.9L1282.5 967.3L1285.9 968.3L1297 965L1322.2 957.5L1349.4 949.4L1378.2 940.8L1407.8 932L1437.8 923.1L1467.5 914.2L1496.4 905.6L1524.2 897.3L1550.4 889.5L1574.6 882.3L1596.3 875.9L1592.9 875.1L1562 867.9L1530.1 860.5L1497.8 853" fill="#00ffa7"/><path d="M1465.8 843.4L1434.9 836.2L1405.3 829.4L1377.2 822.9L1351.2 816.9L1327.6 811.4L1306.6 806.6L1287.1 802.7L1263.1 807.4L1238.9 813L1212.8 819L1185.3 825.4L1156.6 832L1127.3 838.8L1097.9 845.6L1068.8 852.3L1040.7 858.8L1016.2 865.6L1009.5 876.5L1016.9 885.8L1040.2 892.7L1066 900.4L1093.8 908.6L1123.4 917.4L1154.3 926.6L1186 936L1218 945.5L1249.8 955L1280.6 964.1L1285.9 965.7L1299.5 961.7L1324.3 954.3L1351.2 946.4L1379.5 937.9L1408.7 929.3L1438.3 920.5L1467.6 911.8L1496.2 903.3L1523.6 895.2L1549.4 887.5L1573.4 880.4L1595.1 873.9L1596.5 873.5L1591.3 872.3L1560.8 865.3L1529.3 858L1497.5 850.7" fill="#00ff97"/><path d="M1465.9 841.2L1435.4 834.1L1406.1 827.4L1378.5 821L1352.8 815.1L1329.5 809.8L1308.7 805L1287.7 801.6L1261.7 805.6L1237.8 811.1L1212 817L1184.8 823.3L1156.5 829.8L1127.7 836.5L1098.6 843.2L1070 849.8L1042.3 856.2L1020.4 863.4L1014 874.2L1018.6 884L1041.6 890.8L1067.1 898.3L1094.6 906.5L1123.8 915.1L1154.2 924.1L1185.5 933.4L1217.1 942.8L1248.4 952L1278.8 961L1285.9 963.1L1302 958.4L1326.4 951.2L1352.9 943.3L1380.8 935.1L1409.6 926.5L1438.8 917.9L1467.7 909.4L1495.9 901L1522.9 893L1548.4 885.5L1572.1 878.5L1593.6 872.1L1596.6 871.2L1589.6 869.6L1559.5 862.7L1528.5 855.6L1497.1 848.3" fill="#00ff86"/><path d="M1466 838.9L1435.9 832.1L1407 825.4L1379.7 819.2L1354.4 813.4L1331.3 808.1L1310.9 803.4L1288.4 800.4L1260.2 803.8L1236.6 809.3L1211.2 815.1L1184.4 821.3L1156.5 827.7L1128 834.2L1099.4 840.8L1071.2 847.3L1043.9 853.5L1024.7 861.3L1018.5 871.9L1020.3 882.2L1043.1 888.9L1068.2 896.3L1095.3 904.3L1124.1 912.8L1154.2 921.7L1185 930.8L1216.1 940L1246.9 949L1276.9 957.9L1285.9 960.5L1304.5 955.1L1328.6 948L1354.7 940.3L1382.2 932.2L1410.6 923.8L1439.2 915.4L1467.7 907L1495.6 898.8L1522.3 890.9L1547.4 883.5L1570.8 876.6L1592 870.3L1596.8 868.9L1587.8 866.9L1558.3 860.1L1527.7 853.1L1496.8 846" fill="#00ff76"/><path d="M1466.1 836.7L1436.4 830L1407.9 823.4L1381 817.3L1356 811.6L1333.3 806.4L1313 801.8L1289 799.3L1258.7 802.1L1235.4 807.4L1210.4 813.1L1183.9 819.2L1156.4 825.5L1128.4 831.9L1100.2 838.4L1072.4 844.7L1045.6 850.9L1029.1 859.2L1023 869.6L1022.1 880.4L1044.5 887L1069.3 894.3L1096.1 902.1L1124.5 910.5L1154.1 919.2L1184.5 928.1L1215.1 937.2L1245.5 946.1L1274.9 954.7L1286 957.9L1307.1 951.7L1330.8 944.8L1356.5 937.2L1383.5 929.3L1411.5 921.1L1439.7 912.8L1467.8 904.5L1495.2 896.5L1521.6 888.8L1546.4 881.5L1569.5 874.7L1590.4 868.5L1596.9 866.6L1586.1 864.2L1557 857.5L1526.9 850.6L1496.4 843.7" fill="#00ff65"/><path d="M1466.2 834.5L1436.9 827.9L1408.9 821.5L1382.3 815.4L1357.6 809.8L1335.2 804.7L1315.3 800.2L1289.6 798.2L1257.2 800.3L1234.2 805.5L1209.5 811.2L1183.5 817.1L1156.4 823.3L1128.7 829.6L1101 836L1073.6 842.2L1047.2 848.2L1033.6 857.1L1027.7 867.3L1026.9 877.9L1046 885.1L1070.4 892.2L1096.8 900L1124.8 908.2L1154 916.7L1184 925.5L1214.1 934.3L1244 943.1L1273 951.6L1289 954.5L1309.8 948.4L1333 941.6L1358.3 934.2L1384.9 926.4L1412.4 918.3L1440.3 910.2L1467.9 902.1L1494.9 894.2L1520.9 886.6L1545.4 879.4L1568.1 872.8L1588.8 866.7L1597 864.3L1584.3 861.4L1555.6 854.9L1526 848.1L1496 841.3" fill="#00ff55"/><path d="M1466.2 832.3L1437.5 825.8L1409.8 819.5L1383.6 813.6L1359.3 808L1337.2 803L1317.5 798.6L1290.3 797.1L1255.6 798.5L1233 803.7L1208.7 809.2L1183 815.1L1156.3 821.1L1129.1 827.3L1101.8 833.5L1074.9 839.6L1048.9 845.6L1038.2 855L1032.4 865L1031.7 875.4L1047.5 883.2L1071.6 890.2L1097.6 897.8L1125.2 905.9L1154 914.3L1183.4 922.9L1213.1 931.5L1242.5 940.1L1271 948.4L1292 951L1312.4 945L1335.3 938.4L1360.1 931.1L1386.3 923.5L1413.4 915.6L1440.8 907.6L1468 899.7L1494.6 891.9L1520.2 884.5L1544.3 877.4L1566.7 870.9L1587.1 864.9L1597.2 862L1582.5 858.7L1554.3 852.3L1525.2 845.7L1495.6 839" fill="#00ff44"/><path d="M1466.3 830.1L1438 823.7L1410.7 817.5L1385 811.7L1361 806.3L1339.2 801.4L1319.8 797L1290.9 796L1256.7 797.4L1231.8 801.8L1207.8 807.3L1182.5 813L1156.3 818.9L1129.5 825L1102.6 831.1L1076.1 837.1L1053.1 843.6L1042.8 852.9L1037.2 862.7L1036.6 872.9L1049 881.3L1072.8 888.2L1098.4 895.6L1125.6 903.5L1153.9 911.8L1182.9 920.2L1212.1 928.7L1241 937.1L1269 945.3L1295.1 947.5L1315.1 941.7L1337.6 935.2L1362 928.1L1387.7 920.6L1414.3 912.9L1441.3 905L1468.1 897.2L1494.3 889.6L1519.5 882.3L1543.2 875.4L1565.3 869L1585.4 863.2L1597.3 859.7L1580.7 855.9L1553 849.7L1524.3 843.2L1495.2 836.6" fill="#00ff34"/><path d="M1466.4 827.9L1438.5 821.6L1411.7 815.5L1386.3 809.8L1362.7 804.5L1341.3 799.7L1322.1 795.4L1291.6 794.9L1257.8 796.3L1230.5 800L1206.9 805.3L1182 810.9L1156.2 816.8L1129.8 822.7L1103.4 828.7L1077.4 834.5L1057.6 841.7L1047.6 850.8L1042.1 860.4L1041.5 870.4L1050.6 879.4L1074 886.2L1099.2 893.5L1126 901.2L1153.8 909.3L1182.3 917.6L1211.1 925.9L1239.4 934.1L1267 942.1L1298.2 944L1317.9 938.3L1340 931.9L1363.9 925L1389.2 917.7L1415.3 910.1L1441.8 902.4L1468.2 894.8L1493.9 887.3L1518.7 880.2L1542.1 873.4L1563.9 867.1L1583.7 861.4L1597.5 857.4L1578.8 853.2L1551.6 847L1523.4 840.7L1494.8 834.3" fill="#00ff23"/><path d="M1466.5 825.6L1439.1 819.5L1412.7 813.6L1387.7 808L1364.5 802.8L1343.4 798L1324.5 793.8L1292.3 793.8L1259.1 795.2L1229.2 798.1L1206 803.4L1181.5 808.9L1156.1 814.6L1130.2 820.4L1104.3 826.2L1078.7 832L1062.2 839.7L1052.4 848.7L1047.1 858.1L1046.6 867.8L1052.2 877.5L1075.2 884.1L1100.1 891.3L1126.4 898.9L1153.7 906.8L1181.8 914.9L1210 923.1L1237.9 931.1L1264.9 938.9L1301.4 940.5L1320.7 934.9L1342.3 928.7L1365.8 921.9L1390.7 914.8L1416.3 907.3L1442.4 899.8L1468.3 892.4L1493.6 885.1L1518 878L1541 871.4L1562.4 865.2L1581.9 859.6L1597.6 855L1576.9 850.4L1550.2 844.4L1522.5 838.2L1494.4 831.9" fill="#00ff13"/><path d="M1466.5 823.4L1439.6 817.4L1413.7 811.6L1389.1 806.1L1366.3 801L1345.5 796.4L1326.3 792.4L1293 792.7L1260.3 794.1L1228.5 796.4L1205.1 801.4L1181 806.8L1156.1 812.4L1130.6 818.1L1105.2 823.8L1080.7 829.6L1066.9 837.8L1057.3 846.6L1052.2 855.8L1051.8 865.3L1056.4 875L1076.5 882.1L1100.9 889.2L1126.8 896.6L1153.7 904.3L1181.2 912.3L1208.9 920.2L1236.3 928.1L1265.4 935L1304.6 937L1323.5 931.6L1344.7 925.5L1367.8 918.8L1392.2 911.8L1417.4 904.6L1442.9 897.2L1468.4 889.9L1493.2 882.8L1517.2 875.9L1539.9 869.4L1560.9 863.3L1580.1 857.8L1597.1 852.9L1597.8 852.7L1574.9 847.6L1548.7 841.8L1521.6 835.7L1494 829.5" fill="#00ff02"/><path d="M1466.6 821.2L1440.2 815.3L1414.7 809.6L1390.6 804.3L1368.1 799.3L1347.7 794.7L1326.5 791.3L1293.8 791.7L1261.6 793L1230.3 795.3L1204.2 799.5L1180.5 804.7L1156 810.2L1131 815.8L1106 821.4L1085.1 827.8L1071.7 835.9L1062.3 844.5L1057.3 853.5L1057.1 862.8L1061.7 872.3L1077.8 880.1L1101.8 887L1127.2 894.3L1153.6 901.8L1180.6 909.6L1207.8 917.4L1234.7 925.1L1266.8 930.8L1307.2 933.3L1326.4 928.2L1347.2 922.2L1369.8 915.7L1393.7 908.9L1418.4 901.8L1443.5 894.6L1468.4 887.5L1492.9 880.5L1516.4 873.7L1538.7 867.4L1559.4 861.4L1578.2 856L1595 851.2L1597.2 850.3L1573 844.9L1547.3 839.1L1520.6 833.2L1493.6 827.2" fill="#0eff00"/><path d="M1466.7 818.9L1440.8 813.2L1415.8 807.7L1392.1 802.4L1370 797.5L1349.9 793.1L1326.7 790.3L1294.5 790.7L1262.9 792L1232.2 794.2L1203.2 797.5L1180 802.7L1156 808L1131.5 813.5L1106.9 818.9L1089.7 826.1L1076.6 834L1067.4 842.4L1062.6 851.2L1062.4 860.3L1067 869.5L1079.1 878.1L1102.7 884.8L1127.6 892L1153.5 899.4L1180 906.9L1206.7 914.5L1233 922.1L1268.3 926.6L1307.9 929L1329.4 924.8L1349.7 918.9L1371.8 912.6L1395.2 906L1419.5 899L1444 892L1468.5 885L1492.5 878.2L1515.6 871.6L1537.5 865.4L1557.8 859.6L1576.3 854.3L1592.8 849.6L1594.7 847.3L1570.9 842.1L1545.8 836.5L1519.7 830.7L1493.1 824.8" fill="#1eff00"/><path d="M1466.8 816.7L1441.3 811.1L1416.8 805.7L1393.6 800.5L1371.9 795.8L1352.2 791.4L1326.9 789.3L1295.3 789.6L1264.2 790.9L1234 793.1L1205.2 796.3L1179.5 800.6L1155.9 805.8L1131.9 811.1L1110.8 817.2L1094.4 824.3L1081.6 832L1072.7 840.3L1068 848.9L1067.9 857.8L1072.5 866.8L1081.9 875.7L1103.6 882.7L1128 889.6L1153.5 896.9L1179.4 904.3L1205.6 911.7L1232.8 918.6L1269.8 922.3L1308.5 924.7L1332.4 921.3L1352.3 915.7L1373.9 909.5L1396.8 903L1420.5 896.3L1444.6 889.4L1468.6 882.6L1492.1 875.9L1514.8 869.5L1536.2 863.4L1556.2 857.7L1574.4 852.5L1590.6 847.9L1592.1 844.4L1568.9 839.3L1544.2 833.8L1518.7 828.2L1492.7 822.4" fill="#2fff00"/><path d="M1466.9 814.5L1441.9 809L1417.9 803.7L1395.1 798.7L1373.9 794L1354.5 789.8L1327.1 788.3L1296 788.6L1265.6 789.9L1236 792.1L1207.7 795.1L1181.1 799L1156.6 803.8L1134.5 809.3L1115.3 815.6L1099.2 822.6L1086.7 830.1L1078 838.2L1073.6 846.6L1073.5 855.2L1078.1 864L1087.4 872.8L1104.5 880.5L1128.5 887.3L1153.4 894.4L1178.8 901.6L1204.4 908.8L1235.1 914.5L1271.4 918.1L1309.2 920.3L1335.4 917.9L1354.9 912.4L1376 906.4L1398.4 900.1L1421.6 893.5L1445.2 886.8L1468.7 880.1L1491.7 873.6L1513.9 867.3L1535 861.4L1554.5 855.8L1572.4 850.8L1588.3 846.3L1589.5 841.5L1566.8 836.5L1542.7 831.2L1517.7 825.7L1492.2 820.1" fill="#3fff00"/><path d="M1466.9 812.2L1442.6 806.9L1419 801.7L1396.7 796.9L1375.9 792.3L1356.9 788.1L1327.3 787.3L1296.9 787.7L1267 788.9L1238 791L1210.3 794L1184.2 797.8L1160.2 802.5L1138.6 807.9L1119.8 814.1L1104.1 820.9L1091.9 828.2L1083.5 836L1079.2 844.3L1079.3 852.7L1083.8 861.3L1093 869.8L1106.7 878.1L1129 885L1153.3 891.9L1178.2 898.9L1204.5 905.6L1237.6 910.3L1273 913.8L1309.9 916L1338.5 914.5L1357.5 909.1L1378.2 903.3L1400.1 897.1L1422.7 890.7L1445.8 884.2L1468.8 877.7L1491.3 871.3L1513.1 865.2L1533.7 859.4L1552.8 854L1570.3 849L1585.9 844.6L1586.8 838.5L1564.6 833.7L1541.1 828.5L1516.6 823.1L1491.8 817.7" fill="#50ff00"/><path d="M1467 810L1443.2 804.8L1420.2 799.8L1398.3 795L1378 790.6L1357.5 787L1327.5 786.4L1297.7 786.7L1268.4 787.9L1240 790L1212.9 792.9L1187.4 796.7L1163.9 801.2L1142.8 806.5L1124.5 812.5L1109.2 819.1L1097.3 826.3L1089.2 833.9L1085 841.9L1085.2 850.2L1089.7 858.5L1098.7 866.8L1112.2 874.8L1130.1 882.5L1153.3 889.4L1178.3 896L1207.7 901.6L1240 906.1L1274.6 909.5L1310.5 911.6L1341.7 911L1360.2 905.8L1380.4 900.1L1401.7 894.1L1423.9 887.9L1446.4 881.6L1468.9 875.2L1490.9 869L1512.2 863.1L1532.3 857.4L1551.1 852.1L1568.2 847.3L1583.5 843L1582.2 836.1L1562.4 830.8L1539.4 825.8L1515.6 820.6L1491.3 815.3" fill="#60ff00"/><path d="M1467.1 807.8L1443.8 802.7L1421.3 797.8L1400 793.2L1380.1 788.8L1357 786L1327.7 785.5L1298.5 785.8L1269.9 787L1242.1 789L1215.6 791.8L1190.7 795.5L1167.8 799.9L1147.2 805.1L1129.2 811L1114.4 817.4L1102.8 824.4L1094.9 831.8L1091 839.6L1091.2 847.6L1095.7 855.7L1104.5 863.7L1117.8 871.6L1135.3 879L1157 885.9L1182.4 892.1L1211.1 897.5L1242.6 901.9L1276.2 905.1L1311.2 907.2L1345 907.5L1363 902.5L1382.6 897L1403.5 891.1L1425.1 885.1L1447 878.9L1469 872.8L1490.5 866.7L1511.3 860.9L1531 855.4L1549.3 850.3L1566.1 845.6L1581 841.4L1576.5 833.9L1560.2 828L1537.8 823.1L1514.5 818.1L1490.8 812.9" fill="#71ff00"/><path d="M1467.2 805.5L1444.5 800.6L1422.5 795.9L1401.7 791.3L1382.3 787.1L1356.6 785.1L1327.9 784.6L1299.4 784.9L1271.4 786L1244.3 788L1218.4 790.8L1194.1 794.4L1171.7 798.7L1151.6 803.7L1134.2 809.4L1119.7 815.7L1108.5 822.5L1100.9 829.7L1097.1 837.3L1097.4 845.1L1101.8 852.9L1110.5 860.7L1123.5 868.3L1140.7 875.5L1161.8 882.2L1186.5 888.2L1214.5 893.4L1245.1 897.6L1277.9 900.8L1312 902.8L1346.7 903.6L1365.8 899.1L1385 893.8L1405.2 888.1L1426.3 882.3L1447.7 876.3L1469.1 870.3L1490 864.5L1510.3 858.8L1529.6 853.4L1547.5 848.4L1563.8 843.9L1576.8 839.4L1570.6 831.8L1557.9 825.2L1536 820.4L1513.4 815.5L1490.3 810.5" fill="#81ff00"/><path d="M1467.2 803.3L1445.1 798.5L1423.8 793.9L1403.4 789.5L1383.9 785.6L1356.1 784.2L1328.1 783.7L1300.3 784L1273 785.1L1246.5 787.1L1221.3 789.8L1197.6 793.3L1175.8 797.5L1156.2 802.4L1139.2 807.9L1125.2 814L1114.3 820.6L1107 827.6L1103.4 835L1103.7 842.5L1108.1 850.1L1116.7 857.7L1129.4 865L1146.1 872L1166.7 878.5L1190.8 884.3L1218 889.3L1247.8 893.3L1279.6 896.4L1312.7 898.3L1346.4 899.1L1368.8 895.8L1387.3 890.6L1407 885.1L1427.5 879.4L1448.3 873.6L1469.1 867.9L1489.6 862.2L1509.3 856.7L1528.1 851.5L1545.6 846.6L1561.5 842.2L1570.5 837L1564.5 829.6L1554.9 822.5L1534.3 817.7L1512.2 813L1489.7 808.1" fill="#92ff00"/><path d="M1467.3 801L1445.8 796.4L1425 791.9L1405.2 787.7L1382.7 784.7L1355.6 783.4L1328.4 782.9L1301.3 783.2L1274.6 784.3L1248.8 786.1L1224.2 788.8L1201.2 792.2L1180 796.3L1160.9 801L1144.5 806.4L1130.8 812.3L1120.4 818.7L1113.3 825.5L1109.8 832.7L1110.2 840L1114.6 847.3L1123 854.6L1135.4 861.7L1151.7 868.4L1171.7 874.7L1195.1 880.3L1221.6 885.1L1250.5 889L1281.3 892L1313.4 893.8L1346.1 894.6L1371.7 892.4L1389.8 887.4L1408.9 882.1L1428.8 876.6L1449 871L1469.2 865.4L1489.1 859.9L1508.3 854.6L1526.6 849.5L1543.6 844.8L1559.2 840.5L1564 834.6L1558.3 827.5L1548.9 820.6L1532.4 815L1511 810.4L1489.2 805.7" fill="#a2ff00"/><path d="M1467.4 798.8L1446.5 794.3L1426.3 790L1407.1 785.9L1381.4 783.8L1355.1 782.6L1328.6 782.1L1302.2 782.4L1276.3 783.4L1251.2 785.3L1227.3 787.8L1204.9 791.1L1184.3 795.1L1165.9 799.7L1149.9 804.9L1136.7 810.7L1126.6 816.9L1119.8 823.5L1116.5 830.3L1117 837.4L1121.3 844.5L1129.5 851.5L1141.6 858.4L1157.5 864.9L1176.9 870.9L1199.6 876.3L1225.2 880.9L1253.3 884.7L1283.1 887.5L1314.2 889.3L1345.8 890L1374.8 889L1392.3 884.2L1410.8 879.1L1430.1 873.8L1449.7 868.3L1469.3 862.9L1488.6 857.6L1507.3 852.4L1525 847.5L1541.6 843L1556.7 838.8L1557.3 832.3L1551.8 825.3L1542.8 818.6L1530.6 812.3L1509.8 807.9L1488.6 803.3" fill="#b3ff00"/><path d="M1467.5 796.5L1447.2 792.2L1427.7 788L1405.2 785L1380.1 783L1354.6 781.8L1328.8 781.3L1303.2 781.6L1278.1 782.6L1253.7 784.4L1230.5 786.9L1208.8 790.1L1188.8 793.9L1170.9 798.4L1155.5 803.4L1142.8 809L1133 815L1126.5 821.4L1123.4 828L1123.9 834.8L1128.2 841.7L1136.2 848.4L1148 855L1163.4 861.3L1182.2 867.1L1204.2 872.2L1229 876.7L1256.1 880.3L1285 883L1315 884.8L1345.5 885.4L1375.9 885.1L1394.8 881L1412.8 876L1431.4 870.9L1450.4 865.7L1469.4 860.5L1488.1 855.3L1506.2 850.3L1523.4 845.6L1539.5 841.2L1552.1 836.7L1550.4 829.9L1545.2 823.2L1536.5 816.7L1524.8 810.6L1508.5 805.3L1488 800.9" fill="#c3ff00"/><path d="M1467.6 794.3L1448 790.1L1426.4 786.7L1403 784.2L1378.8 782.3L1354.1 781.1L1329.1 780.6L1304.3 780.9L1279.9 781.9L1256.3 783.6L1233.8 786L1212.8 789.1L1193.5 792.8L1176.2 797.1L1161.3 802L1149.1 807.4L1139.7 813.1L1133.4 819.3L1130.5 825.7L1131.1 832.2L1135.3 838.8L1143.1 845.3L1154.6 851.7L1169.5 857.7L1187.7 863.2L1209 868.2L1232.9 872.4L1259 875.9L1286.9 878.5L1315.8 880.1L1345.2 880.8L1374.5 880.4L1397.5 877.7L1414.8 873L1432.8 868L1451.1 863L1469.5 858L1487.6 853L1505.1 848.2L1521.7 843.7L1537.3 839.4L1544.8 834L1543.3 827.5L1538.3 821L1530 814.8L1518.7 808.9L1504.5 803.4L1487.4 798.5" fill="#d3ff00"/><path d="M1464.7 792.8L1444.8 789L1423.4 785.9L1400.8 783.4L1377.4 781.5L1353.5 780.4L1329.4 780L1305.4 780.2L1281.8 781.2L1259 782.8L1237.3 785.1L1217 788.1L1198.4 791.7L1181.7 795.9L1167.4 800.6L1155.6 805.7L1146.6 811.3L1140.7 817.2L1137.9 823.3L1138.6 829.6L1142.7 836L1150.3 842.2L1161.4 848.3L1175.8 854L1193.4 859.3L1213.9 864L1236.9 868.1L1262.1 871.4L1288.8 873.9L1316.6 875.5L1344.9 876.1L1373 875.8L1400.3 874.4L1416.9 869.9L1434.2 865.2L1451.9 860.3L1469.6 855.5L1487 850.7L1503.9 846.1L1520 841.8L1535 837.7L1537.2 831.4L1535.9 825.1L1531.1 818.9L1523.2 812.9L1512.3 807.2L1498.8 801.9L1482.8 797.1" fill="#e4ff00"/><path d="M1460 791.7L1440.8 788.1L1420.2 785L1398.5 782.6L1376 780.9L1352.9 779.8L1329.6 779.4L1306.5 779.6L1283.8 780.5L1261.8 782.1L1240.9 784.3L1221.4 787.2L1203.5 790.6L1187.5 794.7L1173.7 799.2L1162.4 804.1L1153.8 809.5L1148.2 815.1L1145.6 821L1146.3 827L1150.4 833.1L1157.7 839.1L1168.4 844.8L1182.4 850.3L1199.3 855.4L1219 859.9L1241.1 863.8L1265.2 866.9L1290.8 869.3L1317.5 870.8L1344.6 871.4L1371.5 871L1397.8 869.8L1419.1 866.8L1435.7 862.3L1452.7 857.7L1469.7 853L1486.4 848.5L1502.7 844.1L1518.2 839.8L1527.3 834.7L1529.4 828.7L1528.1 822.6L1523.6 816.7L1516.1 811L1505.7 805.5L1492.7 800.5L1477.4 795.8" fill="#f4ff00"/><path d="M1455.1 790.6L1436.7 787.2L1417 784.3L1396.1 782L1374.4 780.3L1352.3 779.2L1329.9 778.8L1307.7 779.1L1285.9 779.9L1264.8 781.5L1244.7 783.6L1226 786.3L1208.8 789.6L1193.5 793.5L1180.3 797.8L1169.6 802.5L1161.4 807.7L1156.1 813.1L1153.7 818.7L1154.4 824.4L1158.4 830.2L1165.5 835.9L1175.8 841.4L1189.2 846.6L1205.4 851.4L1224.2 855.7L1245.4 859.4L1268.4 862.4L1292.9 864.6L1318.4 866L1344.2 866.6L1369.9 866.2L1395 865.1L1418.9 863.1L1437.2 859.4L1453.5 855L1469.8 850.5L1485.8 846.2L1501.4 842L1513.8 837.4L1519.1 831.8L1521.2 826L1520.1 820.2L1515.8 814.6L1508.7 809.1L1498.8 803.9L1486.4 799L1471.7 794.6" fill="#fff900"/><path d="M1449.9 789.6L1432.3 786.3L1413.5 783.6L1393.5 781.4L1372.8 779.7L1351.6 778.7L1330.2 778.3L1309 778.6L1288.1 779.4L1267.9 780.9L1248.7 782.9L1230.8 785.5L1214.4 788.7L1199.8 792.4L1187.3 796.5L1177.1 801L1169.3 805.9L1164.3 811L1162.1 816.4L1162.9 821.8L1166.7 827.3L1173.6 832.7L1183.5 837.9L1196.3 842.8L1211.8 847.3L1229.7 851.4L1249.9 854.9L1271.8 857.7L1295.1 859.8L1319.3 861.1L1343.9 861.7L1368.3 861.4L1392.1 860.3L1414.8 858.4L1435.9 855.7L1454.3 852.3L1469.8 848.1L1485.2 843.9L1497.2 839.3L1505.4 834.1L1510.6 828.8L1512.6 823.3L1511.6 817.8L1507.7 812.4L1500.9 807.2L1491.5 802.3L1479.7 797.7L1465.7 793.4" fill="#ffe900"/><path d="M1444.4 788.7L1427.7 785.6L1409.8 782.9L1390.8 780.8L1371.1 779.3L1350.9 778.3L1330.6 778L1310.3 778.2L1290.4 779L1271.2 780.4L1253 782.3L1235.9 784.8L1220.4 787.8L1206.5 791.3L1194.7 795.2L1185 799.5L1177.7 804.1L1173 809L1171 814L1171.8 819.2L1175.5 824.3L1182.1 829.4L1191.6 834.3L1203.7 839L1218.4 843.2L1235.5 847.1L1254.6 850.3L1275.3 853L1297.4 855L1320.3 856.2L1343.5 856.7L1366.6 856.4L1389.1 855.4L1410.6 853.6L1430.6 851.1L1448.7 848L1464.6 844.3L1478 840.2L1488.7 835.6L1496.6 830.8L1501.6 825.7L1503.6 820.6L1502.7 815.4L1499 810.3L1492.7 805.4L1483.8 800.7L1472.7 796.3L1459.4 792.3" fill="#ffd800"/><path d="M1438.5 787.8L1422.8 784.9L1405.9 782.4L1387.9 780.4L1369.3 779L1350.2 778L1330.9 777.7L1311.7 777.9L1292.9 778.7L1274.8 780L1257.5 781.8L1241.4 784.2L1226.7 787L1213.6 790.3L1202.5 794L1193.4 798L1186.6 802.4L1182.2 806.9L1180.4 811.7L1181.3 816.5L1184.8 821.4L1191.1 826.1L1200.1 830.7L1211.6 835.1L1225.5 839.1L1241.6 842.6L1259.5 845.7L1279.1 848.2L1299.8 850L1321.3 851.2L1343.1 851.6L1364.8 851.4L1386 850.4L1406.2 848.7L1425 846.4L1442 843.5L1457 840.1L1469.7 836.2L1479.8 832L1487.3 827.4L1492.1 822.7L1494 817.8L1493.3 813L1489.9 808.2L1484 803.6L1475.7 799.1L1465.2 795L1452.7 791.2" fill="#ffc800"/><path d="M1432.3 787.1L1417.6 784.3L1401.7 781.9L1384.8 780.1L1367.3 778.7L1349.4 777.9L1331.3 777.5L1313.3 777.7L1295.6 778.5L1278.5 779.7L1262.3 781.4L1247.2 783.6L1233.5 786.3L1221.3 789.3L1210.8 792.8L1202.4 796.6L1196.1 800.6L1192.1 804.9L1190.4 809.4L1191.3 813.9L1194.7 818.4L1200.7 822.8L1209.1 827.1L1219.9 831.1L1232.9 834.8L1248 838.1L1264.7 840.9L1283 843.2L1302.3 844.9L1322.3 846L1342.7 846.4L1362.9 846.2L1382.6 845.3L1401.5 843.7L1419 841.6L1434.9 838.9L1449 835.7L1460.8 832.1L1470.4 828.2L1477.4 824L1481.9 819.6L1483.9 815.1L1483.3 810.6L1480.2 806.1L1474.7 801.8L1467 797.6L1457.2 793.8L1445.6 790.2" fill="#ffb700"/><path d="M1425.5 786.4L1411.9 783.8L1397.1 781.6L1381.5 779.9L1365.2 778.7L1348.5 777.9L1331.7 777.6L1314.9 777.7L1298.5 778.4L1282.6 779.5L1267.6 781.1L1253.6 783.2L1240.8 785.7L1229.5 788.5L1219.9 791.7L1212.1 795.2L1206.3 799L1202.6 802.9L1201.2 807L1202.1 811.2L1205.3 815.3L1210.9 819.4L1218.8 823.3L1228.8 827L1240.9 830.4L1254.8 833.4L1270.3 836L1287.2 838.1L1305 839.7L1323.5 840.7L1342.2 841L1360.9 840.8L1379.1 840L1396.5 838.6L1412.7 836.7L1427.4 834.2L1440.4 831.3L1451.4 828L1460.2 824.4L1466.8 820.5L1471.1 816.4L1472.9 812.3L1472.5 808.1L1469.7 804L1464.6 800L1457.6 796.2L1448.6 792.6L1437.8 789.3" fill="#ffa700"/><path d="M1418.1 785.9L1405.6 783.5L1392.1 781.5L1377.8 779.9L1362.8 778.8L1347.5 778L1332.1 777.8L1316.7 777.9L1301.7 778.5L1287.1 779.6L1273.3 781.1L1260.5 782.9L1248.9 785.2L1238.6 787.8L1229.8 790.7L1222.7 793.9L1217.5 797.4L1214.2 801L1213 804.7L1213.9 808.5L1216.9 812.2L1222 815.9L1229.3 819.5L1238.5 822.8L1249.5 825.9L1262.2 828.6L1276.4 831L1291.7 832.9L1307.9 834.3L1324.7 835.1L1341.7 835.5L1358.7 835.3L1375.2 834.6L1391 833.3L1405.8 831.5L1419.2 829.3L1431.1 826.7L1441.1 823.7L1449.3 820.4L1455.3 816.9L1459.3 813.2L1461.1 809.5L1460.7 805.7L1458.2 802L1453.7 798.3L1447.3 794.8L1439.1 791.6L1429.3 788.6" fill="#ff9600"/><path d="M1409.8 785.5L1398.6 783.4L1386.5 781.6L1373.6 780.2L1360.2 779.1L1346.5 778.5L1332.6 778.2L1318.8 778.4L1305.2 778.9L1292.2 779.9L1279.8 781.2L1268.3 782.9L1257.8 784.9L1248.6 787.3L1240.8 789.9L1234.5 792.8L1229.9 795.8L1227 799L1226 802.4L1226.9 805.7L1229.6 809.1L1234.3 812.4L1240.8 815.5L1249.1 818.5L1259 821.2L1270.3 823.6L1283 825.7L1296.6 827.3L1311.1 828.6L1326 829.4L1341.2 829.7L1356.3 829.5L1371 828.8L1385.1 827.7L1398.2 826.2L1410.2 824.2L1420.8 821.9L1429.9 819.2L1437.2 816.3L1442.7 813.2L1446.2 810L1447.9 806.6L1447.7 803.3L1445.5 799.9L1441.5 796.7L1435.9 793.6L1428.6 790.6L1419.8 787.9" fill="#ff8600"/><path d="M1400.3 785.4L1390.6 783.6L1380.1 782L1368.9 780.8L1357.2 779.9L1345.2 779.3L1333.1 779.1L1321.1 779.2L1309.3 779.7L1297.9 780.5L1287.2 781.7L1277.2 783.2L1268.1 784.9L1260.1 787L1253.4 789.2L1248 791.7L1244 794.4L1241.6 797.2L1240.8 800L1241.6 802.9L1244.1 805.8L1248.2 808.6L1253.9 811.4L1261.1 813.9L1269.7 816.2L1279.5 818.3L1290.4 820L1302.2 821.5L1314.7 822.5L1327.5 823.2L1340.6 823.4L1353.6 823.3L1366.3 822.7L1378.4 821.8L1389.8 820.5L1400.1 818.8L1409.3 816.8L1417.1 814.5L1423.5 812.1L1428.3 809.4L1431.5 806.6L1433 803.7L1432.8 800.8L1431.1 797.9L1427.7 795.1L1422.8 792.4L1416.5 789.9L1409 787.5" fill="#ff7500"/><path d="M1388.9 785.8L1381 784.3L1372.4 783L1363.2 782L1353.6 781.2L1343.7 780.7L1333.8 780.6L1323.9 780.7L1314.2 781.1L1304.8 781.7L1296 782.7L1287.8 783.9L1280.4 785.4L1273.9 787L1268.4 788.9L1264 790.9L1260.9 793.1L1259 795.4L1258.4 797.7L1259.1 800.1L1261.2 802.4L1264.6 804.7L1269.3 806.9L1275.2 808.9L1282.2 810.8L1290.3 812.5L1299.2 813.9L1308.7 815L1318.8 815.9L1329.3 816.4L1339.9 816.6L1350.4 816.5L1360.7 816.1L1370.6 815.3L1379.8 814.2L1388.2 812.9L1395.7 811.3L1402.1 809.5L1407.4 807.5L1411.3 805.3L1414 803L1415.3 800.7L1415.2 798.3L1413.9 796L1411.2 793.7L1407.3 791.5L1402.2 789.4L1396 787.5" fill="#ff6500"/><path d="M1373.9 787L1368.3 785.9L1362.2 785L1355.6 784.2L1348.8 783.7L1341.8 783.4L1334.7 783.2L1327.6 783.3L1320.7 783.6L1314 784.1L1307.7 784.7L1301.9 785.6L1296.6 786.6L1292.1 787.8L1288.2 789.2L1285.1 790.6L1282.9 792.2L1281.7 793.8L1281.3 795.4L1281.9 797.1L1283.4 798.7L1285.9 800.3L1289.3 801.9L1293.5 803.3L1298.5 804.6L1304.1 805.7L1310.4 806.7L1317.1 807.5L1324.2 808.1L1331.5 808.5L1339 808.6L1346.4 808.5L1353.6 808.2L1360.5 807.7L1367 807L1372.9 806L1378.2 804.9L1382.7 803.6L1386.5 802.2L1389.3 800.7L1391.3 799.2L1392.3 797.5L1392.3 795.9L1391.4 794.2L1389.5 792.6L1386.8 791L1383.3 789.5L1378.9 788.2" fill="#ff5500"/></g>
<g fill="none" stroke="#000" stroke-width="1" stroke-opacity="0.66" shape-rendering="crispEdges"><path d="M1285.9 951.5Q1242.2 923 1199.9 905.2Q1158.9 888.1 1119.6 881.2Q1081.7 874.5 1045.4 877.5Q1010.6 880.3 977.6 892.1"/><path d="M1285.9 951.5Q1329.8 914.6 1372.3 889.6Q1413.7 865.2 1453.5 852.3Q1492.1 839.7 1529 837.8Q1564.5 836.1 1598.3 844.3"/><path d="M1289.8 948.3Q1246 919.8 1203.7 902.2Q1162.8 885 1123.4 878.2Q1085.4 871.6 1049.2 874.6Q1014.3 877.5 981.2 889.3"/><path d="M1282.1 949Q1325.9 912.2 1368.5 887.2Q1409.8 863 1449.7 850Q1488.3 837.5 1525.2 835.7Q1560.8 833.9 1594.5 842.2"/><path d="M1293.6 945.1Q1249.9 916.7 1207.5 899.1Q1166.6 882.1 1127.2 875.3Q1089.2 868.8 1052.9 871.8Q1018 874.8 984.9 886.6"/><path d="M1278.2 946.6Q1322 909.8 1364.6 884.9Q1406 860.7 1445.9 847.8Q1484.5 835.3 1521.4 833.6Q1557 831.9 1590.8 840.2"/><path d="M1297.5 942Q1253.7 913.7 1211.4 896.1Q1170.4 879.2 1131 872.5Q1092.9 866 1056.6 869.1Q1021.6 872.1 988.5 884"/><path d="M1274.4 944.2Q1318.2 907.5 1360.8 882.7Q1402.2 858.5 1442.1 845.7Q1480.7 833.2 1517.6 831.5Q1553.2 829.9 1587.1 838.2"/><path d="M1301.3 938.9Q1257.5 910.7 1215.2 893.2Q1174.2 876.3 1134.7 869.6Q1096.7 863.2 1060.3 866.4Q1025.3 869.4 992.1 881.3"/><path d="M1270.6 941.8Q1314.4 905.2 1357 880.4Q1398.3 856.3 1438.2 843.6Q1476.9 831.2 1513.8 829.5Q1549.5 827.9 1583.4 836.2"/><path d="M1305.1 935.9Q1261.3 907.7 1219 890.3Q1177.9 873.5 1138.5 866.9Q1100.4 860.5 1064 863.7Q1029 866.8 995.8 878.8"/><path d="M1266.7 939.5Q1310.6 903 1353.1 878.3Q1394.5 854.2 1434.4 841.5Q1473.1 829.2 1510.1 827.5Q1545.8 825.9 1579.7 834.3"/><path d="M1308.9 932.9Q1265.2 904.8 1222.8 887.5Q1181.7 870.7 1142.3 864.2Q1104.1 857.8 1067.7 861.1Q1032.7 864.2 999.4 876.2"/><path d="M1262.9 937.2Q1306.7 900.8 1349.3 876.1Q1390.7 852.1 1430.6 839.5Q1469.3 827.2 1506.3 825.6Q1542 824 1576 832.4"/><path d="M1312.7 930Q1269 901.9 1226.6 884.7Q1185.5 868 1146 861.5Q1107.9 855.2 1071.4 858.5Q1036.3 861.7 1003 873.7"/><path d="M1259.1 935Q1302.9 898.6 1345.5 874Q1386.9 850.1 1426.9 837.5Q1465.5 825.2 1502.5 823.7Q1538.3 822.1 1572.3 830.6"/><path d="M1316.5 927.1Q1272.8 899.1 1230.3 881.9Q1189.3 865.3 1149.7 858.8Q1111.6 852.6 1075.1 856Q1040 859.2 1006.6 871.3"/><path d="M1255.4 932.8Q1299.1 896.5 1341.7 872Q1383.1 848.1 1423.1 835.5Q1461.8 823.3 1498.8 821.8Q1534.6 820.3 1568.6 828.8"/><path d="M1320.3 924.3Q1276.5 896.4 1234.1 879.2Q1193 862.6 1153.5 856.3Q1115.3 850.1 1078.8 853.5Q1043.6 856.8 1010.2 868.9"/><path d="M1251.6 930.7Q1295.4 894.5 1338 870Q1379.4 846.2 1419.3 833.6Q1458 821.5 1495.1 820Q1530.9 818.5 1564.9 827"/><path d="M1324.1 921.5Q1280.3 893.7 1237.9 876.6Q1196.8 860.1 1157.2 853.7Q1119 847.6 1082.5 851Q1047.3 854.3 1013.8 866.5"/><path d="M1247.8 928.6Q1291.6 892.4 1334.2 868Q1375.6 844.3 1415.5 831.8Q1454.2 819.7 1491.3 818.2Q1527.1 816.8 1561.2 825.3"/><path d="M1327.9 918.7Q1284.1 891 1241.6 874Q1200.5 857.5 1160.9 851.2Q1122.7 845.2 1086.1 848.6Q1050.9 852 1017.4 864.2"/><path d="M1244.1 926.5Q1287.8 890.4 1330.4 866.1Q1371.8 842.4 1411.8 830Q1450.5 817.9 1487.6 816.5Q1523.4 815.1 1557.5 823.6"/><path d="M1331.6 916.1Q1287.8 888.4 1245.4 871.4Q1204.2 855 1164.6 848.8Q1126.4 842.8 1089.8 846.3Q1054.5 849.7 1021 861.9"/><path d="M1240.3 924.5Q1284.1 888.5 1326.7 864.2Q1368.1 840.6 1408 828.2Q1446.8 816.2 1483.9 814.8Q1519.8 813.4 1553.9 821.9"/><path d="M1335.4 913.4Q1291.6 885.8 1249.1 868.9Q1208 852.6 1168.3 846.4Q1130.1 840.4 1093.4 844Q1058.2 847.4 1024.6 859.6"/><path d="M1236.6 922.5Q1280.3 886.6 1322.9 862.4Q1364.3 838.8 1404.3 826.4Q1443 814.5 1480.2 813.1Q1516.1 811.8 1550.2 820.3"/><path d="M1339.1 910.8Q1295.3 883.3 1252.8 866.4Q1211.7 850.1 1172 844Q1133.7 838.1 1097.1 841.7Q1061.8 845.2 1028.2 857.4"/><path d="M1232.9 920.6Q1276.6 884.8 1319.2 860.6Q1360.6 837.1 1400.6 824.8Q1439.3 812.8 1476.5 811.5Q1512.4 810.2 1546.6 818.8"/><path d="M1342.8 908.3Q1299 880.8 1256.6 864Q1215.4 847.8 1175.7 841.7Q1137.4 835.8 1100.7 839.5Q1065.4 843 1031.8 855.3"/><path d="M1229.2 918.7Q1272.9 883 1315.5 858.8Q1356.9 835.4 1396.9 823.1Q1435.6 811.2 1472.8 809.9Q1508.7 808.6 1542.9 817.2"/><path d="M1346.6 905.8Q1302.8 878.4 1260.3 861.7Q1219.1 845.5 1179.4 839.4Q1141.1 833.6 1104.4 837.3Q1069 840.8 1035.4 853.2"/><path d="M1225.5 916.9Q1269.2 881.2 1311.8 857.1Q1353.1 833.7 1393.2 821.5Q1431.9 809.6 1469.1 808.4Q1505.1 807.1 1539.3 815.7"/><path d="M1350.3 903.3Q1306.5 876 1264 859.3Q1222.8 843.2 1183.1 837.2Q1144.7 831.4 1108 835.1Q1072.6 838.7 1038.9 851.1"/><path d="M1221.8 915.1Q1265.5 879.5 1308 855.4Q1349.4 832.1 1389.5 819.9Q1428.2 808.1 1465.5 806.9Q1501.4 805.6 1535.7 814.3"/><path d="M1354 900.9Q1310.2 873.6 1267.7 857Q1226.5 841 1186.8 835Q1148.4 829.3 1111.6 833Q1076.2 836.6 1042.5 849"/><path d="M1218.1 913.3Q1261.8 877.8 1304.4 853.8Q1345.7 830.5 1385.8 818.4Q1424.5 806.6 1461.8 805.4Q1497.8 804.2 1532 812.8"/><path d="M1357.7 898.5Q1313.9 871.3 1271.4 854.8Q1230.2 838.8 1190.4 832.9Q1152 827.2 1115.2 831Q1079.8 834.6 1046.1 847"/><path d="M1214.4 911.6Q1258.1 876.1 1300.7 852.2Q1342 829 1382.1 816.9Q1420.9 805.2 1458.1 804Q1494.1 802.8 1528.4 811.5"/><path d="M1361.3 896.2Q1317.6 869.1 1275 852.6Q1233.8 836.6 1194.1 830.8Q1155.7 825.1 1118.9 828.9Q1083.4 832.6 1049.6 845.1"/><path d="M1210.8 910Q1254.4 874.5 1297 850.7Q1338.4 827.5 1378.4 815.4Q1417.2 803.8 1454.5 802.6Q1490.5 801.4 1524.8 810.1"/><path d="M1365 894Q1321.2 866.9 1278.7 850.5Q1237.5 834.6 1197.7 828.7Q1159.3 823.1 1122.5 827Q1087 830.7 1053.1 843.1"/><path d="M1207.1 908.3Q1250.8 873 1293.3 849.2Q1334.7 826.1 1374.7 814Q1413.5 802.4 1450.8 801.2Q1486.9 800.1 1521.2 808.8"/><path d="M1368.7 891.8Q1324.9 864.8 1282.4 848.4Q1241.1 832.5 1201.4 826.7Q1162.9 821.2 1126.1 825Q1090.5 828.8 1056.7 841.3"/><path d="M1203.5 906.8Q1247.1 871.5 1289.7 847.7Q1331 824.7 1371.1 812.7Q1409.9 801.1 1447.2 799.9Q1483.2 798.8 1517.6 807.5"/><path d="M1372.3 889.6Q1328.6 862.6 1286 846.3Q1244.8 830.5 1205 824.8Q1166.5 819.2 1129.6 823.1Q1094.1 826.9 1060.2 839.4"/><path d="M1199.9 905.2Q1243.5 870 1286 846.3Q1327.4 823.3 1367.4 811.3Q1406.3 799.8 1443.6 798.7Q1479.6 797.6 1514 806.3"/><path d="M1376 887.5Q1332.2 860.6 1289.7 844.3Q1248.4 828.6 1208.6 822.9Q1170.1 817.4 1133.2 821.3Q1097.6 825.1 1063.7 837.6"/><path d="M1196.3 903.7Q1239.8 868.6 1282.4 844.9Q1323.7 822 1363.8 810.1Q1402.6 798.5 1440 797.4Q1476 796.4 1510.5 805.1"/><path d="M1379.6 885.4Q1335.9 858.6 1293.3 842.4Q1252.1 826.6 1212.2 821Q1173.7 815.5 1136.8 819.5Q1101.2 823.3 1067.3 835.9"/><path d="M1192.7 902.3Q1236.2 867.2 1278.8 843.6Q1320.1 820.7 1360.2 808.8Q1399 797.3 1436.3 796.2Q1472.4 795.2 1506.9 803.9"/><path d="M1383.2 883.4Q1339.5 856.6 1296.9 840.4Q1255.7 824.8 1215.8 819.2Q1177.3 813.7 1140.4 817.7Q1104.7 821.6 1070.8 834.2"/><path d="M1189.1 900.9Q1232.6 865.8 1275.1 842.3Q1316.5 819.4 1356.6 807.6Q1395.4 796.1 1432.7 795.1Q1468.8 794.1 1503.3 802.8"/><path d="M1386.9 881.4Q1343.1 854.7 1300.5 838.6Q1259.3 822.9 1219.4 817.4Q1180.9 812 1143.9 816Q1108.3 819.9 1074.3 832.5"/><path d="M1185.5 899.5Q1229 864.5 1271.5 841.1Q1312.9 818.2 1352.9 806.4Q1391.8 795 1429.2 794Q1465.3 793 1499.8 801.7"/><path d="M1390.5 879.4Q1346.7 852.8 1304.1 836.7Q1262.9 821.2 1223 815.6Q1184.5 810.3 1147.5 814.3Q1111.8 818.2 1077.8 830.8"/><path d="M1181.9 898.2Q1225.4 863.3 1267.9 839.8Q1309.3 817.1 1349.3 805.3Q1388.2 793.9 1425.6 792.9Q1461.7 791.9 1496.2 800.7"/><path d="M1394.1 877.5Q1350.3 851 1307.7 834.9Q1266.5 819.4 1226.6 813.9Q1188 808.6 1151 812.7Q1115.3 816.6 1081.3 829.2"/><path d="M1178.4 896.9Q1221.9 862.1 1264.3 838.7Q1305.7 815.9 1345.8 804.2Q1384.6 792.8 1422 791.8Q1458.1 790.9 1492.7 799.7"/><path d="M1397.6 875.7Q1353.9 849.2 1311.3 833.2Q1270.1 817.7 1230.2 812.3Q1191.6 807 1154.6 811.1Q1118.9 815 1084.8 827.7"/><path d="M1174.8 895.6Q1218.3 860.9 1260.8 837.5Q1302.1 814.9 1342.2 803.1Q1381 791.8 1418.4 790.8Q1454.6 789.9 1489.2 798.7"/><path d="M1401.2 873.9Q1357.5 847.4 1314.9 831.5Q1273.6 816.1 1233.7 810.7Q1195.2 805.4 1158.1 809.5Q1122.4 813.5 1088.2 826.2"/><path d="M1171.3 894.4Q1214.7 859.7 1257.2 836.5Q1298.5 813.8 1338.6 802.1Q1377.4 790.8 1414.9 789.9Q1451 789 1485.6 797.8"/><path d="M1404.8 872.1Q1361.1 845.7 1318.5 829.9Q1277.2 814.5 1237.3 809.1Q1198.7 803.9 1161.6 808Q1125.9 812 1091.7 824.7"/><path d="M1167.8 893.3Q1211.1 858.7 1253.4 835.5Q1294.6 812.9 1334.6 801.3Q1373.4 790 1410.8 789Q1446.9 788 1481.4 796.7"/><path d="M1408.3 870.4Q1364.6 844.1 1322 828.3Q1280.8 812.9 1240.8 807.6Q1202.2 802.4 1165.1 806.5Q1129.4 810.6 1095.2 823.3"/><path d="M1164.3 892.1Q1207.2 857.9 1249.3 834.8Q1290.2 812.4 1329.9 800.7Q1368.4 789.3 1405.6 788.1Q1441.5 787 1475.9 795.3"/><path d="M1411.9 868.8Q1368.2 842.5 1325.6 826.7Q1284.3 811.4 1244.4 806.1Q1205.8 800.9 1168.6 805.1Q1132.8 809.1 1098.6 821.9"/><path d="M1160.8 891.1Q1203.3 857.2 1245 834.3Q1285.6 812 1325 800.2Q1363.2 788.8 1400.1 787.3Q1435.8 785.9 1470 793.9"/><path d="M1415.4 867.1Q1371.7 840.9 1329.1 825.2Q1287.9 809.9 1247.9 804.6Q1209.3 799.5 1172.1 803.7Q1136.3 807.8 1102.1 820.5"/><path d="M1157.3 890Q1199.4 856.5 1240.7 833.7Q1281 811.6 1320.1 799.8Q1358 788.3 1394.6 786.6Q1430.1 785 1464.1 792.6"/><path d="M1418.9 865.6Q1375.2 839.4 1332.7 823.7Q1291.4 808.5 1251.4 803.2Q1212.8 798.1 1175.6 802.4Q1139.8 806.4 1105.5 819.2"/><path d="M1153.8 889Q1195.6 855.9 1236.5 833.2Q1276.4 811.2 1315.1 799.3Q1352.8 787.8 1389.2 785.9Q1424.4 784.1 1458.2 791.3"/><path d="M1422.4 864Q1379 838.1 1336.6 822.4Q1295.5 807.3 1255.7 802Q1217.2 796.8 1180.2 800.9Q1144.5 804.9 1110.3 817.4"/><path d="M1150.3 888Q1191.7 855.3 1232.3 832.8Q1271.8 810.9 1310.2 799Q1347.6 787.4 1383.7 785.3Q1418.7 783.2 1452.3 790"/><path d="M1425.9 862.5Q1382.9 836.9 1341 821.4Q1300.2 806.3 1260.8 800.9Q1222.6 795.6 1185.9 799.4Q1150.4 803.1 1116.5 815.2"/><path d="M1146.9 887.1Q1187.8 854.7 1228 832.4Q1267.2 810.6 1305.3 798.7Q1342.4 787 1378.2 784.7Q1413 782.4 1446.4 788.9"/><path d="M1429.4 861.1Q1386.8 835.8 1345.3 820.3Q1305 805.3 1265.9 799.8Q1228 794.4 1191.6 798Q1156.4 801.4 1122.6 813"/><path d="M1143.4 886.2Q1184 854.2 1223.8 832Q1262.6 810.4 1300.5 798.4Q1337.2 786.7 1372.8 784.2Q1407.3 781.7 1440.5 787.8"/><path d="M1432.9 859.7Q1390.8 834.7 1349.6 819.3Q1309.7 804.4 1270.9 798.8Q1233.4 793.3 1197.2 796.6Q1162.3 799.7 1128.8 810.9"/><path d="M1140 885.4Q1180.2 853.7 1219.6 831.7Q1258.1 810.2 1295.6 798.2Q1332 786.4 1367.3 783.7Q1401.6 781 1434.6 786.7"/><path d="M1436.4 858.4Q1394.7 833.6 1353.9 818.4Q1314.4 803.6 1276 797.8Q1238.8 792.3 1202.9 795.2Q1168.2 798.1 1134.9 808.9"/><path d="M1136.6 884.6Q1176.4 853.2 1215.4 831.4Q1253.5 810.1 1290.7 798Q1326.9 786.2 1361.9 783.2Q1395.9 780.3 1428.7 785.7"/><path d="M1439.8 857Q1398.6 832.6 1358.3 817.5Q1319.1 802.8 1281.1 796.9Q1244.2 791.3 1208.6 793.9Q1174.2 796.5 1141.1 806.9"/><path d="M1133.1 883.8Q1172.6 852.8 1211.3 831.1Q1249 810 1285.8 797.8Q1321.7 786 1356.5 782.8Q1390.2 779.7 1422.8 784.8"/><path d="M1443.3 855.8Q1402.5 831.7 1362.6 816.6Q1323.8 802 1286.1 796.1Q1249.6 790.3 1214.3 792.7Q1180.1 795 1147.2 805"/><path d="M1129.7 883.1Q1168.8 852.4 1207.1 830.9Q1244.5 809.9 1281 797.7Q1316.5 785.9 1351 782.5Q1384.5 779.2 1416.9 783.9"/><path d="M1446.7 854.6Q1406.4 830.8 1367 815.8Q1328.6 801.3 1291.3 795.3Q1255.2 789.4 1220.2 791.5Q1186.3 793.5 1153.8 803.1"/><path d="M1126.4 882.4Q1165 852.1 1202.9 830.7Q1240 809.9 1276.2 797.7Q1311.4 785.8 1345.6 782.2Q1378.9 778.7 1411 783"/><path d="M1450.1 853.4Q1410.3 829.9 1371.2 815.1Q1333.3 800.6 1296.4 794.5Q1260.6 788.5 1225.9 790.4Q1192.3 792.2 1159.9 801.3"/><path d="M1123 881.8Q1161.1 851.8 1198.7 830.6Q1235.3 809.9 1271.1 797.7Q1306 785.8 1339.9 782Q1372.9 778.3 1404.7 782.2"/><path d="M1453.5 852.3Q1414.2 829.1 1375.6 814.4Q1338.1 800.1 1301.6 793.8Q1266.2 787.7 1231.8 789.3Q1198.5 790.8 1166.5 799.5"/><path d="M1119.6 881.2Q1157.4 851.6 1194.5 830.5Q1230.8 810 1266.3 797.7Q1300.9 785.8 1334.5 781.8Q1367.2 777.9 1398.8 781.5"/><path d="M1456.9 851.2Q1418 828.3 1379.9 813.7Q1342.8 799.5 1306.6 793.1Q1271.5 787 1237.5 788.3Q1204.5 789.6 1172.7 797.8"/><path d="M1116.3 880.6Q1153.6 851.3 1190.4 830.5Q1226.3 810.1 1261.5 797.8Q1295.7 785.8 1329.1 781.7Q1361.5 777.6 1392.9 780.9"/><path d="M1460.3 850.1Q1421.9 827.6 1384.1 813Q1347.4 798.9 1311.6 792.5Q1276.9 786.3 1243.1 787.3Q1210.4 788.4 1178.8 796.3"/><path d="M1112.9 880.1Q1149.8 851.2 1186.2 830.5Q1221.7 810.3 1256.5 798Q1290.4 786 1323.4 781.6Q1355.5 777.3 1386.6 780.3"/><path d="M1463.7 849.1Q1425.7 826.9 1388.5 812.5Q1352.2 798.5 1316.9 791.9Q1282.5 785.6 1249.1 786.4Q1216.7 787.2 1185.4 794.7"/><path d="M1109.6 879.6Q1146.1 851 1182.1 830.5Q1217.2 810.4 1251.7 798.1Q1285.3 786.1 1318 781.5Q1349.8 777.1 1380.7 779.7"/><path d="M1467.1 848.2Q1429.6 826.2 1392.8 812Q1357 798.1 1322.1 791.4Q1288 785 1255 785.6Q1223 786.1 1192 793.1"/><path d="M1106.3 879.1Q1142.4 850.9 1178 830.6Q1212.8 810.6 1246.9 798.3Q1280.2 786.3 1312.6 781.6Q1344.2 776.9 1374.8 779.2"/><path d="M1470.4 847.2Q1433.4 825.6 1397.1 811.5Q1361.6 797.6 1327 791Q1293.4 784.5 1260.7 784.8Q1228.9 785.1 1198.2 791.7"/><path d="M1103 878.7Q1138.6 850.9 1173.8 830.7Q1208.2 811 1241.9 798.6Q1274.8 786.6 1306.9 781.6Q1338.2 776.8 1368.6 778.8"/><path d="M1473.8 846.4Q1437.3 825.1 1401.4 811Q1366.4 797.3 1332.2 790.6Q1299 784 1266.6 784Q1235.2 784.1 1204.7 790.3"/><path d="M1099.7 878.3Q1135 850.8 1169.7 830.8Q1203.8 811.2 1237.1 798.9Q1269.7 786.8 1301.5 781.7Q1332.5 776.8 1362.7 778.5"/><path d="M1477.1 845.5Q1441.1 824.6 1405.7 810.6Q1371.2 797 1337.4 790.2Q1304.5 783.6 1272.5 783.3Q1241.4 783.1 1211.3 789"/><path d="M1096.4 878Q1131.2 850.9 1165.6 831Q1199.2 811.6 1232.2 799.3Q1264.4 787.2 1295.9 781.9Q1326.6 776.8 1356.4 778.1"/><path d="M1480.4 844.7Q1444.9 824.1 1409.9 810.2Q1375.8 796.8 1342.4 789.9Q1309.9 783.1 1278.2 782.7Q1247.4 782.3 1217.5 787.8"/><path d="M1093.1 877.7Q1127.5 850.9 1161.4 831.3Q1194.6 812.1 1227.2 799.7Q1259.1 787.6 1290.2 782.2Q1320.6 776.9 1350.1 777.9"/><path d="M1483.8 844Q1448.7 823.6 1414.2 809.9Q1380.5 796.6 1347.5 789.6Q1315.4 782.8 1284.1 782.2Q1253.7 781.5 1224.1 786.7"/><path d="M1089.9 877.4Q1123.8 851 1157.4 831.5Q1190.2 812.5 1222.5 800.1Q1254 788 1284.9 782.4Q1315 777 1344.2 777.7"/><path d="M1487.1 843.3Q1452.5 823.2 1418.5 809.7Q1385.2 796.4 1352.7 789.4Q1321 782.5 1290 781.6Q1259.9 780.8 1230.7 785.5"/><path d="M1086.6 877.2Q1120.1 851.2 1153.3 831.9Q1185.7 813 1217.6 800.6Q1248.7 788.6 1279.2 782.8Q1309 777.2 1338 777.6"/><path d="M1490.4 842.6Q1456.3 822.9 1422.7 809.4Q1390 796.3 1357.9 789.2Q1326.5 782.3 1296 781.2Q1266.2 780.1 1237.3 784.5"/><path d="M1083.4 877Q1116.5 851.3 1149.1 832.2Q1181.2 813.5 1212.6 801.2Q1243.4 789.1 1273.6 783.2Q1303 777.4 1331.7 777.5"/><path d="M1493.6 842Q1460 822.6 1427 809.3Q1394.7 796.3 1363 789.1Q1332.1 782.1 1301.9 780.8Q1272.5 779.5 1243.9 783.5"/><path d="M1080.1 876.8Q1112.8 851.5 1145.1 832.6Q1176.8 814 1207.9 801.7Q1238.4 789.7 1268.3 783.6Q1297.4 777.7 1325.8 777.5"/><path d="M1496.9 841.4Q1463.8 822.3 1431.2 809.1Q1399.4 796.2 1368.1 789Q1337.6 782 1307.8 780.5Q1278.8 779 1250.5 782.6"/><path d="M1076.9 876.7Q1109.2 851.8 1141 833Q1172.3 814.7 1203 802.4Q1233.1 790.3 1262.6 784.1Q1291.5 778 1319.6 777.6"/><path d="M1500.2 840.9Q1456.8 815.9 1414.4 801.1Q1373.3 786.7 1333.3 781.9Q1294.5 777.4 1257.1 781.8"/><path d="M1073.7 876.6Q1116 843.9 1157.6 822Q1198.1 800.6 1237.7 789.5Q1276.1 778.7 1313.3 777.7"/><path d="M1503.4 840.4Q1460.8 815.9 1419.1 801.1Q1378.6 786.9 1339.2 781.9Q1301 777.1 1264 781"/><path d="M1070.5 876.6Q1112.2 844.4 1153.3 822.6Q1193.2 801.4 1232.3 790.2Q1270.2 779.3 1307.1 777.9"/><path d="M1506.6 839.9Q1464.7 815.8 1423.6 801.2Q1383.7 787 1344.8 781.8Q1307.1 776.8 1270.6 780.4"/><path d="M1067.4 876.6Q1108.5 844.9 1148.9 823.3Q1188.4 802.2 1226.9 790.9Q1264.4 779.9 1300.8 778.2"/><path d="M1509.9 839.5Q1468.6 815.8 1428.1 801.3Q1388.8 787.2 1350.5 781.8Q1313.3 776.7 1277.3 779.7"/><path d="M1064.2 876.6Q1104.7 845.4 1144.6 824Q1183.5 803.1 1221.6 791.7Q1258.6 780.6 1294.6 778.5"/><path d="M1513.1 839.1Q1472.5 815.8 1432.7 801.4Q1393.9 787.4 1356.1 781.9Q1319.4 776.6 1283.9 779.2"/><path d="M1061 876.6Q1100.9 845.9 1140.3 824.7Q1178.6 804 1216.2 792.5Q1252.8 781.3 1288.3 778.9"/><path d="M1516.3 838.8Q1476.4 815.9 1437.3 801.7Q1399.2 787.8 1362 782.1Q1325.9 776.5 1290.9 778.7"/><path d="M1057.9 876.7Q1097.2 846.5 1136 825.5Q1173.8 805 1210.9 793.4Q1247 782.1 1282.1 779.4"/><path d="M1519.5 838.5Q1480.3 816.1 1441.8 801.9Q1404.3 788.1 1367.6 782.2Q1332.1 776.5 1297.5 778.4"/><path d="M1054.8 876.9Q1093.5 847.1 1131.7 826.3Q1169 805.9 1205.5 794.3Q1241.1 782.9 1275.9 779.9"/><path d="M1522.6 838.2Q1484.2 816.2 1446.4 802.2Q1409.5 788.6 1373.5 782.5Q1338.5 776.7 1304.5 778"/><path d="M1051.6 877Q1089.8 847.7 1127.4 827.1Q1164.2 807 1200.2 795.3Q1235.3 783.8 1269.6 780.5"/><path d="M1525.8 838Q1488 816.4 1450.8 802.5Q1414.6 789 1379.2 782.8Q1344.7 776.8 1311.1 777.8"/><path d="M1048.5 877.2Q1086.1 848.4 1123.1 828Q1159.4 808.1 1194.9 796.3Q1229.6 784.8 1263.4 781.1"/><path d="M1529 837.8Q1491.9 816.7 1455.4 802.9Q1419.9 789.5 1385 783.2Q1351.1 777 1318.1 777.6"/><path d="M1045.4 877.5Q1082.3 849.2 1118.8 829Q1154.4 809.3 1189.3 797.4Q1223.4 785.9 1256.8 781.9"/><path d="M1532.1 837.7Q1495.8 817 1460 803.4Q1425.1 790.1 1390.9 783.6Q1357.6 777.3 1325.1 777.5"/><path d="M1042.4 877.7Q1078.7 849.9 1114.5 830Q1149.6 810.4 1184 798.5Q1217.7 786.9 1250.6 782.6"/><path d="M1535.2 837.6Q1499.6 817.3 1464.4 803.8Q1430.1 790.7 1396.5 784.1Q1363.7 777.7 1331.7 777.5"/><path d="M1039.3 878Q1075 850.7 1110.3 830.9Q1144.8 811.6 1178.8 799.7Q1211.9 788 1244.3 783.5"/><path d="M1538.4 837.5Q1503.4 817.7 1469 804.3Q1435.4 791.3 1402.4 784.6Q1370.2 778.1 1338.8 777.6"/><path d="M1036.2 878.4Q1071.3 851.6 1105.9 832.1Q1139.8 813 1173.2 801Q1205.8 789.3 1237.7 784.4"/><path d="M1541.5 837.5Q1507.2 818.1 1473.5 804.9Q1440.6 792.1 1408.2 785.3Q1376.6 778.6 1345.8 777.8"/><path d="M1033.2 878.8Q1067.6 852.4 1101.7 833.1Q1135.1 814.2 1167.9 802.2Q1200.1 790.5 1231.5 785.4"/><path d="M1544.6 837.5Q1511.1 818.5 1478.1 805.5Q1445.8 792.8 1414.1 785.9Q1383.1 779.2 1352.8 778"/><path d="M1030.2 879.2Q1063.9 853.3 1097.4 834.3Q1130.2 815.7 1162.4 803.6Q1194 791.9 1224.9 786.5"/><path d="M1547.6 837.6Q1514.9 819 1482.6 806.2Q1451 793.6 1419.9 786.7Q1389.5 779.8 1359.8 778.3"/><path d="M1027.1 879.6Q1060.3 854.2 1093.2 835.4Q1125.4 817 1157.2 805Q1188.2 793.2 1218.7 787.6"/><path d="M1550.7 837.7Q1518.7 819.5 1487.1 806.9Q1456.2 794.5 1425.7 787.4Q1396 780.5 1366.8 778.7"/><path d="M1024.1 880.1Q1056.7 855.2 1088.9 836.7Q1120.5 818.5 1151.7 806.5Q1182.2 794.7 1212.1 788.9"/><path d="M1553.8 837.8Q1522.5 820.1 1491.6 807.6Q1461.3 795.4 1431.5 788.3Q1402.4 781.3 1373.8 779.2"/><path d="M1021.1 880.6Q1053.1 856.2 1084.7 837.9Q1115.8 819.9 1146.5 807.9Q1176.5 796.1 1205.9 790.1"/><path d="M1556.8 838Q1526.3 820.7 1496.1 808.4Q1466.5 796.4 1437.4 789.2Q1408.8 782.1 1380.9 779.7"/><path d="M1018.1 881.1Q1049.4 857.2 1080.5 839.2Q1110.9 821.5 1141 809.5Q1170.4 797.7 1199.4 791.5"/><path d="M1559.9 838.2Q1530 821.3 1500.6 809.2Q1471.7 797.4 1443.2 790.1Q1415.3 783 1387.9 780.4"/><path d="M1015.2 881.7Q1045.8 858.3 1076.2 840.6Q1106 823.1 1135.5 811.1Q1164.4 799.4 1192.8 792.9"/><path d="M1562.9 838.4Q1533.9 822.1 1505.2 810.2Q1477 798.5 1449.2 791.2Q1422 784.1 1395.3 781.1"/><path d="M1012.2 882.3Q1042.2 859.5 1071.9 842Q1101.2 824.8 1130 812.8Q1158.3 801.1 1186.2 794.5"/><path d="M1565.9 838.7Q1523.6 814.9 1482.1 800.6Q1441.7 786.7 1402.3 781.9"/><path d="M1009.2 882.9Q1038.7 860.5 1067.8 843.3Q1096.5 826.4 1124.9 814.4Q1152.7 802.8 1180.1 796"/><path d="M1568.9 839.1Q1527.8 815.9 1487.4 801.8Q1448.1 788 1409.7 782.9"/><path d="M1006.3 883.6Q1035.1 861.7 1063.6 844.8Q1091.7 828.1 1119.4 816.2Q1146.6 804.6 1173.5 797.6"/><path d="M1571.9 839.4Q1531.9 816.9 1492.6 802.9Q1454.2 789.3 1416.7 783.9"/><path d="M1003.4 884.3Q1031.5 862.9 1059.4 846.3Q1086.8 829.9 1114 818.1Q1140.6 806.5 1166.9 799.4"/><path d="M1574.9 839.8Q1536.1 818 1497.9 804.2Q1460.6 790.7 1424.2 785"/><path d="M1000.5 885.1Q1041.5 853.9 1082.1 832.7Q1121.6 812.1 1160.4 801.2"/><path d="M1577.8 840.2Q1540.1 819 1503 805.4Q1466.7 792.1 1431.2 786.1"/><path d="M997.5 885.8Q1037.6 855.4 1077.2 834.5Q1115.9 814.1 1153.9 803"/><path d="M1580.8 840.7Q1544.3 820.2 1508.2 806.8Q1473.1 793.7 1438.6 787.4"/><path d="M994.7 886.6Q1033.8 856.9 1072.4 836.4Q1110.2 816.3 1147.3 805"/><path d="M1583.7 841.2Q1548.4 821.4 1513.5 808.2Q1479.5 795.3 1446 788.8"/><path d="M991.8 887.5Q1029.8 858.6 1067.5 838.3Q1104.2 818.6 1140.4 807.1"/><path d="M1586.7 841.8Q1552.5 822.6 1518.8 809.6Q1485.8 796.9 1453.4 790.3"/><path d="M988.9 888.3Q1026 860.2 1062.7 840.3Q1098.6 820.8 1133.9 809.2"/><path d="M1589.6 842.3Q1556.6 823.8 1524.1 811.1Q1492.2 798.7 1460.8 791.8"/><path d="M986.1 889.2Q1022.2 861.8 1057.9 842.2Q1092.9 823 1127.4 811.4"/><path d="M1592.5 842.9Q1560.7 825.1 1529.3 812.7Q1498.5 800.5 1468.2 793.5"/><path d="M983.2 890.1Q1018.3 863.5 1053.2 844.2Q1087.3 825.3 1120.9 813.6"/><path d="M1595.4 843.6Q1564.8 826.4 1534.5 814.3Q1504.9 802.3 1475.6 795.2"/><path d="M980.4 891.1Q1014.4 865.3 1048.2 846.4Q1081.3 827.9 1114 816.1"/><path d="M1598.3 844.3Q1568.9 827.8 1539.8 815.9Q1511.2 804.3 1483 797.1"/><path d="M977.6 892.1Q1010.7 867 1043.5 848.5Q1075.7 830.3 1107.5 818.4"/></g>
<g clip-path="url(#sD)" fill="none" stroke="#000" stroke-linejoin="round" stroke-linecap="butt"><use href="#bD" stroke-width="8" stroke-opacity="0.25"/><use href="#bD" stroke-width="3.6" stroke-opacity="0.55"/></g>
<g fill="#000"><rect x="979.4" y="946.1" width="3.4" height="3"/><rect x="975.6" y="886.1" width="3.4" height="3"/><rect x="971.8" y="826.2" width="3.4" height="3"/><rect x="968.0" y="766.2" width="3.4" height="3"/><rect x="964.2" y="706.2" width="3.4" height="3"/><rect x="1284.4" y="1130.6" width="3.4" height="3"/><rect x="1224.4" y="1108.7" width="3.4" height="3"/><rect x="1164.3" y="1086.8" width="3.4" height="3"/><rect x="1104.3" y="1064.9" width="3.4" height="3"/><rect x="1044.2" y="1043.1" width="3.4" height="3"/><rect x="984.1" y="1021.2" width="3.4" height="3"/><rect x="1344.7" y="1108.7" width="3.4" height="3"/><rect x="1404.9" y="1086.8" width="3.4" height="3"/><rect x="1465.1" y="1064.9" width="3.4" height="3"/><rect x="1525.4" y="1043.1" width="3.4" height="3"/><rect x="1585.6" y="1021.2" width="3.4" height="3"/></g>
<g font-family="'Liberation Sans',Arial,Helvetica,sans-serif" fill="#000"><text transform="translate(970.68 942.53)" font-size="19" text-anchor="end" stroke="#000" stroke-width="0.85" stroke-linejoin="round">70</text><text transform="translate(966.87 882.55)" font-size="19" text-anchor="end" stroke="#000" stroke-width="0.85" stroke-linejoin="round">80</text><text transform="translate(963.07 822.56)" font-size="19" text-anchor="end" stroke="#000" stroke-width="0.85" stroke-linejoin="round">90</text><text transform="translate(959.26 762.58)" font-size="19" text-anchor="end" stroke="#000" stroke-width="0.85" stroke-linejoin="round">100</text><text transform="translate(955.45 702.60)" font-size="19" text-anchor="end" stroke="#000" stroke-width="0.85" stroke-linejoin="round">110</text><text transform="translate(1275.51 1151.07)" font-size="19.4" text-anchor="end" stroke="#000" stroke-width="0.8" stroke-linejoin="round" letter-spacing="-0.4">40.00</text><text transform="translate(1215.46 1129.19)" font-size="19.4" text-anchor="end" stroke="#000" stroke-width="0.8" stroke-linejoin="round" letter-spacing="-0.4">48.00</text><text transform="translate(1155.41 1107.32)" font-size="19.4" text-anchor="end" stroke="#000" stroke-width="0.8" stroke-linejoin="round" letter-spacing="-0.4">56.00</text><text transform="translate(1095.35 1085.45)" font-size="19.4" text-anchor="end" stroke="#000" stroke-width="0.8" stroke-linejoin="round" letter-spacing="-0.4">64.00</text><text transform="translate(1035.30 1063.57)" font-size="19.4" text-anchor="end" stroke="#000" stroke-width="0.8" stroke-linejoin="round" letter-spacing="-0.4">72.00</text><text transform="translate(975.25 1041.70)" font-size="19.4" text-anchor="end" stroke="#000" stroke-width="0.8" stroke-linejoin="round" letter-spacing="-0.4">80.00</text><text transform="translate(1296.61 1151.07)" font-size="19.4" stroke="#000" stroke-width="0.8" stroke-linejoin="round" letter-spacing="-0.4">30.00</text><text transform="translate(1356.85 1129.19)" font-size="19.4" stroke="#000" stroke-width="0.8" stroke-linejoin="round" letter-spacing="-0.4">36.00</text><text transform="translate(1417.09 1107.32)" font-size="19.4" stroke="#000" stroke-width="0.8" stroke-linejoin="round" letter-spacing="-0.4">42.00</text><text transform="translate(1477.33 1085.44)" font-size="19.4" stroke="#000" stroke-width="0.8" stroke-linejoin="round" letter-spacing="-0.4">48.00</text><text transform="translate(1537.57 1063.56)" font-size="19.4" stroke="#000" stroke-width="0.8" stroke-linejoin="round" letter-spacing="-0.4">54.00</text><text transform="translate(1597.81 1041.69)" font-size="19.4" stroke="#000" stroke-width="0.8" stroke-linejoin="round" letter-spacing="-0.4">60.00</text><text transform="translate(1019.40 1124.00) scale(1.050 1)" font-size="16" text-anchor="middle" stroke="#000" stroke-width="0.7" stroke-linejoin="round">X1/mg</text><text transform="translate(1551.70 1124.00) scale(1.050 1)" font-size="16" text-anchor="middle" stroke="#000" stroke-width="0.7" stroke-linejoin="round">X3/min</text></g>
<text transform="translate(867.30 664.90) scale(0.870 1)" font-family="'Liberation Sans',Arial,Helvetica,sans-serif" font-size="31.7" font-weight="bold" fill="#000">D</text>
<g stroke="#1a1a1a" stroke-width="0.9" fill="none"><path d="M991.7 1639.9L971.8 1324.9"/><path d="M1292.5 1554.1L1292.3 1269.8"/><path d="M1593.2 1639.9L1612.6 1324.5"/><path d="M987.0 1564.8L1292.5 1486.0"/><path d="M1292.5 1486.0L1597.8 1564.7"/><path d="M983.2 1504.8L1292.4 1431.9"/><path d="M1292.4 1431.9L1601.5 1504.7"/><path d="M979.4 1444.9L1292.4 1377.9"/><path d="M1292.4 1377.9L1605.2 1444.6"/><path d="M975.6 1384.9L1292.3 1323.8"/><path d="M1292.3 1323.8L1608.9 1384.6"/><path d="M971.8 1324.9L1292.3 1269.8"/><path d="M1292.3 1269.8L1612.6 1324.5"/><path d="M1063.4 1545.1L1051.9 1311.1"/><path d="M1139.7 1525.4L1132.0 1297.3"/><path d="M1216.1 1505.7L1212.1 1283.6"/><path d="M1536.8 1549.0L1548.5 1313.6"/><path d="M1475.7 1533.2L1484.5 1302.6"/><path d="M1414.6 1517.5L1420.4 1291.7"/><path d="M1353.5 1501.7L1356.3 1280.7"/></g>
<path d="M991.7 1639.9L1292.0 1749.3L1593.2 1639.9L1292.5 1554.1Z" fill="#ffff00" stroke="#111" stroke-width="0.9"/>
<g clip-path="url(#fF)" fill="none" stroke-width="1"><path stroke="#00e8ff" d="M1465.9 1575.1L1444.9 1569.8L1422.9 1565L1400 1560.8L1376.4 1557.2L1352.2 1554.3L1327.5 1551.9L1302.4 1550.1L1277.1 1549L1251.8 1548.5L1226.5 1548.6L1201.3 1549.4L1176.4 1550.8L1152 1552.8L1128.1 1555.4L1104.8 1558.6L1082.4 1562.4L1060.9 1566.9L1040.4 1571.9L1021.2 1577.4L1003.3 1583.5L986.9 1590.1L972.1 1597.2L959.1 1604.8L948 1612.8L938.9 1621.2L931.9 1629.9L927.3 1638.9L925.1 1648.2L925.4 1657.6L928.2 1667.1L933.8 1676.6L942 1686.1L953 1695.4L966.6 1704.5L983 1713.2L1001.9 1721.6L1023.4 1729.4L1047.2 1736.6L1073.1 1743.1L1101 1748.8L1130.5 1753.6L1161.4 1757.6L1193.4 1760.5L1226 1762.4L1259 1763.3L1292.1 1763.1L1324.7 1761.8L1356.6 1759.5L1387.4 1756.2L1416.9 1751.9L1444.6 1746.7L1470.4 1740.7L1493.9 1733.9L1515.1 1726.5L1533.8 1718.5L1549.8 1709.9L1563.1 1701L1573.6 1691.9L1581.3 1682.5L1586.3 1672.9L1588.6 1663.4L1588.2 1653.9L1585.3 1644.5L1580 1635.4L1572.3 1626.5L1562.5 1617.9L1550.7 1609.6L1536.9 1601.8L1521.4 1594.4L1504.3 1587.4L1485.8 1581L1465.9 1575.1 Z"/><path stroke="#10ff30" d="M1434 1585.2L1416.4 1580.6L1397.8 1576.5L1378.4 1572.9L1358.4 1569.8L1337.8 1567.2L1316.8 1565.1L1295.4 1563.6L1273.9 1562.6L1252.2 1562.2L1230.6 1562.3L1209.2 1562.9L1188 1564.1L1167.1 1565.9L1146.8 1568.1L1127.1 1570.9L1108.1 1574.3L1089.9 1578.1L1072.7 1582.4L1056.6 1587.2L1041.7 1592.4L1028.1 1598.1L1016 1604.1L1005.3 1610.6L996.4 1617.4L989.2 1624.5L983.8 1631.8L980.4 1639.4L979.1 1647.1L979.9 1655L982.8 1662.8L987.9 1670.7L995.2 1678.5L1004.8 1686.2L1016.6 1693.6L1030.5 1700.7L1046.5 1707.5L1064.5 1713.8L1084.3 1719.6L1105.8 1724.9L1128.8 1729.4L1153.1 1733.3L1178.4 1736.5L1204.6 1738.8L1231.3 1740.4L1258.3 1741L1285.3 1740.9L1311.9 1739.9L1338.1 1738L1363.3 1735.4L1387.5 1732L1410.4 1727.8L1431.7 1723L1451.3 1717.5L1469.1 1711.5L1484.8 1705L1498.4 1698.1L1509.8 1690.8L1519 1683.3L1525.9 1675.5L1530.6 1667.7L1533 1659.8L1533.2 1651.9L1531.3 1644.1L1527.4 1636.4L1521.5 1628.9L1513.7 1621.6L1504.1 1614.7L1492.9 1608L1480.2 1601.7L1466.1 1595.8L1450.6 1590.3L1434 1585.2 Z"/><path stroke="#a8ff40" d="M1392.9 1598.2L1379.5 1594.6L1365.3 1591.3L1350.4 1588.5L1335 1586L1319.1 1584L1302.9 1582.3L1286.3 1581.1L1269.6 1580.3L1252.8 1580L1236.1 1580.1L1219.4 1580.6L1203 1581.6L1186.9 1582.9L1171.2 1584.7L1156 1586.9L1141.4 1589.6L1127.5 1592.6L1114.4 1596L1102.2 1599.7L1091 1603.8L1080.9 1608.2L1071.9 1612.9L1064.1 1617.9L1057.7 1623.1L1052.6 1628.6L1049 1634.2L1046.9 1639.9L1046.4 1645.8L1047.4 1651.7L1050.1 1657.6L1054.5 1663.5L1060.4 1669.3L1068 1674.9L1077.2 1680.4L1088 1685.6L1100.2 1690.6L1113.8 1695.2L1128.7 1699.4L1144.8 1703.1L1161.9 1706.4L1179.9 1709.2L1198.6 1711.5L1217.9 1713.1L1237.6 1714.2L1257.4 1714.7L1277.2 1714.6L1296.8 1713.9L1316.1 1712.6L1334.7 1710.7L1352.6 1708.2L1369.6 1705.2L1385.6 1701.7L1400.3 1697.8L1413.7 1693.4L1425.7 1688.7L1436.2 1683.7L1445.1 1678.3L1452.4 1672.8L1458 1667.1L1462 1661.2L1464.3 1655.3L1465 1649.4L1464 1643.5L1461.5 1637.7L1457.5 1632L1452 1626.4L1445.2 1621.1L1437 1615.9L1427.6 1611L1417 1606.4L1405.4 1602.1L1392.9 1598.2 Z"/><path stroke="#ff9a10" d="M1326.6 1619.1L1319.8 1617.2L1312.6 1615.4L1304.9 1613.9L1296.9 1612.5L1288.6 1611.4L1280.1 1610.5L1271.4 1609.9L1262.7 1609.4L1253.8 1609.3L1245 1609.3L1236.3 1609.6L1227.6 1610.1L1219.2 1610.9L1211 1611.8L1203.1 1613L1195.6 1614.5L1188.4 1616.1L1181.8 1617.9L1175.6 1619.9L1170 1622.1L1165 1624.4L1160.6 1626.9L1156.9 1629.5L1153.9 1632.2L1151.7 1635L1150.2 1637.9L1149.6 1640.8L1149.7 1643.8L1150.6 1646.7L1152.3 1649.7L1154.8 1652.6L1158.2 1655.4L1162.3 1658.2L1167.1 1660.8L1172.7 1663.4L1178.9 1665.7L1185.8 1667.9L1193.3 1669.9L1201.2 1671.7L1209.7 1673.2L1218.5 1674.5L1227.6 1675.6L1237 1676.3L1246.5 1676.8L1256.1 1677.1L1265.7 1677L1275.2 1676.7L1284.6 1676.1L1293.7 1675.2L1302.4 1674L1310.8 1672.6L1318.6 1671L1326 1669.1L1332.8 1667.1L1338.9 1664.8L1344.3 1662.4L1349 1659.8L1352.9 1657.1L1356.1 1654.3L1358.4 1651.5L1360 1648.5L1360.7 1645.6L1360.6 1642.6L1359.7 1639.7L1358 1636.8L1355.6 1633.9L1352.4 1631.1L1348.5 1628.5L1344 1625.9L1338.8 1623.5L1333 1621.2L1326.6 1619.1 Z"/></g>
<g clip-path="url(#sF)"><path d="M981.1 1471.8L984.4 1471.1L987.7 1470.4L991 1469.7L994.4 1469.1L997.7 1468.5L1001.1 1468L1004.5 1467.5L1007.9 1467.1L1011.4 1466.7L1014.8 1466.3L1018.3 1466.1L1021.7 1465.8L1025.2 1465.6L1028.7 1465.5L1032.3 1465.4L1035.8 1465.4L1039.3 1465.4L1042.9 1465.5L1046.5 1465.6L1050.1 1465.8L1053.7 1466L1057.3 1466.3L1061 1466.6L1064.6 1467L1068.3 1467.4L1072 1467.9L1075.7 1468.5L1078.7 1468.9L1081.7 1469.5L1084.7 1470L1087.7 1470.6L1090.7 1471.2L1093.7 1471.8L1096.8 1472.5L1099.8 1473.3L1102.9 1474L1105.9 1474.8L1109 1475.6L1112.1 1476.5L1115.2 1477.4L1118.3 1478.3L1121.4 1479.3L1124.5 1480.3L1127.6 1481.4L1130.8 1482.5L1133.9 1483.6L1137.1 1484.7L1140.2 1485.9L1143.4 1487.2L1146.6 1488.4L1149.8 1489.7L1153 1491.1L1156.2 1492.5L1159.4 1493.9L1162.7 1495.4L1165.9 1496.9L1169.2 1498.4L1172.4 1500L1175.7 1501.6L1179 1503.2L1182.3 1504.9L1185.5 1506.7L1188.9 1508.4L1192.2 1510.2L1195.5 1512.1L1198.8 1514L1202.1 1515.9L1205.5 1517.9L1208.9 1519.9L1212.2 1521.9L1215.6 1524L1219 1526.1L1221.5 1527.7L1224.1 1529.4L1226.6 1531L1229.2 1532.7L1231.7 1534.4L1234.3 1536.2L1236.8 1537.9L1239.4 1539.7L1242 1541.5L1244.6 1543.3L1247.2 1545.2L1249.8 1547L1252.4 1548.9L1255 1550.8L1257.6 1552.8L1260.2 1554.7L1262.8 1556.7L1265.4 1558.7L1268 1560.7L1270.7 1562.8L1273.3 1564.9L1275.9 1567L1278.6 1569.1L1281.2 1571.2L1283.8 1573.4L1286.5 1575.6L1289.2 1577.8L1291.8 1580L1294.5 1578L1297.1 1576L1299.8 1574L1302.4 1572L1305.1 1570.1L1307.7 1568.2L1310.4 1566.3L1313 1564.5L1315.6 1562.6L1318.3 1560.8L1320.9 1559L1323.5 1557.3L1326.1 1555.5L1328.7 1553.8L1331.3 1552.1L1333.9 1550.5L1336.5 1548.8L1339.1 1547.2L1341.7 1545.6L1344.2 1544.1L1347.7 1542L1351.1 1540L1354.5 1538.1L1357.9 1536.2L1361.3 1534.3L1364.7 1532.5L1368.1 1530.7L1371.4 1529L1374.8 1527.3L1378.1 1525.6L1381.5 1524L1384.8 1522.4L1388.1 1520.9L1391.5 1519.4L1394.8 1518L1398.1 1516.6L1401.3 1515.2L1404.6 1513.9L1407.9 1512.6L1411.1 1511.4L1414.4 1510.2L1417.6 1509.1L1420.9 1507.9L1424.1 1506.9L1427.3 1505.9L1430.5 1504.9L1433.7 1503.9L1436.9 1503L1440.1 1502.2L1443.2 1501.3L1446.4 1500.5L1449.5 1499.8L1452.7 1499.1L1455.8 1498.4L1458.9 1497.8L1462 1497.2L1465.1 1496.7L1468.2 1496.2L1471.3 1495.7L1474.3 1495.3L1477.4 1494.9L1480.4 1494.5L1483.5 1494.2L1486.5 1493.9L1489.5 1493.7L1492.5 1493.5L1495.5 1493.3L1499.2 1493.2L1503 1493.1L1506.7 1493L1510.3 1493.1L1514 1493.1L1517.7 1493.3L1521.3 1493.5L1524.9 1493.7L1528.5 1494L1532.1 1494.4L1535.7 1494.8L1539.2 1495.3L1542.8 1495.8L1546.3 1496.4L1549.8 1497L1553.3 1497.7L1556.7 1498.4L1560.2 1499.2L1563.6 1500.1L1567.1 1501L1570.5 1501.9L1573.8 1502.9L1577.2 1504L1580.6 1505.1L1583.9 1506.2L1587.2 1507.5L1590.5 1508.7L1593.8 1510L1597.1 1511.4L1600.4 1512.8L1597.6 1510.5L1595.1 1508.6L1592.6 1506.8L1590.1 1504.9L1587.5 1503.1L1585 1501.3L1582.5 1499.5L1580 1497.8L1577.5 1496L1575 1494.3L1572.5 1492.6L1570 1491L1566.7 1488.7L1563.3 1486.6L1560 1484.4L1556.7 1482.3L1553.4 1480.3L1550.1 1478.2L1546.8 1476.2L1543.5 1474.3L1540.2 1472.3L1536.9 1470.5L1533.6 1468.6L1530.3 1466.8L1527.1 1465L1523.8 1463.2L1520.6 1461.5L1517.3 1459.8L1514 1458.2L1510.8 1456.6L1507.6 1455L1504.3 1453.4L1501.1 1451.9L1497.9 1450.4L1493.6 1448.5L1490.1 1447L1486.6 1445.4L1483.1 1443.9L1479.6 1442.4L1476 1441L1472.5 1439.5L1469 1438.1L1465.5 1436.7L1462 1435.3L1458.5 1434L1455 1432.7L1451.5 1431.4L1447.9 1430.1L1444.4 1428.8L1440.9 1427.6L1437.4 1426.4L1433.9 1425.2L1430.3 1424L1426.8 1422.8L1423.3 1421.7L1419.8 1420.6L1416.2 1419.5L1412.7 1418.5L1409.2 1417.4L1405.7 1416.4L1402.1 1415.4L1398.6 1414.5L1395.1 1413.5L1391.5 1412.6L1388 1411.7L1384.5 1410.8L1380.9 1409.9L1377.4 1409.1L1373.9 1408.3L1370.3 1407.5L1366.8 1406.7L1363.3 1406L1359.7 1405.3L1356.2 1404.6L1352.7 1403.9L1349.1 1403.2L1345.6 1402.6L1342.1 1402L1338.5 1401.4L1335 1400.9L1331.5 1400.3L1327.9 1399.8L1324.4 1399.3L1320.8 1398.8L1317.3 1398.4L1313.8 1397.9L1310.2 1397.5L1306.7 1397.2L1303.2 1396.8L1299.6 1396.5L1296.1 1396.1L1292.5 1395.9L1289 1395.6L1285.5 1395.3L1281.9 1395.1L1278.4 1394.9L1274.9 1394.7L1271.3 1394.6L1267.8 1394.4L1264.3 1394.3L1260.7 1394.2L1257.2 1394.2L1253.7 1394.1L1250.1 1394.1L1246.6 1394.1L1243.1 1394.1L1239.6 1394.2L1236 1394.3L1232.5 1394.4L1229 1394.5L1225.5 1394.6L1221.9 1394.8L1218.4 1395L1214.9 1395.2L1211.4 1395.4L1207.8 1395.6L1204.3 1395.9L1200.8 1396.2L1197.3 1396.5L1193.8 1396.9L1190.2 1397.2L1186.7 1397.6L1183.2 1398L1179.7 1398.5L1176.2 1398.9L1172.7 1399.4L1169.2 1399.9L1165.7 1400.4L1162.2 1401L1158.7 1401.5L1155.2 1402.1L1151.6 1402.7L1148.1 1403.4L1144.6 1404L1141.2 1404.7L1137.7 1405.4L1134.2 1406.1L1130.7 1406.9L1127.2 1407.6L1123.7 1408.4L1120.2 1409.2L1116.7 1410.1L1113.2 1410.9L1109.6 1411.8L1106.4 1412.7L1103.2 1413.5L1100 1414.5L1096.7 1415.4L1093.5 1416.4L1090.3 1417.4L1087 1418.5L1083.8 1419.6L1080.5 1420.7L1077.2 1421.9L1074 1423.1L1070.7 1424.3L1067.4 1425.6L1064.1 1426.9L1060.8 1428.3L1057.5 1429.7L1054.2 1431.1L1050.9 1432.6L1047.6 1434.1L1044.3 1435.7L1040.9 1437.2L1037.6 1438.9L1034.3 1440.5L1030.9 1442.2L1027.6 1444L1024.2 1445.7L1020.9 1447.6L1017.5 1449.4L1014.1 1451.3L1010.8 1453.3L1007.4 1455.2L1004 1457.2L1000.6 1459.3L997.2 1461.4L994.7 1463L992.1 1464.6L989.6 1466.2L987 1467.9L984.5 1469.6L981.9 1471.3Z" fill="#00bfff"/><path d="M1421.7 1467.9L1390 1460.4L1359.6 1453.1L1330.9 1446.3L1304.4 1440L1292.4 1437.1L1284.2 1439.1L1263.2 1444.1L1239.5 1449.7L1213.5 1456L1185.4 1462.7L1155.7 1469.8L1124.8 1477.1L1093.1 1484.7L1061.2 1492.3L1029.7 1499.8L999.2 1507.1L983.6 1510.9L995.3 1514.5L1021.5 1522.5L1049.8 1531.1L1080 1540.4L1111.5 1550L1143.9 1559.9L1176.6 1570L1209.1 1579.9L1240.7 1589.6L1270.8 1598.8L1291.8 1605.2L1307.7 1600.4L1338.7 1590.9L1370.5 1581.2L1402.6 1571.4L1434.4 1561.7L1465.4 1552.2L1495.1 1543.1L1523 1534.6L1548.9 1526.7L1572.3 1519.5L1593.1 1513.2L1580.3 1505.7L1550.6 1498.6L1519.2 1491.2L1486.9 1483.5L1454.1 1475.7" fill="#00d9ff"/><path d="M1421.7 1465.7L1390.4 1458.3L1360.3 1451.1L1332 1444.4L1305.7 1438.1L1292.4 1435L1282.5 1437.4L1261.7 1442.3L1238.2 1447.9L1212.5 1454L1184.7 1460.6L1155.3 1467.6L1124.7 1474.9L1093.4 1482.3L1061.9 1489.8L1030.7 1497.2L1000.6 1504.4L983.4 1508.5L996.5 1512.5L1022.4 1520.4L1050.4 1528.9L1080.2 1538L1111.4 1547.5L1143.4 1557.3L1175.8 1567.2L1207.9 1577L1239.1 1586.5L1268.8 1595.6L1291.8 1602.6L1309.3 1597.3L1339.9 1588L1371.3 1578.4L1403.1 1568.7L1434.5 1559.1L1465.1 1549.8L1494.5 1540.9L1522.1 1532.4L1547.7 1524.6L1570.9 1517.6L1591.5 1511.3L1578.5 1502.9L1549.1 1495.9L1518.1 1488.6L1486.2 1481L1453.8 1473.3" fill="#00eaff"/><path d="M1421.8 1463.5L1390.8 1456.1L1361.1 1449.1L1333 1442.5L1307 1436.3L1292.4 1432.9L1280.7 1435.6L1260.1 1440.5L1236.9 1446L1211.4 1452.1L1183.9 1458.6L1154.9 1465.5L1124.6 1472.6L1093.6 1480L1062.5 1487.3L1031.8 1494.6L1002 1501.7L983.3 1506.1L997.6 1510.5L1023.3 1518.3L1051 1526.7L1080.5 1535.7L1111.3 1545L1142.9 1554.7L1174.9 1564.4L1206.6 1574L1237.4 1583.4L1266.7 1592.3L1291.8 1599.9L1310.9 1594.2L1341.1 1585L1372.1 1575.6L1403.5 1566L1434.6 1556.6L1464.9 1547.4L1493.9 1538.6L1521.2 1530.3L1546.5 1522.6L1569.5 1515.6L1589.9 1509.5L1576.7 1500.1L1547.7 1493.2L1517 1486L1485.5 1478.5L1453.5 1471" fill="#00fbff"/><path d="M1421.8 1461.2L1391.2 1454L1361.8 1447.1L1334.1 1440.5L1308.4 1434.5L1292.4 1430.7L1278.9 1433.9L1258.5 1438.7L1235.6 1444.1L1210.3 1450.1L1183.2 1456.5L1154.4 1463.3L1124.5 1470.4L1093.9 1477.6L1063.2 1484.8L1032.8 1492L1003.4 1499L983.1 1503.8L998.8 1508.5L1024.2 1516.2L1051.6 1524.5L1080.8 1533.3L1111.2 1542.6L1142.5 1552L1174 1561.6L1205.3 1571.1L1235.8 1580.3L1264.7 1589.1L1291.4 1597.2L1291.8 1597.3L1312.5 1591L1342.3 1582L1373 1572.7L1403.9 1563.4L1434.6 1554.1L1464.6 1545L1493.3 1536.3L1520.3 1528.2L1545.4 1520.6L1568.1 1513.7L1587.8 1507.5L1574.8 1497.3L1546.2 1490.5L1515.9 1483.4L1484.7 1476L1453.2 1468.6" fill="#00fff2"/><path d="M1421.9 1459L1391.7 1451.9L1362.6 1445.1L1335.2 1438.6L1309.7 1432.6L1292.4 1428.6L1277 1432.2L1256.9 1436.9L1234.2 1442.3L1209.3 1448.1L1182.4 1454.5L1154 1461.1L1124.4 1468.1L1094.2 1475.2L1063.9 1482.3L1033.9 1489.4L1004.9 1496.2L983 1501.4L1000 1506.5L1025.1 1514.1L1052.2 1522.3L1081 1531L1111.1 1540.1L1142 1549.4L1173.2 1558.8L1204.1 1568.1L1234.1 1577.2L1262.6 1585.8L1289 1593.8L1291.8 1594.6L1314.1 1587.9L1343.5 1579.1L1373.8 1569.9L1404.4 1560.7L1434.7 1551.6L1464.3 1542.6L1492.7 1534.1L1519.4 1526L1544.2 1518.6L1566.6 1511.8L1583.7 1505.1L1572.9 1494.4L1544.6 1487.8L1514.8 1480.8L1484 1473.6L1452.9 1466.3" fill="#00ffe1"/><path d="M1422 1456.7L1392.1 1449.8L1363.4 1443L1336.3 1436.7L1311.1 1430.8L1292.4 1426.4L1275.2 1430.5L1255.2 1435.1L1232.8 1440.4L1208.2 1446.2L1181.6 1452.4L1153.5 1459L1124.4 1465.8L1094.5 1472.8L1064.6 1479.8L1035 1486.8L1006.4 1493.5L982.8 1499L1001.2 1504.6L1026 1512L1052.8 1520.1L1081.3 1528.6L1111 1537.6L1141.5 1546.7L1172.3 1556L1202.8 1565.2L1232.4 1574.1L1260.5 1582.5L1286.5 1590.4L1291.8 1592L1315.8 1584.8L1344.8 1576.1L1374.6 1567.1L1404.8 1558L1434.8 1549L1464 1540.2L1492 1531.8L1518.5 1523.9L1542.9 1516.5L1565.2 1509.9L1579.6 1502.7L1570.9 1491.6L1543.1 1485.1L1513.7 1478.2L1483.3 1471.1L1452.5 1463.9" fill="#00ffd0"/><path d="M1422 1454.5L1392.5 1447.6L1364.2 1441L1337.4 1434.8L1312.5 1429L1290.3 1424.8L1273.3 1428.8L1253.6 1433.4L1231.4 1438.5L1207 1444.2L1180.8 1450.3L1153.1 1456.8L1124.3 1463.6L1094.8 1470.4L1065.3 1477.3L1036.1 1484.2L1007.9 1490.7L982.7 1496.6L1002.5 1502.6L1027 1509.9L1053.5 1517.9L1081.6 1526.3L1110.9 1535.1L1141 1544.1L1171.4 1553.2L1201.5 1562.2L1230.7 1571L1258.4 1579.3L1284 1587L1291.8 1589.3L1317.4 1581.6L1346 1573.1L1375.5 1564.3L1405.3 1555.3L1434.9 1546.5L1463.7 1537.9L1491.4 1529.6L1517.5 1521.8L1541.7 1514.5L1563.6 1507.9L1575.4 1500.3L1566.9 1489.4L1541.5 1482.4L1512.5 1475.6L1482.5 1468.6L1452.2 1461.5" fill="#00ffbf"/><path d="M1422.1 1452.2L1393 1445.5L1365 1439L1338.5 1432.8L1314 1427.1L1288.2 1423.1L1271.4 1427L1251.9 1431.6L1230 1436.7L1205.9 1442.3L1180 1448.3L1152.6 1454.7L1124.2 1461.3L1095.1 1468L1066 1474.8L1037.2 1481.5L1009.4 1488L983.1 1494.1L982.5 1494.3L1003.7 1500.6L1028 1507.8L1054.1 1515.6L1081.9 1523.9L1110.8 1532.6L1140.5 1541.5L1170.5 1550.4L1200.1 1559.3L1228.9 1567.8L1256.2 1576L1281.5 1583.5L1292.4 1586.5L1319.1 1578.5L1347.3 1570.1L1376.4 1561.4L1405.8 1552.7L1434.9 1544L1463.4 1535.5L1490.7 1527.3L1516.5 1519.6L1540.4 1512.5L1562.1 1506L1571.1 1497.8L1562.8 1487.1L1539.9 1479.6L1511.3 1473L1481.8 1466.1L1451.8 1459.2" fill="#00ffae"/><path d="M1422.1 1450L1393.4 1443.4L1365.8 1437L1339.7 1430.9L1315.4 1425.3L1287 1421.7L1269.4 1425.3L1250.1 1429.8L1228.5 1434.8L1204.8 1440.3L1179.2 1446.2L1152.2 1452.5L1124.1 1459L1095.5 1465.7L1066.7 1472.3L1038.3 1478.9L1010.9 1485.3L985 1491.3L982.4 1491.9L983.3 1492.2L1005 1498.6L1028.9 1505.7L1054.8 1513.4L1082.2 1521.6L1110.7 1530.1L1140 1538.8L1169.5 1547.6L1198.8 1556.3L1227.1 1564.7L1254 1572.7L1278.9 1580.1L1294.5 1583.2L1320.8 1575.4L1348.6 1567.1L1377.2 1558.6L1406.2 1550L1435 1541.4L1463.1 1533.1L1490.1 1525.1L1515.5 1517.5L1539.1 1510.5L1560.6 1504.1L1566.8 1495.4L1558.7 1484.9L1538.3 1476.9L1510.1 1470.4L1481 1463.6L1451.5 1456.8" fill="#00ff9d"/><path d="M1422.2 1447.8L1393.9 1441.2L1366.6 1434.9L1340.8 1429L1316.9 1423.5L1286.6 1420.4L1267.4 1423.6L1248.4 1428L1227 1432.9L1203.6 1438.4L1178.4 1444.2L1151.7 1450.3L1124 1456.7L1095.8 1463.3L1067.4 1469.8L1039.5 1476.3L1012.5 1482.5L987 1488.4L982.2 1489.5L984.9 1490.3L1006.3 1496.7L1029.9 1503.7L1055.4 1511.2L1082.5 1519.2L1110.6 1527.6L1139.5 1536.1L1168.6 1544.8L1197.4 1553.3L1225.3 1561.6L1251.8 1569.4L1276.3 1576.7L1296.7 1579.9L1322.6 1572.2L1349.9 1564.1L1378.1 1555.7L1406.7 1547.3L1435.1 1538.9L1462.8 1530.7L1489.4 1522.8L1514.5 1515.4L1537.8 1508.5L1559 1502.2L1562.4 1493L1554.5 1482.6L1536.7 1474.1L1508.9 1467.7L1480.2 1461.1L1451.1 1454.4" fill="#00ff8c"/><path d="M1422.2 1445.5L1394.3 1439.1L1367.4 1432.9L1342 1427.1L1318.4 1421.7L1286.1 1419.2L1265.4 1421.9L1246.6 1426.2L1225.5 1431.1L1202.4 1436.4L1177.5 1442.1L1151.2 1448.2L1124 1454.5L1096.1 1460.9L1068.2 1467.3L1040.6 1473.6L1014.1 1479.7L988.9 1485.5L982 1487.1L986.5 1488.4L1007.7 1494.7L1031 1501.6L1056.1 1509L1082.8 1516.9L1110.5 1525.1L1139 1533.5L1167.7 1541.9L1196 1550.3L1223.5 1558.4L1249.6 1566.1L1273.6 1573.3L1298.8 1576.6L1324.3 1569L1351.2 1561.1L1379 1552.9L1407.2 1544.6L1435.1 1536.3L1462.5 1528.3L1488.7 1520.5L1513.5 1513.2L1536.5 1506.4L1557.4 1500.3L1558 1490.6L1550.2 1480.4L1535 1471.4L1507.7 1465.1L1479.4 1458.6L1450.8 1452.1" fill="#00ff7b"/><path d="M1422.3 1443.2L1394.8 1437L1368.3 1430.9L1343.2 1425.2L1320 1419.8L1285.7 1418L1263.3 1420.2L1244.8 1424.4L1224 1429.2L1201.2 1434.4L1176.7 1440.1L1150.8 1446L1123.9 1452.2L1096.5 1458.5L1068.9 1464.8L1041.8 1471L1015.7 1477L991 1482.6L981.9 1484.7L988.1 1486.6L1009 1492.7L1032 1499.5L1056.8 1506.8L1083.1 1514.5L1110.4 1522.6L1138.5 1530.8L1166.7 1539.1L1194.6 1547.3L1221.7 1555.3L1247.3 1562.8L1271 1569.8L1301 1573.2L1326.1 1565.9L1352.6 1558.1L1380 1550L1407.7 1541.9L1435.2 1533.8L1462.1 1525.9L1488 1518.3L1512.4 1511.1L1535.1 1504.4L1555.7 1498.4L1553.4 1488.1L1545.8 1478.1L1533.4 1468.7L1506.5 1462.5L1478.6 1456.1L1450.4 1449.7" fill="#00ff6a"/><path d="M1422.4 1441L1395.3 1434.8L1369.2 1428.9L1344.5 1423.2L1319.3 1418.5L1285.2 1416.8L1261.2 1418.5L1243 1422.7L1222.5 1427.4L1200 1432.5L1175.8 1438L1150.3 1443.8L1123.8 1449.9L1096.8 1456.1L1069.7 1462.2L1043.1 1468.3L1017.3 1474.2L993 1479.8L981.7 1482.3L989.8 1484.7L1010.4 1490.7L1033.1 1497.4L1057.5 1504.6L1083.4 1512.1L1110.3 1520L1137.9 1528.1L1165.7 1536.3L1193.2 1544.3L1219.8 1552.1L1245 1559.5L1268.2 1566.4L1300.4 1569.1L1327.9 1562.7L1354 1555.1L1380.9 1547.2L1408.2 1539.2L1435.3 1531.2L1461.8 1523.5L1487.3 1516L1511.4 1509L1533.7 1502.4L1551.3 1495.8L1548.8 1485.7L1541.4 1475.9L1529.4 1466.5L1505.2 1459.9L1477.8 1453.6L1450 1447.3" fill="#00ff59"/><path d="M1422.4 1438.7L1395.7 1432.7L1370 1426.8L1345.7 1421.3L1318.3 1417.3L1284.8 1415.6L1259.1 1416.8L1241.1 1420.9L1220.9 1425.5L1198.7 1430.5L1174.9 1436L1149.8 1441.7L1123.7 1447.6L1097.2 1453.6L1070.5 1459.7L1044.3 1465.7L1019 1471.4L995.1 1476.9L981.6 1479.9L991.5 1482.8L1011.8 1488.8L1034.2 1495.3L1058.2 1502.3L1083.7 1509.8L1110.2 1517.5L1137.4 1525.5L1164.7 1533.5L1191.7 1541.3L1217.9 1549L1242.6 1556.2L1265.5 1562.9L1299.6 1564.9L1329.8 1559.5L1355.4 1552L1381.8 1544.3L1408.7 1536.5L1435.4 1528.7L1461.5 1521.1L1486.5 1513.7L1510.3 1506.8L1532.3 1500.4L1546.4 1493.2L1544.1 1483.3L1536.9 1473.6L1525.2 1464.4L1503.9 1457.2L1477 1451.1L1449.6 1444.9" fill="#00ff48"/><path d="M1422.5 1436.5L1396.2 1430.5L1370.9 1424.8L1347 1419.4L1317.4 1416.1L1284.3 1414.4L1256.9 1415.1L1239.2 1419.1L1219.3 1423.6L1197.5 1428.6L1174 1433.9L1149.3 1439.5L1123.7 1445.3L1097.5 1451.2L1071.3 1457.2L1045.5 1463L1020.7 1468.7L997.2 1474L981.4 1477.6L993.3 1481L1013.3 1486.8L1035.3 1493.2L1059 1500.1L1084 1507.4L1110.1 1515L1136.9 1522.8L1163.7 1530.6L1190.3 1538.3L1215.9 1545.8L1240.3 1552.9L1262.7 1559.4L1298.7 1560.6L1331.6 1556.3L1356.8 1549L1382.8 1541.4L1409.2 1533.8L1435.4 1526.1L1461.1 1518.7L1485.8 1511.5L1509.2 1504.7L1530.8 1498.4L1541.6 1490.5L1539.3 1480.8L1532.3 1471.4L1520.8 1462.4L1502.6 1454.6L1476.1 1448.6L1449.2 1442.5" fill="#00ff37"/><path d="M1422.5 1434.2L1396.7 1428.4L1371.9 1422.8L1348.2 1417.5L1316.4 1414.9L1283.8 1413.2L1254.7 1413.4L1237.2 1417.4L1217.6 1421.8L1196.2 1426.6L1173.1 1431.8L1148.8 1437.3L1123.6 1443L1097.9 1448.8L1072.1 1454.6L1046.8 1460.4L1022.4 1465.9L999.4 1471.1L981.3 1475.2L995.1 1479.2L1014.8 1484.9L1036.4 1491.1L1059.7 1497.9L1084.4 1505.1L1110.1 1512.5L1136.3 1520.1L1162.7 1527.8L1188.8 1535.3L1214 1542.6L1237.8 1549.6L1259.8 1555.9L1297.8 1556.4L1333.5 1553.1L1358.2 1546L1383.8 1538.6L1409.7 1531L1435.5 1523.6L1460.7 1516.3L1485 1509.2L1508 1502.6L1529.4 1496.4L1536.6 1487.9L1534.4 1478.4L1527.6 1469.1L1516.4 1460.3L1501.2 1452L1475.2 1446.1L1448.8 1440.1" fill="#00ff26"/><path d="M1422.6 1431.9L1397.2 1426.3L1372.8 1420.8L1346.7 1416.3L1315.4 1413.7L1283.3 1412L1252.4 1411.7L1235.2 1415.6L1216 1419.9L1194.8 1424.7L1172.2 1429.8L1148.3 1435.2L1123.5 1440.7L1098.3 1446.4L1073 1452.1L1048.1 1457.7L1024.2 1463.1L1001.6 1468.2L981.1 1472.8L996.9 1477.3L1016.3 1482.9L1037.6 1489.1L1060.5 1495.7L1084.7 1502.7L1110 1510L1135.7 1517.4L1161.7 1524.9L1187.2 1532.3L1212 1539.5L1235.4 1546.2L1256.9 1552.4L1296.9 1552.1L1335.5 1549.9L1359.7 1542.9L1384.8 1535.7L1410.2 1528.3L1435.6 1521L1460.4 1513.9L1484.3 1507L1506.9 1500.4L1527.9 1494.4L1531.5 1485.2L1529.5 1475.9L1522.8 1466.9L1511.9 1458.2L1497 1450.1L1474.4 1443.6L1448.4 1437.8" fill="#00ff15"/><path d="M1422.6 1429.7L1397.7 1424.1L1373.7 1418.8L1345.1 1415L1314.3 1412.5L1282.8 1410.9L1250.9 1410.2L1233.2 1413.8L1214.3 1418.1L1193.5 1422.7L1171.2 1427.7L1147.7 1433L1123.4 1438.4L1098.6 1444L1073.8 1449.5L1049.5 1455L1026 1460.3L1003.8 1465.2L984.3 1470L998.8 1475.5L1017.8 1481L1038.7 1487L1061.3 1493.5L1085.1 1500.3L1109.9 1507.5L1135.2 1514.7L1160.6 1522.1L1185.7 1529.3L1209.9 1536.3L1232.9 1542.9L1256.5 1548.2L1296 1547.8L1334.6 1545.9L1361.2 1539.9L1385.8 1532.8L1410.8 1525.6L1435.6 1518.5L1460 1511.4L1483.5 1504.7L1505.7 1498.3L1523.5 1491.7L1526.3 1482.6L1524.4 1473.5L1518 1464.6L1507.3 1456.2L1492.7 1448.2L1473.4 1441L1448 1435.4" fill="#00ff04"/><path d="M1422.7 1427.4L1398.3 1422L1372.7 1417.2L1343.5 1413.8L1313.3 1411.3L1282.3 1409.8L1251 1409.1L1231.1 1412.1L1212.5 1416.2L1192.1 1420.8L1170.2 1425.7L1147.2 1430.8L1123.3 1436.1L1099 1441.6L1074.7 1447L1050.8 1452.3L1027.8 1457.5L1006.1 1462.3L989.4 1467.7L1000.7 1473.6L1019.4 1479L1039.9 1484.9L1062.1 1491.3L1085.5 1498L1109.8 1504.9L1134.6 1512L1159.5 1519.2L1184.1 1526.2L1207.9 1533.1L1230.3 1539.5L1256.4 1543.9L1295.1 1543.5L1332.8 1541.6L1362.7 1536.8L1386.8 1529.9L1411.3 1522.9L1435.7 1515.9L1459.6 1509L1482.6 1502.4L1504.5 1496.2L1518.2 1488.8L1521 1479.9L1519.2 1471L1513 1462.4L1502.6 1454.1L1488.3 1446.3L1470.6 1439L1447.6 1433" fill="#0dff00"/><path d="M1422.7 1425.1L1397.7 1420.1L1370.5 1415.9L1341.9 1412.6L1312.2 1410.2L1281.7 1408.6L1251 1408L1229 1410.3L1210.7 1414.4L1190.7 1418.8L1169.3 1423.6L1146.7 1428.6L1123.3 1433.8L1099.4 1439.1L1075.6 1444.4L1052.2 1449.6L1029.7 1454.7L1008.4 1459.4L994.5 1465.3L1002.6 1471.8L1021 1477.1L1041.2 1482.8L1062.9 1489L1085.8 1495.6L1109.7 1502.4L1134 1509.3L1158.4 1516.3L1182.5 1523.2L1205.8 1529.8L1227.7 1536.1L1256.4 1539.6L1294.1 1539.2L1331.1 1537.4L1364.3 1533.7L1387.9 1527L1411.9 1520.1L1435.8 1513.3L1459.2 1506.6L1481.8 1500.2L1503.2 1494.1L1512.7 1485.9L1515.6 1477.2L1513.9 1468.6L1507.9 1460.1L1497.7 1452L1483.8 1444.4L1466.5 1437.3L1446.1 1430.8" fill="#1eff00"/><path d="M1419.7 1423.6L1395 1418.7L1368.3 1414.7L1340.2 1411.4L1311 1409L1281.2 1407.5L1251 1406.9L1226.8 1408.6L1208.9 1412.6L1189.3 1416.9L1168.2 1421.6L1146.1 1426.5L1123.2 1431.5L1099.9 1436.7L1076.5 1441.9L1053.6 1446.9L1031.6 1451.8L1010.8 1456.4L999.8 1462.9L1004.6 1470L1022.7 1475.1L1042.5 1480.8L1063.8 1486.8L1086.2 1493.2L1109.6 1499.9L1133.4 1506.6L1157.3 1513.4L1180.9 1520.1L1203.6 1526.6L1225.1 1532.7L1256.3 1535.2L1293.2 1534.8L1329.3 1533.1L1363.6 1530.1L1389 1524.1L1412.4 1517.4L1435.9 1510.8L1458.8 1504.2L1481 1497.9L1499.7 1491.4L1507.2 1483.1L1510.1 1474.6L1508.5 1466.1L1502.7 1457.9L1492.8 1450L1479.2 1442.5L1462.3 1435.6L1442.3 1429.2" fill="#2fff00"/><path d="M1416.4 1422.2L1392.1 1417.4L1366 1413.4L1338.5 1410.3L1309.9 1407.9L1280.6 1406.4L1251 1405.8L1224.6 1406.8L1207 1410.7L1187.8 1415L1167.2 1419.5L1145.5 1424.3L1123.1 1429.2L1100.3 1434.3L1077.5 1439.3L1055.1 1444.2L1033.5 1449L1013.2 1453.5L1005.2 1460.5L1006.7 1468.2L1024.4 1473.2L1043.8 1478.7L1064.6 1484.6L1086.6 1490.9L1109.5 1497.3L1132.8 1503.9L1156.2 1510.6L1179.2 1517.1L1201.4 1523.4L1222.4 1529.3L1256.2 1530.9L1292.2 1530.5L1327.4 1528.8L1361 1525.8L1390.1 1521.2L1413 1514.7L1435.9 1508.2L1458.4 1501.8L1480.1 1495.7L1494.2 1488.3L1501.6 1480.2L1504.5 1471.9L1503 1463.7L1497.3 1455.6L1487.7 1447.9L1474.5 1440.6L1457.9 1433.9L1438.5 1427.7" fill="#40ff00"/><path d="M1412.9 1420.8L1389.2 1416.1L1363.6 1412.2L1336.7 1409.1L1308.7 1406.8L1280 1405.4L1251.1 1404.8L1222.3 1405.1L1205.1 1408.9L1186.3 1413L1166.2 1417.5L1144.9 1422.1L1123 1426.9L1100.7 1431.8L1078.4 1436.7L1056.6 1441.5L1035.5 1446.2L1015.7 1450.5L1010.8 1458.2L1010.1 1466.1L1026.1 1471.3L1045.1 1476.6L1065.5 1482.4L1087 1488.5L1109.4 1494.8L1132.2 1501.2L1155 1507.7L1177.5 1514L1199.1 1520.1L1220.9 1525.6L1256.1 1526.5L1291.2 1526.1L1325.6 1524.4L1358.3 1521.6L1388.8 1517.6L1413.6 1511.9L1436 1505.6L1458 1499.4L1476.8 1492.8L1488.5 1485.2L1495.8 1477.2L1498.7 1469.2L1497.4 1461.2L1491.9 1453.4L1482.6 1445.9L1469.7 1438.8L1453.5 1432.1L1434.5 1426.1" fill="#51ff00"/><path d="M1409.4 1419.4L1386.2 1414.8L1361.2 1411L1334.9 1408L1307.5 1405.8L1279.4 1404.3L1251.1 1403.8L1222.8 1404L1203.2 1407.1L1184.8 1411.1L1165.1 1415.4L1144.4 1419.9L1122.9 1424.6L1101.2 1429.4L1079.4 1434.2L1058.1 1438.8L1037.6 1443.3L1021.1 1448.3L1016.5 1455.8L1015.9 1463.5L1027.9 1469.4L1046.5 1474.6L1066.4 1480.2L1087.5 1486.1L1109.3 1492.3L1131.5 1498.5L1153.8 1504.8L1175.7 1510.9L1196.8 1516.9L1221.7 1521.2L1256 1522L1290.2 1521.7L1323.7 1520.1L1355.6 1517.3L1385.3 1513.5L1412.1 1508.6L1435.7 1502.9L1455.4 1496.5L1471.2 1489.5L1482.7 1482L1489.9 1474.3L1492.8 1466.5L1491.5 1458.7L1486.3 1451.1L1477.2 1443.8L1464.7 1436.9L1449 1430.5L1430.4 1424.6" fill="#62ff00"/><path d="M1405.7 1418L1383.1 1413.5L1358.7 1409.8L1333 1406.9L1306.2 1404.7L1278.8 1403.3L1251.1 1402.8L1223.5 1403L1201.2 1405.2L1183.2 1409.2L1164 1413.4L1143.7 1417.8L1122.9 1422.3L1101.6 1426.9L1080.4 1431.6L1059.7 1436.1L1039.7 1440.5L1026.7 1446.1L1022.3 1453.4L1021.8 1460.9L1029.8 1467.5L1047.9 1472.5L1067.4 1478L1087.9 1483.8L1109.2 1489.7L1130.9 1495.8L1152.6 1501.9L1173.9 1507.8L1194.5 1513.6L1222.6 1516.8L1255.9 1517.6L1289.2 1517.2L1321.7 1515.7L1352.8 1513L1381.7 1509.3L1407.8 1504.6L1430.8 1499.1L1450.1 1492.9L1465.5 1486.1L1476.7 1478.9L1483.8 1471.4L1486.7 1463.8L1485.6 1456.3L1480.5 1448.9L1471.8 1441.8L1459.6 1435L1444.3 1428.8L1426.2 1423.1" fill="#74ff00"/><path d="M1401.9 1416.6L1379.9 1412.3L1356.1 1408.7L1331 1405.8L1304.9 1403.7L1278.2 1402.3L1251.1 1401.8L1224.2 1402L1199.1 1403.4L1181.6 1407.2L1162.8 1411.3L1143.1 1415.6L1122.8 1420L1102.1 1424.5L1081.5 1429L1061.3 1433.4L1041.9 1437.6L1032.6 1444L1028.3 1451L1027.9 1458.3L1031.7 1465.6L1049.4 1470.5L1068.4 1475.8L1088.4 1481.4L1109.1 1487.2L1130.2 1493.1L1151.3 1499L1172.1 1504.7L1192.1 1510.3L1223.4 1512.3L1255.8 1513.1L1288.1 1512.8L1319.7 1511.3L1349.9 1508.7L1378 1505.1L1403.4 1500.6L1425.8 1495.3L1444.6 1489.2L1459.6 1482.7L1470.6 1475.7L1477.6 1468.5L1480.5 1461.1L1479.5 1453.8L1474.6 1446.6L1466.1 1439.7L1454.3 1433.2L1439.5 1427.1L1421.9 1421.5" fill="#85ff00"/><path d="M1398 1415.2L1376.6 1411L1353.5 1407.5L1329 1404.7L1303.6 1402.7L1277.5 1401.4L1251.2 1400.9L1224.9 1401.1L1199 1402.1L1179.9 1405.3L1161.6 1409.3L1142.5 1413.4L1122.7 1417.7L1102.6 1422L1082.6 1426.4L1062.9 1430.6L1046.1 1435.2L1038.6 1441.8L1034.5 1448.6L1034.2 1455.7L1037.6 1462.8L1050.9 1468.5L1069.4 1473.6L1088.8 1479L1109 1484.6L1129.5 1490.3L1150 1496L1170.2 1501.6L1193.6 1506L1224.3 1507.8L1255.7 1508.6L1287 1508.3L1317.7 1506.9L1346.9 1504.4L1374.2 1500.9L1398.9 1496.6L1420.6 1491.4L1438.9 1485.6L1453.6 1479.2L1464.4 1472.5L1471.2 1465.5L1474.1 1458.4L1473.2 1451.3L1468.5 1444.4L1460.3 1437.7L1448.9 1431.4L1434.5 1425.4L1417.4 1420" fill="#96ff00"/><path d="M1394 1413.9L1373.1 1409.8L1350.7 1406.4L1326.9 1403.7L1302.2 1401.7L1276.9 1400.5L1251.2 1399.9L1225.6 1400.2L1200.4 1401.2L1178.2 1403.4L1160.4 1407.2L1141.8 1411.2L1122.6 1415.4L1103.1 1419.6L1083.7 1423.8L1064.7 1427.9L1052 1433.3L1044.8 1439.6L1040.9 1446.3L1040.6 1453.1L1044.1 1459.9L1052.5 1466.4L1070.4 1471.4L1089.3 1476.7L1108.9 1482.1L1128.8 1487.6L1148.7 1493.1L1168.2 1498.5L1195.5 1501.6L1225.2 1503.3L1255.6 1504.1L1285.9 1503.7L1315.6 1502.4L1343.9 1500L1370.3 1496.7L1394.3 1492.5L1415.4 1487.5L1433.2 1481.9L1447.4 1475.8L1457.9 1469.3L1464.6 1462.6L1467.5 1455.7L1466.7 1448.9L1462.2 1442.1L1454.3 1435.7L1443.3 1429.5L1429.4 1423.8L1412.8 1418.6" fill="#a7ff00"/><path d="M1389.8 1412.6L1369.6 1408.7L1347.8 1405.4L1324.8 1402.7L1300.8 1400.8L1276.2 1399.6L1251.3 1399.1L1226.4 1399.3L1201.9 1400.3L1178.2 1401.9L1159.2 1405.2L1141.1 1409.1L1122.5 1413.1L1103.7 1417.1L1084.8 1421.2L1068.2 1425.6L1058.1 1431.3L1051.2 1437.5L1047.5 1443.9L1047.3 1450.4L1050.7 1457.1L1057.8 1463.6L1071.5 1469.2L1089.8 1474.3L1108.8 1479.5L1128.1 1484.8L1147.3 1490.1L1169.9 1494.4L1197.4 1497.1L1226.1 1498.8L1255.5 1499.5L1284.8 1499.2L1313.4 1497.9L1340.8 1495.6L1366.4 1492.4L1389.6 1488.4L1410 1483.6L1427.2 1478.2L1441 1472.3L1451.3 1466.1L1457.8 1459.6L1460.7 1453L1459.9 1446.4L1455.7 1439.9L1448.1 1433.6L1437.5 1427.7L1424 1422.2L1408 1417.1" fill="#b8ff00"/><path d="M1385.4 1411.3L1365.9 1407.5L1344.8 1404.3L1322.5 1401.8L1299.3 1399.9L1275.4 1398.7L1251.3 1398.2L1227.2 1398.5L1203.5 1399.4L1180.5 1401L1158.4 1403.3L1140.4 1406.9L1122.5 1410.7L1104.2 1414.6L1086.6 1418.7L1074.2 1423.8L1064.5 1429.4L1057.8 1435.3L1054.4 1441.5L1054.2 1447.8L1057.6 1454.2L1064.5 1460.5L1074.8 1466.6L1090.4 1471.9L1108.7 1477L1127.3 1482.1L1148.1 1486.7L1172.9 1490L1199.4 1492.6L1227.1 1494.2L1255.4 1494.9L1283.6 1494.6L1311.2 1493.3L1337.6 1491.1L1362.3 1488.1L1384.7 1484.2L1404.4 1479.6L1421 1474.5L1434.4 1468.8L1444.4 1462.8L1450.8 1456.6L1453.6 1450.2L1453 1443.9L1449 1437.7L1441.7 1431.6L1431.5 1425.9L1418.5 1420.6L1403.1 1415.7" fill="#c9ff00"/><path d="M1380.9 1410.1L1362.1 1406.4L1341.7 1403.3L1320.2 1400.9L1297.7 1399.1L1274.7 1397.9L1251.3 1397.5L1228.1 1397.7L1205.1 1398.6L1182.9 1400.1L1161.6 1402.3L1141.6 1405.2L1123.2 1408.6L1106.7 1412.6L1092.3 1417.2L1080.4 1422.1L1071.1 1427.5L1064.7 1433.2L1061.5 1439.1L1061.4 1445.2L1064.7 1451.3L1071.4 1457.3L1081.4 1463.1L1094.8 1468.7L1111.2 1473.8L1130.4 1478.4L1152.1 1482.4L1176 1485.6L1201.5 1488L1228.1 1489.6L1255.3 1490.2L1282.4 1489.9L1309 1488.7L1334.3 1486.6L1358.1 1483.7L1379.6 1480L1398.6 1475.7L1414.7 1470.7L1427.6 1465.3L1437.3 1459.6L1443.5 1453.6L1446.3 1447.5L1445.8 1441.4L1442 1435.4L1435.1 1429.6L1425.2 1424.1L1412.8 1419L1397.9 1414.3" fill="#daff00"/><path d="M1376.2 1408.9L1358.1 1405.3L1338.5 1402.4L1317.7 1400L1296.1 1398.3L1273.9 1397.2L1251.4 1396.7L1228.9 1396.9L1206.9 1397.8L1185.4 1399.3L1164.9 1401.4L1145.7 1404.2L1128 1407.5L1112.1 1411.3L1098.3 1415.7L1086.8 1420.4L1078 1425.6L1071.9 1431L1068.8 1436.7L1068.9 1442.5L1072.1 1448.3L1078.6 1454.1L1088.3 1459.7L1101.1 1465L1116.9 1469.9L1135.4 1474.2L1156.3 1478L1179.2 1481.1L1203.6 1483.4L1229.1 1484.9L1255.1 1485.5L1281.2 1485.2L1306.6 1484.1L1330.9 1482.1L1353.7 1479.3L1374.4 1475.8L1392.6 1471.6L1408.1 1466.9L1420.6 1461.8L1429.9 1456.3L1435.9 1450.6L1438.7 1444.8L1438.3 1438.9L1434.7 1433.2L1428.1 1427.6L1418.7 1422.4L1406.8 1417.4L1392.5 1412.9" fill="#ebff00"/><path d="M1371.2 1407.7L1353.9 1404.3L1335.1 1401.5L1315.1 1399.2L1294.4 1397.6L1273 1396.5L1251.4 1396.1L1229.9 1396.3L1208.7 1397.1L1188.1 1398.5L1168.4 1400.6L1149.9 1403.2L1133 1406.4L1117.7 1410.1L1104.5 1414.2L1093.6 1418.8L1085.2 1423.7L1079.4 1428.9L1076.6 1434.3L1076.7 1439.9L1079.9 1445.4L1086.1 1450.9L1095.5 1456.2L1107.8 1461.2L1122.9 1465.9L1140.6 1470L1160.6 1473.6L1182.5 1476.5L1205.8 1478.7L1230.2 1480.1L1255 1480.7L1279.9 1480.4L1304.2 1479.3L1327.4 1477.5L1349.1 1474.8L1368.9 1471.5L1386.4 1467.5L1401.2 1463.1L1413.2 1458.2L1422.2 1453L1428.1 1447.5L1430.8 1442L1430.4 1436.4L1427.1 1431L1420.8 1425.7L1411.9 1420.6L1400.5 1415.9L1386.8 1411.6" fill="#fcff00"/><path d="M1366 1406.6L1349.4 1403.4L1331.5 1400.7L1312.4 1398.5L1292.6 1396.9L1272.1 1395.9L1251.5 1395.5L1230.9 1395.7L1210.6 1396.5L1190.9 1397.8L1172.1 1399.8L1154.4 1402.3L1138.2 1405.3L1123.7 1408.8L1111.1 1412.8L1100.7 1417.1L1092.8 1421.8L1087.3 1426.8L1084.7 1431.9L1084.8 1437.2L1087.9 1442.5L1094 1447.7L1103 1452.7L1114.8 1457.4L1129.2 1461.8L1146.1 1465.8L1165.1 1469.1L1185.9 1471.9L1208.1 1474L1231.3 1475.3L1254.9 1475.8L1278.5 1475.6L1301.6 1474.6L1323.7 1472.8L1344.4 1470.3L1363.2 1467.1L1379.9 1463.4L1394.1 1459.2L1405.6 1454.6L1414.2 1449.6L1419.8 1444.5L1422.5 1439.2L1422.2 1433.9L1419.1 1428.7L1413.2 1423.7L1404.7 1418.9L1393.9 1414.4L1380.9 1410.3" fill="#fff100"/><path d="M1360.5 1405.5L1344.7 1402.5L1327.7 1399.9L1309.6 1397.8L1290.6 1396.3L1271.2 1395.4L1251.5 1395L1231.9 1395.1L1212.6 1395.9L1193.8 1397.2L1175.9 1399.1L1159.2 1401.4L1143.8 1404.3L1130 1407.7L1118.1 1411.4L1108.3 1415.5L1100.7 1420L1095.7 1424.7L1093.2 1429.5L1093.4 1434.5L1096.4 1439.5L1102.3 1444.4L1110.8 1449.1L1122 1453.6L1135.8 1457.7L1151.8 1461.4L1169.8 1464.6L1189.5 1467.2L1210.5 1469.1L1232.4 1470.4L1254.8 1470.9L1277.1 1470.6L1299 1469.7L1319.9 1468L1339.5 1465.7L1357.3 1462.7L1373.1 1459.2L1386.6 1455.2L1397.5 1450.9L1405.7 1446.2L1411.2 1441.4L1413.8 1436.4L1413.6 1431.4L1410.7 1426.5L1405.1 1421.7L1397.2 1417.2L1386.9 1412.9L1374.6 1409" fill="#ffe000"/><path d="M1354.6 1404.5L1339.7 1401.6L1323.6 1399.2L1306.5 1397.3L1288.6 1395.8L1270.2 1394.9L1251.6 1394.6L1233 1394.7L1214.7 1395.4L1197 1396.7L1180.1 1398.4L1164.2 1400.7L1149.7 1403.4L1136.7 1406.5L1125.5 1410.1L1116.3 1414L1109.2 1418.2L1104.5 1422.6L1102.2 1427.2L1102.5 1431.8L1105.4 1436.5L1111 1441.1L1119.1 1445.5L1129.7 1449.7L1142.7 1453.6L1157.8 1457L1174.8 1460L1193.3 1462.4L1213.1 1464.2L1233.7 1465.4L1254.7 1465.8L1275.6 1465.6L1296.2 1464.7L1315.8 1463.2L1334.3 1461L1351.1 1458.2L1366 1455L1378.7 1451.2L1389 1447.2L1396.8 1442.8L1402 1438.3L1404.5 1433.6L1404.4 1428.9L1401.8 1424.3L1396.6 1419.8L1389.1 1415.5L1379.5 1411.5L1367.9 1407.8" fill="#ffcf00"/><path d="M1348.3 1403.6L1334.4 1400.9L1319.3 1398.6L1303.2 1396.8L1286.4 1395.5L1269.2 1394.6L1251.7 1394.3L1234.2 1394.4L1217 1395.1L1200.4 1396.3L1184.5 1397.9L1169.6 1400L1156 1402.6L1143.9 1405.5L1133.4 1408.8L1124.8 1412.5L1118.3 1416.4L1113.9 1420.5L1111.9 1424.8L1112.2 1429.1L1115 1433.5L1120.2 1437.7L1127.9 1441.8L1137.9 1445.7L1150 1449.3L1164.2 1452.5L1180 1455.3L1197.3 1457.5L1215.8 1459.2L1235 1460.2L1254.5 1460.7L1274.1 1460.5L1293.2 1459.6L1311.6 1458.2L1328.8 1456.2L1344.5 1453.6L1358.4 1450.6L1370.3 1447.2L1380 1443.4L1387.4 1439.3L1392.3 1435.1L1394.7 1430.8L1394.7 1426.4L1392.3 1422.1L1387.5 1417.9L1380.6 1413.9L1371.6 1410.2L1360.8 1406.7" fill="#ffbe00"/><path d="M1341.5 1402.8L1328.6 1400.3L1314.6 1398.2L1299.7 1396.5L1284.1 1395.2L1268 1394.5L1251.7 1394.1L1235.5 1394.3L1219.5 1394.9L1204.1 1396L1189.3 1397.5L1175.5 1399.5L1162.9 1401.8L1151.6 1404.6L1142 1407.6L1134 1411L1128 1414.6L1124.1 1418.4L1122.2 1422.4L1122.6 1426.4L1125.3 1430.4L1130.2 1434.3L1137.3 1438.1L1146.6 1441.7L1157.9 1445L1171 1447.9L1185.6 1450.4L1201.6 1452.4L1218.6 1454L1236.3 1454.9L1254.4 1455.3L1272.4 1455.2L1290.1 1454.4L1307 1453.1L1322.9 1451.2L1337.4 1448.9L1350.3 1446.1L1361.3 1443L1370.4 1439.5L1377.2 1435.8L1381.8 1431.9L1384.2 1427.9L1384.2 1423.9L1382 1419.9L1377.7 1416L1371.3 1412.3L1363 1408.9L1353 1405.7" fill="#ffad00"/><path d="M1334.1 1402.1L1322.3 1399.8L1309.4 1397.9L1295.8 1396.4L1281.5 1395.2L1266.7 1394.5L1251.8 1394.2L1236.9 1394.3L1222.3 1394.9L1208.1 1395.9L1194.6 1397.3L1182 1399.1L1170.4 1401.2L1160.2 1403.7L1151.3 1406.6L1144.1 1409.6L1138.7 1412.9L1135.1 1416.4L1133.5 1420L1134 1423.6L1136.4 1427.3L1141 1430.8L1147.6 1434.3L1156.1 1437.5L1166.4 1440.5L1178.3 1443.1L1191.7 1445.4L1206.3 1447.2L1221.7 1448.6L1237.8 1449.5L1254.2 1449.8L1270.6 1449.7L1286.7 1449L1302.1 1447.8L1316.5 1446.1L1329.8 1444L1341.5 1441.5L1351.6 1438.7L1359.9 1435.5L1366.2 1432.2L1370.5 1428.6L1372.7 1425L1372.8 1421.4L1370.9 1417.7L1367 1414.2L1361.2 1410.9L1353.7 1407.7L1344.6 1404.8" fill="#ff9c00"/><path d="M1325.8 1401.6L1315.2 1399.6L1303.7 1397.8L1291.4 1396.4L1278.6 1395.4L1265.3 1394.8L1251.9 1394.5L1238.5 1394.6L1225.4 1395.1L1212.6 1396L1200.5 1397.3L1189.2 1398.9L1178.8 1400.8L1169.6 1403.1L1161.8 1405.6L1155.4 1408.4L1150.5 1411.3L1147.4 1414.4L1146 1417.6L1146.5 1420.8L1148.8 1424.1L1152.9 1427.2L1158.9 1430.3L1166.5 1433.2L1175.7 1435.8L1186.4 1438.1L1198.4 1440.1L1211.3 1441.7L1225.1 1443L1239.5 1443.7L1254.1 1444.1L1268.7 1443.9L1283 1443.3L1296.7 1442.3L1309.6 1440.8L1321.4 1438.9L1331.9 1436.7L1340.9 1434.2L1348.4 1431.4L1354.1 1428.4L1357.9 1425.3L1360 1422.1L1360.2 1418.8L1358.5 1415.6L1355.1 1412.5L1350 1409.4L1343.3 1406.6L1335.2 1404" fill="#ff8b00"/><path d="M1316.2 1401.4L1307.1 1399.6L1297.1 1398.1L1286.4 1396.9L1275.2 1396L1263.7 1395.4L1252 1395.2L1240.4 1395.3L1228.9 1395.7L1217.8 1396.5L1207.2 1397.6L1197.4 1399L1188.4 1400.7L1180.5 1402.7L1173.7 1404.8L1168.2 1407.2L1164 1409.8L1161.4 1412.5L1160.3 1415.2L1160.7 1418L1162.8 1420.8L1166.5 1423.5L1171.6 1426.1L1178.3 1428.6L1186.3 1430.8L1195.5 1432.8L1205.9 1434.6L1217.1 1435.9L1229 1437L1241.3 1437.6L1253.9 1437.9L1266.5 1437.8L1278.8 1437.3L1290.6 1436.4L1301.7 1435.1L1311.9 1433.5L1321 1431.6L1328.9 1429.5L1335.3 1427.1L1340.3 1424.5L1343.8 1421.8L1345.6 1419.1L1345.8 1416.3L1344.4 1413.5L1341.5 1410.8L1337.2 1408.2L1331.4 1405.7L1324.4 1403.4" fill="#ff7a00"/><path d="M1304.9 1401.6L1297.4 1400.1L1289.2 1398.8L1280.4 1397.8L1271.3 1397.1L1261.8 1396.6L1252.2 1396.4L1242.6 1396.5L1233.1 1396.9L1224 1397.5L1215.4 1398.4L1207.3 1399.6L1200 1401L1193.5 1402.6L1187.9 1404.4L1183.5 1406.3L1180.2 1408.4L1178.1 1410.6L1177.2 1412.9L1177.7 1415.1L1179.4 1417.4L1182.4 1419.6L1186.7 1421.7L1192.2 1423.7L1198.7 1425.5L1206.3 1427.1L1214.7 1428.5L1223.8 1429.6L1233.5 1430.4L1243.5 1431L1253.7 1431.2L1263.9 1431.1L1273.9 1430.7L1283.5 1430L1292.5 1429L1300.8 1427.7L1308.3 1426.1L1314.7 1424.4L1320 1422.5L1324.1 1420.4L1327 1418.2L1328.5 1416L1328.8 1413.7L1327.7 1411.5L1325.4 1409.2L1321.9 1407.1L1317.2 1405.1L1311.5 1403.2" fill="#ff6900"/><path d="M1289.9 1402.5L1284.6 1401.5L1278.8 1400.6L1272.5 1399.9L1266 1399.3L1259.2 1399L1252.4 1398.9L1245.5 1398.9L1238.8 1399.2L1232.3 1399.6L1226.1 1400.3L1220.4 1401.1L1215.2 1402.1L1210.6 1403.2L1206.7 1404.5L1203.6 1405.9L1201.3 1407.4L1199.9 1408.9L1199.3 1410.5L1199.7 1412.1L1201 1413.7L1203.2 1415.3L1206.3 1416.7L1210.1 1418.1L1214.8 1419.4L1220.1 1420.5L1226.1 1421.5L1232.5 1422.2L1239.3 1422.8L1246.3 1423.2L1253.4 1423.3L1260.6 1423.2L1267.6 1423L1274.3 1422.5L1280.7 1421.8L1286.5 1420.9L1291.8 1419.8L1296.3 1418.6L1300.1 1417.3L1303.1 1415.8L1305.1 1414.3L1306.3 1412.7L1306.5 1411.1L1305.9 1409.5L1304.3 1408L1301.8 1406.5L1298.6 1405L1294.6 1403.7" fill="#ff5800"/></g>
<g fill="none" stroke="#000" stroke-width="1" stroke-opacity="0.66" shape-rendering="crispEdges"><path d="M1291.8 1580Q1248.1 1543.1 1205.7 1518Q1164.5 1493.6 1124.9 1480.5Q1086.5 1467.8 1049.9 1465.8Q1014.6 1463.8 981.1 1471.8"/><path d="M1291.8 1580Q1335.5 1546.4 1377.9 1525.7Q1419 1505.6 1458.5 1497.9Q1496.7 1490.4 1533 1494.5Q1568 1498.4 1601 1513.1"/><path d="M1295.7 1577.1Q1252 1540.3 1209.5 1515.2Q1168.4 1490.8 1128.7 1477.8Q1090.3 1465.2 1053.7 1463.2Q1018.3 1461.3 984.8 1469.4"/><path d="M1288 1576.8Q1331.7 1543.3 1374.1 1522.6Q1415.2 1502.6 1454.7 1494.9Q1492.9 1487.5 1529.3 1491.6Q1564.3 1495.6 1597.4 1510.3"/><path d="M1299.5 1574.2Q1255.8 1537.5 1213.4 1512.5Q1172.2 1488.2 1132.5 1475.2Q1094.1 1462.6 1057.4 1460.7Q1022 1458.9 988.5 1467"/><path d="M1284.1 1573.6Q1327.9 1540.2 1370.3 1519.6Q1411.4 1499.7 1450.9 1492Q1489.1 1484.7 1525.5 1488.9Q1560.6 1492.9 1593.7 1507.6"/><path d="M1303.3 1571.4Q1259.6 1534.7 1217.2 1509.8Q1176 1485.6 1136.3 1472.6Q1097.9 1460.1 1061.2 1458.2Q1025.8 1456.4 992.2 1464.6"/><path d="M1280.3 1570.5Q1324 1537.1 1366.5 1516.6Q1407.6 1496.7 1447.2 1489.2Q1485.4 1481.9 1521.8 1486.1Q1556.9 1490.2 1590.1 1504.9"/><path d="M1307.2 1568.6Q1263.5 1532 1221 1507.1Q1179.8 1483 1140.1 1470.1Q1101.7 1457.6 1064.9 1455.8Q1029.5 1454.1 995.8 1462.3"/><path d="M1276.5 1567.4Q1320.2 1534.1 1362.7 1513.7Q1403.8 1493.9 1443.4 1486.4Q1481.6 1479.1 1518.1 1483.4Q1553.2 1487.5 1586.4 1502.3"/><path d="M1311 1565.9Q1267.3 1529.4 1224.8 1504.6Q1183.6 1480.5 1143.9 1467.7Q1105.4 1455.2 1068.7 1453.5Q1033.2 1451.8 999.5 1460"/><path d="M1272.7 1564.4Q1316.4 1531.1 1358.9 1510.8Q1400 1491.1 1439.6 1483.6Q1477.9 1476.4 1514.4 1480.7Q1549.5 1484.9 1582.8 1499.7"/><path d="M1314.8 1563.2Q1271.1 1526.8 1228.6 1502Q1187.4 1478 1147.7 1465.2Q1109.2 1452.9 1072.4 1451.2Q1036.9 1449.5 1003.2 1457.7"/><path d="M1268.9 1561.4Q1312.6 1528.2 1355.1 1508Q1396.2 1488.3 1435.9 1480.9Q1474.2 1473.7 1510.7 1478.1Q1545.9 1482.3 1579.2 1497.2"/><path d="M1318.6 1560.6Q1274.9 1524.2 1232.4 1499.6Q1191.2 1475.6 1151.4 1462.9Q1113 1450.6 1076.1 1448.9Q1040.6 1447.3 1006.9 1455.5"/><path d="M1265.1 1558.5Q1308.8 1525.4 1351.3 1505.2Q1392.5 1485.5 1432.1 1478.2Q1470.4 1471.1 1507 1475.5Q1542.2 1479.8 1575.5 1494.7"/><path d="M1322.3 1558Q1278.7 1521.7 1236.2 1497.1Q1195 1473.2 1155.2 1460.6Q1116.7 1448.3 1079.9 1446.7Q1044.3 1445.1 1010.5 1453.4"/><path d="M1261.3 1555.6Q1305 1522.6 1347.5 1502.4Q1388.7 1482.9 1428.4 1475.6Q1466.7 1468.5 1503.3 1473Q1538.5 1477.3 1571.9 1492.2"/><path d="M1326.1 1555.5Q1282.5 1519.3 1240 1494.7Q1198.7 1470.9 1159 1458.3Q1120.4 1446.1 1083.6 1444.5Q1048 1443 1014.2 1451.3"/><path d="M1257.5 1552.7Q1301.3 1519.8 1343.7 1499.7Q1385 1480.2 1424.6 1473Q1463 1466 1499.6 1470.5Q1534.9 1474.8 1568.3 1489.8"/><path d="M1329.9 1553Q1286.2 1516.9 1243.8 1492.4Q1202.5 1468.7 1162.7 1456.1Q1124.2 1443.9 1087.3 1442.4Q1051.7 1440.9 1017.8 1449.2"/><path d="M1253.8 1549.9Q1297.5 1517.1 1340 1497.1Q1381.2 1477.6 1420.9 1470.5Q1459.3 1463.5 1495.9 1468.1Q1531.2 1472.4 1564.7 1487.5"/><path d="M1333.6 1550.6Q1290 1514.6 1247.5 1490.2Q1206.3 1466.4 1166.4 1453.9Q1127.9 1441.8 1091 1440.3Q1055.3 1438.8 1021.5 1447.2"/><path d="M1250 1547.2Q1293.7 1514.4 1336.2 1494.5Q1377.5 1475.1 1417.2 1468Q1455.6 1461.1 1492.3 1465.7Q1527.6 1470.1 1561.1 1485.1"/><path d="M1337.4 1548.3Q1293.7 1512.3 1251.3 1487.9Q1210 1464.3 1170.2 1451.8Q1131.6 1439.8 1094.7 1438.3Q1059 1436.8 1025.1 1445.3"/><path d="M1246.3 1544.5Q1290 1511.8 1332.5 1491.9Q1373.7 1472.6 1413.5 1465.5Q1451.9 1458.7 1488.6 1463.3Q1524 1467.8 1557.5 1482.8"/><path d="M1341.1 1546Q1297.5 1510 1255 1485.8Q1213.7 1462.2 1173.9 1449.8Q1135.3 1437.7 1098.4 1436.3Q1062.7 1434.9 1028.7 1443.4"/><path d="M1242.5 1541.9Q1286.2 1509.2 1328.8 1489.4Q1370 1470.1 1409.8 1463.1Q1448.2 1456.3 1484.9 1461Q1520.3 1465.5 1553.9 1480.6"/><path d="M1344.9 1543.7Q1301.2 1507.9 1258.7 1483.6Q1217.5 1460.1 1177.6 1447.7Q1139 1435.8 1102 1434.4Q1066.3 1433 1032.4 1441.5"/><path d="M1238.8 1539.3Q1282.5 1506.7 1325 1486.9Q1366.3 1467.7 1406.1 1460.8Q1444.5 1454 1481.3 1458.7Q1516.7 1463.2 1550.3 1478.4"/><path d="M1348.6 1541.5Q1304.9 1505.7 1262.5 1481.6Q1221.2 1458.1 1181.3 1445.8Q1142.7 1433.9 1105.7 1432.5Q1070 1431.2 1036 1439.7"/><path d="M1235.1 1536.7Q1278.8 1504.2 1321.3 1484.5Q1362.6 1465.4 1402.4 1458.4Q1440.9 1451.7 1477.7 1456.5Q1513.1 1461.1 1546.7 1476.2"/><path d="M1352.3 1539.4Q1308.7 1503.6 1266.2 1479.5Q1224.9 1456.1 1185 1443.9Q1146.4 1432 1109.4 1430.6Q1073.6 1429.4 1039.6 1437.9"/><path d="M1231.4 1534.2Q1275.1 1501.8 1317.6 1482.1Q1358.9 1463.1 1398.7 1456.2Q1437.2 1449.5 1474 1454.3Q1509.5 1458.9 1543.2 1474.1"/><path d="M1356 1537.2Q1312.4 1501.6 1269.9 1477.6Q1228.6 1454.2 1188.7 1442Q1150.1 1430.2 1113 1428.9Q1077.3 1427.6 1043.2 1436.2"/><path d="M1227.7 1531.7Q1271.4 1499.4 1313.9 1479.8Q1355.2 1460.8 1395 1453.9Q1433.5 1447.3 1470.4 1452.2Q1505.9 1456.8 1539.6 1472"/><path d="M1359.7 1535.2Q1316.1 1499.6 1273.6 1475.7Q1232.3 1452.4 1192.4 1440.2Q1153.8 1428.4 1116.7 1427.1Q1080.9 1425.9 1046.8 1434.5"/><path d="M1224 1529.3Q1267.7 1497 1310.2 1477.5Q1351.5 1458.6 1391.4 1451.8Q1429.9 1445.2 1466.8 1450Q1502.3 1454.7 1536 1470"/><path d="M1363.3 1533.2Q1319.7 1497.7 1277.3 1473.8Q1236 1450.5 1196.1 1438.4Q1157.4 1426.7 1120.3 1425.4Q1084.5 1424.2 1050.4 1432.8"/><path d="M1220.3 1527Q1264 1494.8 1306.6 1475.3Q1347.8 1456.4 1387.7 1449.6Q1426.2 1443.1 1463.1 1448Q1498.7 1452.7 1532.5 1468"/><path d="M1367 1531.2Q1323.4 1495.8 1280.9 1472Q1239.7 1448.8 1199.8 1436.7Q1161.1 1425 1124 1423.8Q1088.1 1422.6 1054 1431.2"/><path d="M1216.7 1524.6Q1260.3 1492.5 1302.9 1473.1Q1344.2 1454.2 1384 1447.5Q1422.6 1441.1 1459.5 1446Q1495.1 1450.7 1528.9 1466"/><path d="M1370.6 1529.3Q1327.1 1494 1284.6 1470.2Q1243.3 1447.1 1203.4 1435Q1164.7 1423.3 1127.6 1422.2Q1091.8 1421 1057.6 1429.7"/><path d="M1213 1522.4Q1256.7 1490.3 1299.2 1470.9Q1340.5 1452.2 1380.4 1445.5Q1419 1439.1 1455.9 1444Q1491.5 1448.8 1525.4 1464.1"/><path d="M1374.3 1527.5Q1330.7 1492.2 1288.3 1468.5Q1247 1445.4 1207.1 1433.4Q1168.4 1421.8 1131.2 1420.6Q1095.4 1419.5 1061.2 1428.2"/><path d="M1209.3 1520.2Q1253 1488.1 1295.6 1468.8Q1336.9 1450.1 1376.8 1443.5Q1415.4 1437.1 1452.3 1442.1Q1488 1446.9 1521.8 1462.2"/><path d="M1377.9 1525.7Q1334.4 1490.5 1291.9 1466.8Q1250.7 1443.8 1210.7 1431.8Q1172 1420.2 1134.9 1419.1Q1099 1418 1064.7 1426.7"/><path d="M1205.7 1518Q1249.4 1486 1291.9 1466.8Q1333.2 1448.1 1373.1 1441.5Q1411.7 1435.2 1448.7 1440.2Q1484.4 1445 1518.3 1460.4"/><path d="M1381.6 1524Q1338 1488.8 1295.6 1465.2Q1254.3 1442.2 1214.3 1430.3Q1175.6 1418.7 1138.5 1417.6Q1102.6 1416.6 1068.3 1425.3"/><path d="M1202.1 1515.8Q1245.7 1484 1288.3 1464.8Q1329.6 1446.2 1369.5 1439.6Q1408.1 1433.3 1445.2 1438.3Q1480.8 1443.2 1514.8 1458.6"/><path d="M1385.2 1522.3Q1341.7 1487.2 1299.2 1463.6Q1257.9 1440.7 1218 1428.8Q1179.3 1417.3 1142.1 1416.2Q1106.1 1415.2 1071.9 1423.9"/><path d="M1198.5 1513.8Q1242.1 1482 1284.7 1462.8Q1326 1444.2 1365.9 1437.7Q1404.5 1431.5 1441.6 1436.5Q1477.3 1441.4 1511.3 1456.8"/><path d="M1388.8 1520.6Q1345.3 1485.6 1302.8 1462.1Q1261.6 1439.2 1221.6 1427.4Q1182.9 1415.9 1145.7 1414.8Q1109.7 1413.8 1075.4 1422.5"/><path d="M1194.9 1511.7Q1238.5 1480 1281 1460.9Q1322.4 1442.4 1362.3 1435.9Q1400.9 1429.7 1438 1434.8Q1473.7 1439.7 1507.8 1455.1"/><path d="M1392.4 1519Q1348.9 1484.1 1306.4 1460.6Q1265.2 1437.8 1225.2 1426Q1186.5 1414.5 1149.2 1413.5Q1113.3 1412.5 1078.9 1421.3"/><path d="M1191.3 1509.7Q1234.9 1478.1 1277.4 1459Q1318.7 1440.6 1358.7 1434.1Q1397.4 1427.9 1434.5 1433Q1470.2 1438 1504.3 1453.4"/><path d="M1395.9 1517.5Q1352.5 1482.6 1310 1459.2Q1268.8 1436.4 1228.8 1424.6Q1190.1 1413.2 1152.8 1412.2Q1116.8 1411.3 1082.5 1420"/><path d="M1187.7 1507.8Q1231.3 1476.2 1273.8 1457.2Q1315.1 1438.8 1355.1 1432.4Q1393.8 1426.2 1430.9 1431.4Q1466.7 1436.3 1500.8 1451.8"/><path d="M1399.5 1516Q1356.1 1481.1 1313.6 1457.8Q1272.4 1435.1 1232.4 1423.3Q1193.7 1412 1156.4 1411Q1120.4 1410 1086 1418.8"/><path d="M1184.1 1505.9Q1227.6 1474.4 1270.1 1455.5Q1311.4 1437.1 1351.4 1430.7Q1390 1424.6 1427.1 1429.7Q1462.9 1434.6 1496.9 1450"/><path d="M1403.1 1514.5Q1359.6 1479.8 1317.2 1456.4Q1276 1433.8 1236 1422.1Q1197.2 1410.7 1160 1409.8Q1123.9 1408.9 1089.5 1417.6"/><path d="M1180.5 1504Q1223.7 1472.8 1265.9 1454Q1306.9 1435.7 1346.6 1429.3Q1385 1423 1421.9 1427.9Q1457.5 1432.6 1491.4 1447.5"/><path d="M1406.6 1513.1Q1363.2 1478.4 1320.8 1455.2Q1279.5 1432.5 1239.5 1420.9Q1200.8 1409.6 1163.5 1408.6Q1127.5 1407.7 1093.1 1416.5"/><path d="M1177 1502.2Q1219.8 1471.4 1261.6 1452.6Q1302.3 1434.5 1341.7 1427.9Q1379.8 1421.5 1416.5 1426.1Q1451.8 1430.5 1485.6 1445"/><path d="M1410.2 1511.8Q1366.8 1477.1 1324.3 1453.9Q1283.1 1431.3 1243.1 1419.7Q1204.4 1408.5 1167.1 1407.5Q1131 1406.7 1096.6 1415.5"/><path d="M1173.4 1500.5Q1215.9 1469.9 1257.4 1451.3Q1297.8 1433.2 1336.9 1426.5Q1374.8 1420.1 1411.3 1424.4Q1446.5 1428.5 1480.1 1442.7"/><path d="M1413.7 1510.5Q1370.3 1475.9 1327.9 1452.7Q1286.7 1430.2 1246.7 1418.6Q1207.9 1407.4 1170.6 1406.5Q1134.5 1405.6 1100.1 1414.4"/><path d="M1169.9 1498.7Q1212 1468.5 1253.2 1450Q1293.2 1432 1332 1425.2Q1369.6 1418.7 1405.8 1422.7Q1440.8 1426.5 1474.2 1440.2"/><path d="M1417.2 1509.2Q1373.8 1474.7 1331.4 1451.6Q1290.2 1429.1 1250.2 1417.5Q1211.5 1406.3 1174.1 1405.5Q1138.1 1404.6 1103.6 1413.4"/><path d="M1166.4 1497.1Q1208.1 1467.2 1248.9 1448.8Q1288.6 1430.9 1327.1 1424Q1364.4 1417.3 1400.4 1421Q1435.1 1424.6 1468.4 1437.9"/><path d="M1420.7 1508Q1377.4 1473.6 1335 1450.5Q1293.8 1428.1 1253.8 1416.5Q1215 1405.4 1177.7 1404.5Q1141.6 1403.7 1107 1412.5"/><path d="M1162.8 1495.4Q1204.2 1465.8 1244.7 1447.5Q1284.1 1429.7 1322.4 1422.7Q1359.4 1416 1395.2 1419.5Q1429.8 1422.8 1462.9 1435.7"/><path d="M1424.2 1506.8Q1381 1472.6 1338.7 1449.6Q1297.6 1427.2 1257.7 1415.7Q1219 1404.5 1181.7 1403.6Q1145.7 1402.7 1111.2 1411.4"/><path d="M1159.3 1493.9Q1200.3 1464.6 1240.5 1446.4Q1279.5 1428.7 1317.5 1421.6Q1354.3 1414.7 1389.8 1417.9Q1424.1 1421 1457 1433.4"/><path d="M1427.7 1505.7Q1384.9 1471.9 1343 1449Q1302.3 1426.8 1262.8 1415.2Q1224.4 1404 1187.4 1402.8Q1151.7 1401.6 1117.4 1409.9"/><path d="M1155.8 1492.3Q1196.4 1463.4 1236.2 1445.3Q1274.9 1427.7 1312.6 1420.5Q1349.1 1413.5 1384.3 1416.4Q1418.4 1419.2 1451.2 1431.3"/><path d="M1431.2 1504.7Q1388.9 1471.2 1347.5 1448.6Q1307.2 1426.5 1268.1 1414.9Q1230.1 1403.5 1193.4 1402Q1158 1400.6 1123.9 1408.4"/><path d="M1152.4 1490.8Q1192.6 1462.2 1232 1444.2Q1270.3 1426.7 1307.7 1419.4Q1343.9 1412.4 1378.9 1415Q1412.8 1417.5 1445.3 1429.1"/><path d="M1434.6 1503.7Q1392.8 1470.6 1351.8 1448.1Q1311.9 1426.2 1273.1 1414.5Q1235.5 1403.1 1199.1 1401.3Q1163.9 1399.6 1130.2 1407"/><path d="M1148.9 1489.4Q1188.8 1461 1227.8 1443.1Q1265.9 1425.7 1303 1418.4Q1338.9 1411.3 1373.7 1413.7Q1407.4 1416 1439.8 1427.2"/><path d="M1438.1 1502.7Q1396.7 1470 1356.1 1447.7Q1316.6 1426 1278.2 1414.2Q1240.9 1402.7 1204.8 1400.7Q1169.9 1398.7 1136.4 1405.7"/><path d="M1145.4 1488Q1184.9 1459.9 1223.6 1442.2Q1261.3 1424.9 1298.1 1417.4Q1333.8 1410.2 1368.3 1412.3Q1401.8 1414.4 1433.9 1425.2"/><path d="M1441.5 1501.8Q1400.6 1469.6 1360.5 1447.4Q1321.5 1425.9 1283.5 1414Q1246.6 1402.5 1210.8 1400.1Q1176.2 1397.9 1142.9 1404.3"/><path d="M1142 1486.6Q1181.1 1458.9 1219.4 1441.2Q1256.8 1424.1 1293.2 1416.5Q1328.6 1409.2 1362.9 1411.1Q1396.1 1412.9 1428 1423.2"/><path d="M1444.9 1500.9Q1404.5 1469.1 1364.8 1447.1Q1326.2 1425.7 1288.5 1413.8Q1252 1402.2 1216.5 1399.6Q1182.2 1397.2 1149.1 1403.2"/><path d="M1138.5 1485.3Q1177.2 1457.9 1215.2 1440.4Q1252.2 1423.3 1288.4 1415.7Q1323.4 1408.3 1357.5 1409.8Q1390.4 1411.4 1422.2 1421.4"/><path d="M1448.3 1500.1Q1408.4 1468.7 1369.2 1446.9Q1331 1425.7 1293.8 1413.7Q1257.6 1402 1222.5 1399.2Q1188.5 1396.5 1155.7 1402"/><path d="M1135.1 1484Q1173.4 1456.9 1211 1439.5Q1247.7 1422.5 1283.5 1414.8Q1318.3 1407.3 1352 1408.7Q1384.8 1410 1416.3 1419.5"/><path d="M1451.7 1499.3Q1412.3 1468.3 1373.5 1446.7Q1335.7 1425.6 1298.8 1413.6Q1263 1401.9 1228.2 1398.8Q1194.5 1395.8 1161.9 1401"/><path d="M1131.7 1482.8Q1169.6 1456 1206.9 1438.7Q1243.2 1421.8 1278.6 1414.1Q1313.1 1406.5 1346.6 1407.6Q1379.1 1408.6 1410.4 1417.8"/><path d="M1455.1 1498.6Q1416.2 1468 1377.9 1446.6Q1340.5 1425.7 1304.1 1413.6Q1268.6 1401.8 1234.2 1398.5Q1200.8 1395.3 1168.5 1400"/><path d="M1128.3 1481.6Q1165.8 1455.2 1202.7 1438Q1238.7 1421.2 1273.8 1413.3Q1308 1405.7 1341.2 1406.5Q1373.4 1407.3 1404.5 1416.1"/><path d="M1458.5 1497.9Q1420 1467.8 1382.2 1446.5Q1345.3 1425.8 1309.3 1413.7Q1274.2 1401.9 1240.2 1398.3Q1207.1 1394.8 1175.1 1399.1"/><path d="M1124.9 1480.5Q1162 1454.3 1198.5 1437.3Q1234.1 1420.6 1269 1412.7Q1302.9 1404.9 1335.8 1405.5Q1367.8 1406.1 1398.7 1414.5"/><path d="M1461.9 1497.2Q1423.9 1467.5 1386.5 1446.4Q1350 1425.9 1314.3 1413.7Q1279.6 1401.9 1245.8 1398.1Q1213 1394.4 1181.4 1398.3"/><path d="M1121.5 1479.4Q1158.2 1453.6 1194.3 1436.6Q1229.5 1420.1 1263.9 1412.1Q1297.5 1404.3 1330.1 1404.6Q1361.8 1404.9 1392.4 1412.8"/><path d="M1465.2 1496.7Q1427.7 1467.3 1390.8 1446.5Q1354.8 1426.1 1319.5 1413.9Q1285.2 1402 1251.8 1398Q1219.3 1394 1187.9 1397.5"/><path d="M1118.1 1478.3Q1154.4 1452.8 1190.1 1436Q1225 1419.6 1259.1 1411.5Q1292.4 1403.6 1324.7 1403.7Q1356.1 1403.7 1386.5 1411.3"/><path d="M1468.6 1496.1Q1431.6 1467.2 1395.1 1446.5Q1359.5 1426.3 1324.7 1414.1Q1290.8 1402.2 1257.8 1397.9Q1225.6 1393.7 1194.5 1396.8"/><path d="M1114.8 1477.3Q1150.7 1452.1 1186 1435.4Q1220.5 1419.1 1254.3 1411Q1287.2 1403 1319.3 1402.8Q1350.5 1402.7 1380.6 1409.9"/><path d="M1471.9 1495.6Q1435.4 1467.1 1399.4 1446.7Q1364.3 1426.7 1329.9 1414.4Q1296.4 1402.4 1263.7 1397.9Q1231.9 1393.5 1201.2 1396.2"/><path d="M1111.4 1476.3Q1146.9 1451.5 1181.9 1434.9Q1216.1 1418.7 1249.5 1410.5Q1282.1 1402.4 1313.9 1402.1Q1344.8 1401.7 1374.8 1408.5"/><path d="M1475.2 1495.1Q1439.2 1467.1 1403.8 1446.8Q1369.1 1427 1335.1 1414.7Q1302 1402.7 1269.7 1398Q1238.2 1393.4 1207.8 1395.6"/><path d="M1108.1 1475.4Q1143.2 1450.8 1177.8 1434.4Q1211.6 1418.3 1244.7 1410Q1277 1401.9 1308.5 1401.3Q1339.2 1400.7 1368.9 1407.2"/><path d="M1478.6 1494.7Q1443 1467.1 1408 1447Q1373.8 1427.4 1340.3 1415.1Q1307.6 1403.1 1275.6 1398.1Q1244.5 1393.3 1214.4 1395.2"/><path d="M1104.8 1474.5Q1139.4 1450.3 1173.6 1434Q1207 1418 1239.7 1409.7Q1271.7 1401.5 1302.8 1400.6Q1333.2 1399.8 1362.6 1405.9"/><path d="M1481.8 1494.4Q1446.8 1467.2 1412.3 1447.3Q1378.6 1427.9 1345.5 1415.5Q1313.1 1403.5 1281.6 1398.4Q1250.8 1393.3 1221 1394.8"/><path d="M1101.4 1473.7Q1135.7 1449.8 1169.5 1433.6Q1202.5 1417.7 1235 1409.3Q1266.6 1401.1 1297.5 1400Q1327.5 1399 1356.7 1404.7"/><path d="M1485.1 1494.1Q1450.6 1467.3 1416.6 1447.6Q1383.3 1428.3 1350.6 1416Q1318.7 1404 1287.5 1398.6Q1257.1 1393.4 1227.6 1394.5"/><path d="M1098.1 1472.9Q1132 1449.3 1165.3 1433.2Q1198 1417.5 1230 1409.1Q1261.3 1400.8 1291.8 1399.5Q1321.6 1398.2 1350.5 1403.5"/><path d="M1488.4 1493.8Q1454.4 1467.4 1420.8 1447.9Q1388 1428.9 1355.8 1416.6Q1324.3 1404.5 1293.5 1399Q1263.4 1393.5 1234.2 1394.3"/><path d="M1094.8 1472.1Q1128.3 1448.8 1161.3 1432.9Q1193.5 1417.3 1225.2 1408.8Q1256.2 1400.5 1286.4 1399Q1315.9 1397.5 1344.6 1402.4"/><path d="M1491.7 1493.5Q1458.2 1467.6 1425.1 1448.3Q1392.7 1429.5 1360.9 1417.2Q1329.8 1405.1 1299.4 1399.4Q1269.7 1393.8 1240.8 1394.2"/><path d="M1091.6 1471.4Q1124.5 1448.5 1157.1 1432.7Q1189 1417.2 1220.3 1408.6Q1250.9 1400.3 1280.8 1398.5Q1309.9 1396.8 1338.3 1401.4"/><path d="M1494.9 1493.4Q1461.9 1467.8 1429.3 1448.8Q1397.4 1430.1 1366 1417.8Q1335.4 1405.8 1305.3 1399.8Q1276 1394.1 1247.5 1394.1"/><path d="M1088.3 1470.7Q1120.9 1448.1 1153.1 1432.4Q1184.6 1417.1 1215.5 1408.5Q1245.8 1400.1 1275.4 1398.1Q1304.3 1396.2 1332.4 1400.5"/><path d="M1498.2 1493.2Q1465.7 1468.1 1433.7 1449.3Q1402.2 1430.9 1371.4 1418.6Q1341.1 1406.5 1311.6 1400.4Q1282.7 1394.5 1254.5 1394.1"/><path d="M1085 1470.1Q1127.8 1440.5 1169.7 1422.8Q1210.6 1405.6 1250.3 1399.9Q1288.9 1394.3 1326.2 1399.5"/><path d="M1501.4 1493.1Q1458.9 1460.3 1417.1 1438.3Q1376.5 1416.8 1336.9 1405.8Q1298.4 1395.1 1261.1 1394.3"/><path d="M1081.8 1469.5Q1124 1440.3 1165.5 1422.7Q1205.8 1405.6 1245.2 1399.7Q1283.3 1394 1320.3 1398.8"/><path d="M1504.6 1493.1Q1462.8 1460.8 1421.8 1439Q1381.8 1417.8 1342.8 1406.6Q1304.9 1395.8 1268.1 1394.5"/><path d="M1078.5 1468.9Q1120.2 1440.1 1161.1 1422.7Q1200.9 1405.7 1239.8 1399.6Q1277.5 1393.7 1314 1398"/><path d="M1507.8 1493Q1466.7 1461.4 1426.3 1439.8Q1386.9 1418.7 1348.4 1407.4Q1311 1396.4 1274.7 1394.7"/><path d="M1075.3 1468.4Q1116.3 1440.1 1156.7 1422.8Q1196 1405.9 1234.4 1399.6Q1271.6 1393.4 1307.8 1397.3"/><path d="M1511 1493.1Q1470.6 1462 1430.9 1440.6Q1392.2 1419.8 1354.3 1408.4Q1317.5 1397.3 1281.7 1395.1"/><path d="M1072.1 1467.9Q1112.6 1440 1152.5 1422.8Q1191.3 1406 1229.3 1399.5Q1266.1 1393.2 1301.9 1396.7"/><path d="M1514.2 1493.2Q1474.5 1462.6 1435.4 1441.4Q1397.3 1420.8 1360 1409.3Q1323.7 1398.1 1288.4 1395.5"/><path d="M1068.9 1467.5Q1108.8 1440 1148.1 1422.9Q1186.4 1406.3 1223.9 1399.6Q1260.3 1393.1 1295.6 1396.1"/><path d="M1517.3 1493.3Q1478.4 1463.3 1440 1442.4Q1402.5 1422 1365.8 1410.4Q1330.1 1399 1295.4 1396.1"/><path d="M1065.7 1467.1Q1105 1440 1143.8 1423.1Q1181.5 1406.5 1218.5 1399.7Q1254.4 1393.1 1289.4 1395.6"/><path d="M1520.5 1493.4Q1482.2 1464 1444.4 1443.3Q1407.6 1423.1 1371.5 1411.4Q1336.3 1400 1302 1396.7"/><path d="M1062.5 1466.8Q1101.3 1440.1 1139.4 1423.3Q1176.7 1406.9 1213.1 1399.9Q1248.6 1393.1 1283.1 1395.2"/><path d="M1523.6 1493.6Q1486.1 1464.8 1449 1444.3Q1412.8 1424.4 1377.3 1412.6Q1342.8 1401.1 1309 1397.4"/><path d="M1059.3 1466.5Q1097.5 1440.3 1135.1 1423.5Q1171.8 1407.2 1207.8 1400.1Q1242.8 1393.1 1276.8 1394.8"/><path d="M1526.8 1493.9Q1489.9 1465.6 1453.6 1445.4Q1418.1 1425.7 1383.2 1413.8Q1349.2 1402.3 1316 1398.2"/><path d="M1056.2 1466.2Q1093.7 1440.4 1130.8 1423.8Q1167 1407.7 1202.4 1400.4Q1236.9 1393.2 1270.6 1394.5"/><path d="M1529.9 1494.2Q1493.8 1466.5 1458.1 1446.6Q1423.3 1427.1 1389.1 1415.2Q1355.7 1403.5 1323 1399.1"/><path d="M1053 1466Q1090 1440.6 1126.5 1424.2Q1162.1 1408.1 1197.1 1400.7Q1231.1 1393.4 1264.3 1394.3"/><path d="M1533 1494.5Q1497.6 1467.4 1462.7 1447.7Q1428.5 1428.5 1394.9 1416.5Q1362.1 1404.8 1330.1 1400.1"/><path d="M1049.9 1465.8Q1086.3 1440.9 1122.2 1424.6Q1157.3 1408.7 1191.7 1401.1Q1225.3 1393.7 1258.1 1394.2"/><path d="M1536.1 1494.9Q1501.4 1468.3 1467.2 1448.9Q1433.7 1430 1400.8 1418Q1368.6 1406.2 1337.1 1401.2"/><path d="M1046.8 1465.6Q1082.6 1441.1 1117.9 1425Q1152.5 1409.2 1186.4 1401.5Q1219.5 1394 1251.8 1394.1"/><path d="M1539.2 1495.3Q1505.2 1469.3 1471.7 1450.2Q1438.9 1431.5 1406.6 1419.5Q1375 1407.7 1344.1 1402.3"/><path d="M1043.7 1465.5Q1078.9 1441.4 1113.7 1425.4Q1147.7 1409.8 1181.1 1402Q1213.7 1394.3 1245.6 1394.1"/><path d="M1542.2 1495.7Q1509 1470.3 1476.2 1451.5Q1444.1 1433.1 1412.4 1421Q1381.4 1409.2 1351.1 1403.6"/><path d="M1040.6 1465.4Q1075.2 1441.8 1109.4 1426Q1142.9 1410.5 1175.8 1402.5Q1207.9 1394.7 1239.3 1394.2"/><path d="M1545.3 1496.2Q1512.8 1471.4 1480.7 1452.9Q1449.2 1434.7 1418.2 1422.6Q1387.9 1410.8 1358.1 1404.9"/><path d="M1037.5 1465.4Q1071.5 1442.2 1105.2 1426.5Q1138.1 1411.2 1170.5 1403.1Q1202.1 1395.2 1233.1 1394.3"/><path d="M1548.3 1496.7Q1516.7 1472.6 1485.3 1454.3Q1454.6 1436.5 1424.3 1424.4Q1394.6 1412.6 1365.5 1406.5"/><path d="M1034.4 1465.4Q1067.8 1442.7 1100.8 1427.1Q1133.1 1412 1164.9 1403.8Q1196 1395.8 1226.5 1394.6"/><path d="M1551.4 1497.3Q1520.4 1473.7 1489.8 1455.8Q1459.7 1438.2 1430.1 1426.2Q1401 1414.4 1372.5 1408"/><path d="M1031.4 1465.4Q1064.1 1443.1 1096.6 1427.8Q1128.3 1412.8 1159.6 1404.5Q1190.2 1396.4 1220.2 1394.9"/><path d="M1554.4 1497.9Q1524.2 1474.9 1494.3 1457.3Q1464.9 1440 1435.9 1428Q1407.5 1416.2 1379.5 1409.6"/><path d="M1028.3 1465.5Q1060.5 1443.6 1092.4 1428.4Q1123.6 1413.6 1154.4 1405.2Q1184.5 1397.1 1214 1395.2"/><path d="M1557.4 1498.6Q1528 1476.2 1498.8 1458.9Q1470.2 1441.9 1441.9 1430Q1414.2 1418.2 1386.9 1411.4"/><path d="M1025.3 1465.6Q1056.8 1444.2 1088 1429.2Q1118.6 1414.5 1148.8 1406.1Q1178.4 1397.9 1207.4 1395.7"/><path d="M1560.4 1499.3Q1531.7 1477.4 1503.3 1460.5Q1475.3 1443.8 1447.7 1431.9Q1420.6 1420.2 1393.9 1413.2"/><path d="M1022.2 1465.8Q1053.2 1444.8 1083.8 1430Q1113.9 1415.4 1143.6 1407Q1172.6 1398.7 1201.1 1396.2"/><path d="M1563.4 1500Q1521.7 1468.3 1480.6 1446.9Q1440.5 1426 1401.3 1415.2"/><path d="M1019.2 1466Q1049.5 1445.4 1079.5 1430.8Q1109 1416.5 1138 1407.9Q1166.5 1399.6 1194.5 1396.8"/><path d="M1566.3 1500.8Q1525.8 1470 1485.9 1448.9Q1446.9 1428.4 1408.7 1417.3"/><path d="M1016.2 1466.2Q1045.9 1446.1 1075.3 1431.6Q1104.3 1417.5 1132.8 1408.9Q1160.8 1400.5 1188.3 1397.4"/><path d="M1569.3 1501.6Q1529.9 1471.6 1490.9 1450.9Q1452.9 1430.6 1415.6 1419.3"/><path d="M1013.2 1466.5Q1042.3 1446.8 1071.1 1432.6Q1099.3 1418.6 1127.3 1410Q1154.7 1401.5 1181.7 1398.2"/><path d="M1572.2 1502.5Q1534 1473.4 1496.2 1453Q1459.3 1433.1 1423 1421.6"/><path d="M1010.2 1466.8Q1052.6 1438.1 1094.5 1421Q1135.2 1404.4 1175.1 1399.1"/><path d="M1575.2 1503.3Q1538.1 1475.2 1501.5 1455.2Q1465.6 1435.6 1430.4 1424"/><path d="M1007.3 1467.1Q1048.8 1439 1089.8 1422.1Q1129.7 1405.6 1168.9 1399.9"/><path d="M1578.1 1504.3Q1542.2 1477 1506.7 1457.4Q1472 1438.2 1437.8 1426.5"/><path d="M1004.3 1467.5Q1044.9 1440.1 1084.9 1423.3Q1124 1407 1162.3 1400.9"/><path d="M1581 1505.2Q1546.3 1478.9 1511.9 1459.7Q1478.3 1440.9 1445.1 1429.1"/><path d="M1001.4 1467.9Q1040.9 1441.2 1080.1 1424.6Q1118.2 1408.4 1155.7 1402"/><path d="M1583.9 1506.2Q1550.4 1480.8 1517.1 1462Q1484.6 1443.6 1452.5 1431.7"/><path d="M998.4 1468.4Q1037 1442.3 1075.2 1425.9Q1112.5 1409.9 1149.1 1403.2"/><path d="M1586.8 1507.3Q1554.4 1482.7 1522.3 1464.4Q1490.9 1446.4 1459.8 1434.5"/><path d="M995.5 1468.9Q1033.1 1443.5 1070.4 1427.2Q1106.8 1411.4 1142.5 1404.4"/><path d="M1589.6 1508.4Q1558.6 1484.8 1527.7 1466.9Q1497.5 1449.4 1467.6 1437.5"/><path d="M992.6 1469.4Q1029.3 1444.6 1065.6 1428.6Q1101 1413 1136 1405.7"/><path d="M1592.5 1509.5Q1562.6 1486.8 1532.9 1469.4Q1503.8 1452.4 1474.9 1440.5"/><path d="M989.7 1470Q1025.4 1445.9 1060.8 1430.1Q1095.3 1414.6 1129.4 1407.1"/><path d="M1595.4 1510.6Q1566.6 1488.8 1538.1 1472Q1510 1455.4 1482.3 1443.6"/><path d="M986.8 1470.5Q1021.5 1447.1 1056 1431.6Q1089.6 1416.3 1122.8 1408.6"/><path d="M1598.2 1511.8Q1570.7 1491 1543.4 1474.7Q1516.6 1458.6 1490 1446.9"/><path d="M983.9 1471.2Q1017.7 1448.4 1051.2 1433.1Q1083.9 1418.1 1116.3 1410.2"/><path d="M1601 1513.1Q1574.7 1493.1 1548.6 1477.3Q1522.8 1461.7 1497.3 1450.2"/><path d="M981.1 1471.8Q1013.9 1449.8 1046.4 1434.7Q1078.3 1419.9 1109.7 1411.8"/></g>
<g clip-path="url(#sF)" fill="none" stroke="#000" stroke-linejoin="round" stroke-linecap="butt"><use href="#bF" stroke-width="8" stroke-opacity="0.25"/><use href="#bF" stroke-width="3.6" stroke-opacity="0.55"/></g>
<g fill="#000"><rect x="985.3" y="1563.3" width="3.4" height="3"/><rect x="981.5" y="1503.3" width="3.4" height="3"/><rect x="977.7" y="1443.4" width="3.4" height="3"/><rect x="973.9" y="1383.4" width="3.4" height="3"/><rect x="970.1" y="1323.4" width="3.4" height="3"/><rect x="1290.3" y="1747.8" width="3.4" height="3"/><rect x="1230.3" y="1725.9" width="3.4" height="3"/><rect x="1170.2" y="1704.0" width="3.4" height="3"/><rect x="1110.2" y="1682.1" width="3.4" height="3"/><rect x="1050.1" y="1660.3" width="3.4" height="3"/><rect x="990.0" y="1638.4" width="3.4" height="3"/><rect x="1365.6" y="1720.4" width="3.4" height="3"/><rect x="1440.9" y="1693.1" width="3.4" height="3"/><rect x="1516.2" y="1665.7" width="3.4" height="3"/><rect x="1591.5" y="1638.4" width="3.4" height="3"/></g>
<g font-family="'Liberation Sans',Arial,Helvetica,sans-serif" fill="#000"><text transform="translate(976.58 1559.73)" font-size="19" text-anchor="end" stroke="#000" stroke-width="0.85" stroke-linejoin="round">70</text><text transform="translate(972.77 1499.75)" font-size="19" text-anchor="end" stroke="#000" stroke-width="0.85" stroke-linejoin="round">80</text><text transform="translate(968.97 1439.76)" font-size="19" text-anchor="end" stroke="#000" stroke-width="0.85" stroke-linejoin="round">90</text><text transform="translate(965.16 1379.78)" font-size="19" text-anchor="end" stroke="#000" stroke-width="0.85" stroke-linejoin="round">100</text><text transform="translate(961.35 1319.80)" font-size="19" text-anchor="end" stroke="#000" stroke-width="0.85" stroke-linejoin="round">110</text><text transform="translate(1281.41 1768.27)" font-size="19.4" text-anchor="end" stroke="#000" stroke-width="0.8" stroke-linejoin="round" letter-spacing="-0.4">30.00</text><text transform="translate(1221.36 1746.39)" font-size="19.4" text-anchor="end" stroke="#000" stroke-width="0.8" stroke-linejoin="round" letter-spacing="-0.4">36.00</text><text transform="translate(1161.31 1724.52)" font-size="19.4" text-anchor="end" stroke="#000" stroke-width="0.8" stroke-linejoin="round" letter-spacing="-0.4">42.00</text><text transform="translate(1101.25 1702.65)" font-size="19.4" text-anchor="end" stroke="#000" stroke-width="0.8" stroke-linejoin="round" letter-spacing="-0.4">48.00</text><text transform="translate(1041.20 1680.77)" font-size="19.4" text-anchor="end" stroke="#000" stroke-width="0.8" stroke-linejoin="round" letter-spacing="-0.4">54.00</text><text transform="translate(981.15 1658.90)" font-size="19.4" text-anchor="end" stroke="#000" stroke-width="0.8" stroke-linejoin="round" letter-spacing="-0.4">60.00</text><text transform="translate(1302.51 1768.27)" font-size="19.4" stroke="#000" stroke-width="0.8" stroke-linejoin="round" letter-spacing="-0.4">6.00</text><text transform="translate(1377.81 1740.92)" font-size="19.4" stroke="#000" stroke-width="0.8" stroke-linejoin="round" letter-spacing="-0.4">6.50</text><text transform="translate(1453.11 1713.58)" font-size="19.4" stroke="#000" stroke-width="0.8" stroke-linejoin="round" letter-spacing="-0.4">7.00</text><text transform="translate(1528.41 1686.23)" font-size="19.4" stroke="#000" stroke-width="0.8" stroke-linejoin="round" letter-spacing="-0.4">7.50</text><text transform="translate(1603.71 1658.89)" font-size="19.4" stroke="#000" stroke-width="0.8" stroke-linejoin="round" letter-spacing="-0.4">8.00</text><text transform="translate(1025.30 1741.00) scale(1.050 1)" font-size="16" text-anchor="middle" stroke="#000" stroke-width="0.7" stroke-linejoin="round">X3/min</text><text transform="translate(1557.60 1741.00) scale(1.050 1)" font-size="16" text-anchor="middle" stroke="#000" stroke-width="0.7" stroke-linejoin="round">X2/%</text></g>
<text transform="translate(870.40 1270.50) scale(0.870 1)" font-family="'Liberation Sans',Arial,Helvetica,sans-serif" font-size="31.7" font-weight="bold" fill="#000">F</text>
</svg></body></html>
